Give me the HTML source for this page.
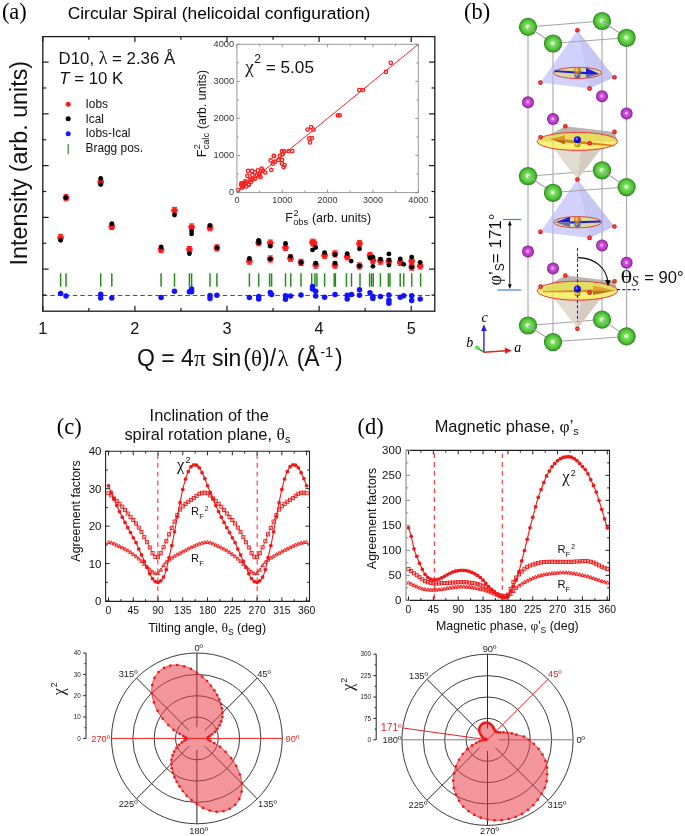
<!DOCTYPE html>
<html><head><meta charset="utf-8"><title>Figure</title>
<style>html,body{margin:0;padding:0;background:#fff;}svg{display:block;will-change:transform;}</style></head>
<body><svg width="685" height="836" viewBox="0 0 685 836">
<rect width="685" height="836" fill="#fff"/>
<text x="1.9" y="19" font-size="22.4" text-anchor="start" fill="#000" style="font-family:'Liberation Serif',serif;" >(a)</text>
<text x="67.7" y="18.5" font-size="17.4" text-anchor="start" fill="#000" style="font-family:'Liberation Sans',sans-serif;" >Circular Spiral (helicoidal configuration)</text>
<line x1="60.6" y1="273.3" x2="60.6" y2="286.7" stroke="#2a8a1e" stroke-width="1.5" />
<line x1="66" y1="273.3" x2="66" y2="286.7" stroke="#2a8a1e" stroke-width="1.5" />
<line x1="100.7" y1="273.3" x2="100.7" y2="286.7" stroke="#2a8a1e" stroke-width="1.5" />
<line x1="111.8" y1="273.3" x2="111.8" y2="286.7" stroke="#2a8a1e" stroke-width="1.5" />
<line x1="161.1" y1="273.3" x2="161.1" y2="286.7" stroke="#2a8a1e" stroke-width="1.5" />
<line x1="174.5" y1="273.3" x2="174.5" y2="286.7" stroke="#2a8a1e" stroke-width="1.5" />
<line x1="189.4" y1="273.3" x2="189.4" y2="286.7" stroke="#2a8a1e" stroke-width="1.5" />
<line x1="191.6" y1="273.3" x2="191.6" y2="286.7" stroke="#2a8a1e" stroke-width="1.5" />
<line x1="210" y1="273.3" x2="210" y2="286.7" stroke="#2a8a1e" stroke-width="1.5" />
<line x1="216.9" y1="273.3" x2="216.9" y2="286.7" stroke="#2a8a1e" stroke-width="1.5" />
<line x1="249.4" y1="273.3" x2="249.4" y2="286.7" stroke="#2a8a1e" stroke-width="1.5" />
<line x1="258.7" y1="273.3" x2="258.7" y2="286.7" stroke="#2a8a1e" stroke-width="1.5" />
<line x1="269.6" y1="273.3" x2="269.6" y2="286.7" stroke="#2a8a1e" stroke-width="1.5" />
<line x1="271.6" y1="273.3" x2="271.6" y2="286.7" stroke="#2a8a1e" stroke-width="1.5" />
<line x1="285.5" y1="273.3" x2="285.5" y2="286.7" stroke="#2a8a1e" stroke-width="1.5" />
<line x1="290.8" y1="273.3" x2="290.8" y2="286.7" stroke="#2a8a1e" stroke-width="1.5" />
<line x1="301" y1="273.3" x2="301" y2="286.7" stroke="#2a8a1e" stroke-width="1.5" />
<line x1="311.7" y1="273.3" x2="311.7" y2="286.7" stroke="#2a8a1e" stroke-width="1.5" />
<line x1="314.9" y1="273.3" x2="314.9" y2="286.7" stroke="#2a8a1e" stroke-width="1.5" />
<line x1="316.9" y1="273.3" x2="316.9" y2="286.7" stroke="#2a8a1e" stroke-width="1.5" />
<line x1="324.6" y1="273.3" x2="324.6" y2="286.7" stroke="#2a8a1e" stroke-width="1.5" />
<line x1="334.2" y1="273.3" x2="334.2" y2="286.7" stroke="#2a8a1e" stroke-width="1.5" />
<line x1="335.4" y1="273.3" x2="335.4" y2="286.7" stroke="#2a8a1e" stroke-width="1.5" />
<line x1="346.4" y1="273.3" x2="346.4" y2="286.7" stroke="#2a8a1e" stroke-width="1.5" />
<line x1="351.5" y1="273.3" x2="351.5" y2="286.7" stroke="#2a8a1e" stroke-width="1.5" />
<line x1="360" y1="273.3" x2="360" y2="286.7" stroke="#2a8a1e" stroke-width="1.5" />
<line x1="369.6" y1="273.3" x2="369.6" y2="286.7" stroke="#2a8a1e" stroke-width="1.5" />
<line x1="371.6" y1="273.3" x2="371.6" y2="286.7" stroke="#2a8a1e" stroke-width="1.5" />
<line x1="373.2" y1="273.3" x2="373.2" y2="286.7" stroke="#2a8a1e" stroke-width="1.5" />
<line x1="380.4" y1="273.3" x2="380.4" y2="286.7" stroke="#2a8a1e" stroke-width="1.5" />
<line x1="388.4" y1="273.3" x2="388.4" y2="286.7" stroke="#2a8a1e" stroke-width="1.5" />
<line x1="390" y1="273.3" x2="390" y2="286.7" stroke="#2a8a1e" stroke-width="1.5" />
<line x1="400.2" y1="273.3" x2="400.2" y2="286.7" stroke="#2a8a1e" stroke-width="1.5" />
<line x1="403.7" y1="273.3" x2="403.7" y2="286.7" stroke="#2a8a1e" stroke-width="1.5" />
<line x1="411.7" y1="273.3" x2="411.7" y2="286.7" stroke="#2a8a1e" stroke-width="1.5" />
<line x1="420.6" y1="273.3" x2="420.6" y2="286.7" stroke="#2a8a1e" stroke-width="1.5" />
<line x1="42.8" y1="295.5" x2="434.8" y2="295.5" stroke="#3b3bff" stroke-width="1" stroke-dasharray="4.5,3"/>
<circle cx="60.6" cy="293.4" r="2.75" fill="#1212ff"/>
<circle cx="66" cy="295.9" r="2.75" fill="#1212ff"/>
<circle cx="100.7" cy="294.2" r="2.75" fill="#1212ff"/>
<circle cx="100.7" cy="298" r="2.75" fill="#1212ff"/>
<circle cx="111.8" cy="298" r="2.75" fill="#1212ff"/>
<circle cx="161.1" cy="297.5" r="2.75" fill="#1212ff"/>
<circle cx="174.5" cy="291.2" r="2.75" fill="#1212ff"/>
<circle cx="189.4" cy="291.7" r="2.75" fill="#1212ff"/>
<circle cx="191.6" cy="289" r="2.75" fill="#1212ff"/>
<circle cx="191.6" cy="291.7" r="2.75" fill="#1212ff"/>
<circle cx="210" cy="295.6" r="2.75" fill="#1212ff"/>
<circle cx="210" cy="298.5" r="2.75" fill="#1212ff"/>
<circle cx="216.9" cy="295.2" r="2.75" fill="#1212ff"/>
<circle cx="249.4" cy="297.6" r="2.75" fill="#1212ff"/>
<circle cx="258.7" cy="296.5" r="2.75" fill="#1212ff"/>
<circle cx="258.7" cy="298.9" r="2.75" fill="#1212ff"/>
<circle cx="270.3" cy="292.4" r="2.75" fill="#1212ff"/>
<circle cx="271.6" cy="294.4" r="2.75" fill="#1212ff"/>
<circle cx="285.5" cy="295.7" r="2.75" fill="#1212ff"/>
<circle cx="285.5" cy="299.2" r="2.75" fill="#1212ff"/>
<circle cx="290.5" cy="296.1" r="2.75" fill="#1212ff"/>
<circle cx="301" cy="294.9" r="2.75" fill="#1212ff"/>
<circle cx="312.5" cy="286.5" r="2.75" fill="#1212ff"/>
<circle cx="312.5" cy="289" r="2.75" fill="#1212ff"/>
<circle cx="315.7" cy="291.2" r="2.75" fill="#1212ff"/>
<circle cx="315.7" cy="296" r="2.75" fill="#1212ff"/>
<circle cx="324.6" cy="297.3" r="2.75" fill="#1212ff"/>
<circle cx="335" cy="294.4" r="2.75" fill="#1212ff"/>
<circle cx="347.2" cy="295.3" r="2.75" fill="#1212ff"/>
<circle cx="347.2" cy="298.9" r="2.75" fill="#1212ff"/>
<circle cx="351.5" cy="294.4" r="2.75" fill="#1212ff"/>
<circle cx="359.5" cy="289.7" r="2.75" fill="#1212ff"/>
<circle cx="359.5" cy="295.3" r="2.75" fill="#1212ff"/>
<circle cx="370" cy="292.8" r="2.75" fill="#1212ff"/>
<circle cx="372.9" cy="296.5" r="2.75" fill="#1212ff"/>
<circle cx="372.9" cy="298.6" r="2.75" fill="#1212ff"/>
<circle cx="380.4" cy="296.5" r="2.75" fill="#1212ff"/>
<circle cx="388.9" cy="294.9" r="2.75" fill="#1212ff"/>
<circle cx="388.9" cy="300.2" r="2.75" fill="#1212ff"/>
<circle cx="388.9" cy="303.2" r="2.75" fill="#1212ff"/>
<circle cx="400.2" cy="297.3" r="2.75" fill="#1212ff"/>
<circle cx="403.7" cy="295.7" r="2.75" fill="#1212ff"/>
<circle cx="411.7" cy="295.7" r="2.75" fill="#1212ff"/>
<circle cx="411.7" cy="300.5" r="2.75" fill="#1212ff"/>
<circle cx="420.2" cy="298.9" r="2.75" fill="#1212ff"/>
<path d="M58.1 234.6h5M60.6 234.6v6.2M58.1 240.8h5" stroke="#ff1010" stroke-width="1" fill="none"/>
<ellipse cx="60.6" cy="237.7" rx="3.3" ry="2.8" fill="#ff1a1a"/>
<path d="M63.5 194.6h5M66 194.6v6.2M63.5 200.8h5" stroke="#ff1010" stroke-width="1" fill="none"/>
<ellipse cx="66" cy="197.7" rx="3.3" ry="2.8" fill="#ff1a1a"/>
<path d="M98.2 178.8h5M100.7 178.8v6.2M98.2 185h5" stroke="#ff1010" stroke-width="1" fill="none"/>
<ellipse cx="100.7" cy="181.9" rx="3.3" ry="2.8" fill="#ff1a1a"/>
<path d="M109.3 223.3h5M111.8 223.3v6.2M109.3 229.5h5" stroke="#ff1010" stroke-width="1" fill="none"/>
<ellipse cx="111.8" cy="226.4" rx="3.3" ry="2.8" fill="#ff1a1a"/>
<path d="M158.6 246.5h5M161.1 246.5v6.2M158.6 252.7h5" stroke="#ff1010" stroke-width="1" fill="none"/>
<ellipse cx="161.1" cy="249.6" rx="3.3" ry="2.8" fill="#ff1a1a"/>
<path d="M172 207.4h5M174.5 207.4v6.2M172 213.6h5" stroke="#ff1010" stroke-width="1" fill="none"/>
<ellipse cx="174.5" cy="210.5" rx="3.3" ry="2.8" fill="#ff1a1a"/>
<path d="M186.9 246.5h5M189.4 246.5v6.2M186.9 252.7h5" stroke="#ff1010" stroke-width="1" fill="none"/>
<ellipse cx="189.4" cy="249.6" rx="3.3" ry="2.8" fill="#ff1a1a"/>
<path d="M189.1 223.9h5M191.6 223.9v6.2M189.1 230.1h5" stroke="#ff1010" stroke-width="1" fill="none"/>
<ellipse cx="191.6" cy="227" rx="3.3" ry="2.8" fill="#ff1a1a"/>
<path d="M207.5 224.6h5M210 224.6v6.2M207.5 230.8h5" stroke="#ff1010" stroke-width="1" fill="none"/>
<ellipse cx="210" cy="227.7" rx="3.3" ry="2.8" fill="#ff1a1a"/>
<path d="M214.4 244.8h5M216.9 244.8v6.2M214.4 251h5" stroke="#ff1010" stroke-width="1" fill="none"/>
<ellipse cx="216.9" cy="247.9" rx="3.3" ry="2.8" fill="#ff1a1a"/>
<path d="M246.9 258h5M249.4 258v6.2M246.9 264.2h5" stroke="#ff1010" stroke-width="1" fill="none"/>
<ellipse cx="249.4" cy="261.1" rx="3.3" ry="2.8" fill="#ff1a1a"/>
<path d="M256.2 239.6h5M258.7 239.6v6.2M256.2 245.8h5" stroke="#ff1010" stroke-width="1" fill="none"/>
<ellipse cx="258.7" cy="242.7" rx="3.3" ry="2.8" fill="#ff1a1a"/>
<path d="M267.8 240h5M270.3 240v6.2M267.8 246.2h5" stroke="#ff1010" stroke-width="1" fill="none"/>
<ellipse cx="270.3" cy="243.1" rx="3.3" ry="2.8" fill="#ff1a1a"/>
<path d="M267.8 255.9h5M270.3 255.9v6.2M267.8 262.1h5" stroke="#ff1010" stroke-width="1" fill="none"/>
<ellipse cx="270.3" cy="259" rx="3.3" ry="2.8" fill="#ff1a1a"/>
<path d="M283 244.4h5M285.5 244.4v6.2M283 250.6h5" stroke="#ff1010" stroke-width="1" fill="none"/>
<ellipse cx="285.5" cy="247.5" rx="3.3" ry="2.8" fill="#ff1a1a"/>
<path d="M288 255.1h5M290.5 255.1v6.2M288 261.3h5" stroke="#ff1010" stroke-width="1" fill="none"/>
<ellipse cx="290.5" cy="258.2" rx="3.3" ry="2.8" fill="#ff1a1a"/>
<path d="M298.5 259.3h5M301 259.3v6.2M298.5 265.5h5" stroke="#ff1010" stroke-width="1" fill="none"/>
<ellipse cx="301" cy="262.4" rx="3.3" ry="2.8" fill="#ff1a1a"/>
<path d="M310 239.2h5M312.5 239.2v6.2M310 245.4h5" stroke="#ff1010" stroke-width="1" fill="none"/>
<ellipse cx="312.5" cy="242.3" rx="3.3" ry="2.8" fill="#ff1a1a"/>
<path d="M311.5 240h5M314 240v6.2M311.5 246.2h5" stroke="#ff1010" stroke-width="1" fill="none"/>
<ellipse cx="314" cy="243.1" rx="3.3" ry="2.8" fill="#ff1a1a"/>
<path d="M313.2 262h5M315.7 262v6.2M313.2 268.2h5" stroke="#ff1010" stroke-width="1" fill="none"/>
<ellipse cx="315.7" cy="265.1" rx="3.3" ry="2.8" fill="#ff1a1a"/>
<path d="M322.1 252.1h5M324.6 252.1v6.2M322.1 258.3h5" stroke="#ff1010" stroke-width="1" fill="none"/>
<ellipse cx="324.6" cy="255.2" rx="3.3" ry="2.8" fill="#ff1a1a"/>
<path d="M332.5 250.8h5M335 250.8v6.2M332.5 257h5" stroke="#ff1010" stroke-width="1" fill="none"/>
<ellipse cx="335" cy="253.9" rx="3.3" ry="2.8" fill="#ff1a1a"/>
<path d="M332.5 262h5M335 262v6.2M332.5 268.2h5" stroke="#ff1010" stroke-width="1" fill="none"/>
<ellipse cx="335" cy="265.1" rx="3.3" ry="2.8" fill="#ff1a1a"/>
<path d="M344.7 253.7h5M347.2 253.7v6.2M344.7 259.9h5" stroke="#ff1010" stroke-width="1" fill="none"/>
<ellipse cx="347.2" cy="256.8" rx="3.3" ry="2.8" fill="#ff1a1a"/>
<path d="M357 240.4h5M359.5 240.4v6.2M357 246.6h5" stroke="#ff1010" stroke-width="1" fill="none"/>
<ellipse cx="359.5" cy="243.5" rx="3.3" ry="2.8" fill="#ff1a1a"/>
<path d="M357 262.9h5M359.5 262.9v6.2M357 269.1h5" stroke="#ff1010" stroke-width="1" fill="none"/>
<ellipse cx="359.5" cy="266" rx="3.3" ry="2.8" fill="#ff1a1a"/>
<path d="M367.5 252.4h5M370 252.4v6.2M367.5 258.6h5" stroke="#ff1010" stroke-width="1" fill="none"/>
<ellipse cx="370" cy="255.5" rx="3.3" ry="2.8" fill="#ff1a1a"/>
<path d="M370.4 257.2h5M372.9 257.2v6.2M370.4 263.4h5" stroke="#ff1010" stroke-width="1" fill="none"/>
<ellipse cx="372.9" cy="260.3" rx="3.3" ry="2.8" fill="#ff1a1a"/>
<path d="M377.9 258h5M380.4 258v6.2M377.9 264.2h5" stroke="#ff1010" stroke-width="1" fill="none"/>
<ellipse cx="380.4" cy="261.1" rx="3.3" ry="2.8" fill="#ff1a1a"/>
<path d="M386.4 258.5h5M388.9 258.5v6.2M386.4 264.7h5" stroke="#ff1010" stroke-width="1" fill="none"/>
<ellipse cx="388.9" cy="261.6" rx="3.3" ry="2.8" fill="#ff1a1a"/>
<path d="M397.7 259.2h5M400.2 259.2v6.2M397.7 265.4h5" stroke="#ff1010" stroke-width="1" fill="none"/>
<ellipse cx="400.2" cy="262.3" rx="3.3" ry="2.8" fill="#ff1a1a"/>
<path d="M409.2 258h5M411.7 258v6.2M409.2 264.2h5" stroke="#ff1010" stroke-width="1" fill="none"/>
<ellipse cx="411.7" cy="261.1" rx="3.3" ry="2.8" fill="#ff1a1a"/>
<path d="M409.2 264h5M411.7 264v6.2M409.2 270.2h5" stroke="#ff1010" stroke-width="1" fill="none"/>
<ellipse cx="411.7" cy="267.1" rx="3.3" ry="2.8" fill="#ff1a1a"/>
<path d="M417.7 262.9h5M420.2 262.9v6.2M417.7 269.1h5" stroke="#ff1010" stroke-width="1" fill="none"/>
<ellipse cx="420.2" cy="266" rx="3.3" ry="2.8" fill="#ff1a1a"/>
<circle cx="60.6" cy="240.3" r="2.4" fill="#000"/>
<circle cx="66" cy="197.7" r="2.4" fill="#000"/>
<circle cx="100.7" cy="178.5" r="2.4" fill="#000"/>
<circle cx="100.7" cy="184.6" r="2.4" fill="#000"/>
<circle cx="111.8" cy="223.7" r="2.4" fill="#000"/>
<circle cx="161.1" cy="247" r="2.4" fill="#000"/>
<circle cx="174.5" cy="215" r="2.4" fill="#000"/>
<circle cx="189.4" cy="253.6" r="2.4" fill="#000"/>
<circle cx="191.6" cy="231.1" r="2.4" fill="#000"/>
<circle cx="191.6" cy="233.9" r="2.4" fill="#000"/>
<circle cx="210" cy="225.3" r="2.4" fill="#000"/>
<circle cx="216.9" cy="247.9" r="2.4" fill="#000"/>
<circle cx="249.4" cy="258.4" r="2.4" fill="#000"/>
<circle cx="258.7" cy="240.3" r="2.4" fill="#000"/>
<circle cx="258.7" cy="242.7" r="2.4" fill="#000"/>
<circle cx="270.3" cy="246.2" r="2.4" fill="#000"/>
<circle cx="270.3" cy="259" r="2.4" fill="#000"/>
<circle cx="285.5" cy="243.5" r="2.4" fill="#000"/>
<circle cx="290.5" cy="256.3" r="2.4" fill="#000"/>
<circle cx="301" cy="262.4" r="2.4" fill="#000"/>
<circle cx="312.5" cy="249.9" r="2.4" fill="#000"/>
<circle cx="315.7" cy="247.5" r="2.4" fill="#000"/>
<circle cx="315.7" cy="263.2" r="2.4" fill="#000"/>
<circle cx="324.6" cy="252.6" r="2.4" fill="#000"/>
<circle cx="335" cy="254.7" r="2.4" fill="#000"/>
<circle cx="335" cy="263.1" r="2.4" fill="#000"/>
<circle cx="347.2" cy="253.6" r="2.4" fill="#000"/>
<circle cx="351.2" cy="261.1" r="2.4" fill="#000"/>
<circle cx="359.5" cy="248.8" r="2.4" fill="#000"/>
<circle cx="359.5" cy="266" r="2.4" fill="#000"/>
<circle cx="370" cy="257.9" r="2.4" fill="#000"/>
<circle cx="372.9" cy="257.1" r="2.4" fill="#000"/>
<circle cx="372.9" cy="266.3" r="2.4" fill="#000"/>
<circle cx="380.4" cy="259.2" r="2.4" fill="#000"/>
<circle cx="388.9" cy="253.9" r="2.4" fill="#000"/>
<circle cx="388.9" cy="260" r="2.4" fill="#000"/>
<circle cx="388.9" cy="265.1" r="2.4" fill="#000"/>
<circle cx="400.2" cy="259" r="2.4" fill="#000"/>
<circle cx="403.7" cy="264.3" r="2.4" fill="#000"/>
<circle cx="411.7" cy="257.1" r="2.4" fill="#000"/>
<circle cx="411.7" cy="267.1" r="2.4" fill="#000"/>
<circle cx="420.2" cy="262.3" r="2.4" fill="#000"/>
<rect x="42.8" y="36.6" width="392" height="274.6" fill="none" stroke="#1a1a1a" stroke-width="1.3"/>
<line x1="42.8" y1="311.2" x2="42.8" y2="305.7" stroke="#1a1a1a" stroke-width="1.2" />
<line x1="42.8" y1="36.6" x2="42.8" y2="42.1" stroke="#1a1a1a" stroke-width="1.2" />
<line x1="88.85" y1="311.2" x2="88.85" y2="308" stroke="#1a1a1a" stroke-width="1.2" />
<line x1="88.85" y1="36.6" x2="88.85" y2="39.8" stroke="#1a1a1a" stroke-width="1.2" />
<line x1="134.9" y1="311.2" x2="134.9" y2="305.7" stroke="#1a1a1a" stroke-width="1.2" />
<line x1="134.9" y1="36.6" x2="134.9" y2="42.1" stroke="#1a1a1a" stroke-width="1.2" />
<line x1="180.95" y1="311.2" x2="180.95" y2="308" stroke="#1a1a1a" stroke-width="1.2" />
<line x1="180.95" y1="36.6" x2="180.95" y2="39.8" stroke="#1a1a1a" stroke-width="1.2" />
<line x1="227" y1="311.2" x2="227" y2="305.7" stroke="#1a1a1a" stroke-width="1.2" />
<line x1="227" y1="36.6" x2="227" y2="42.1" stroke="#1a1a1a" stroke-width="1.2" />
<line x1="273.05" y1="311.2" x2="273.05" y2="308" stroke="#1a1a1a" stroke-width="1.2" />
<line x1="273.05" y1="36.6" x2="273.05" y2="39.8" stroke="#1a1a1a" stroke-width="1.2" />
<line x1="319.1" y1="311.2" x2="319.1" y2="305.7" stroke="#1a1a1a" stroke-width="1.2" />
<line x1="319.1" y1="36.6" x2="319.1" y2="42.1" stroke="#1a1a1a" stroke-width="1.2" />
<line x1="365.15" y1="311.2" x2="365.15" y2="308" stroke="#1a1a1a" stroke-width="1.2" />
<line x1="365.15" y1="36.6" x2="365.15" y2="39.8" stroke="#1a1a1a" stroke-width="1.2" />
<line x1="411.2" y1="311.2" x2="411.2" y2="305.7" stroke="#1a1a1a" stroke-width="1.2" />
<line x1="411.2" y1="36.6" x2="411.2" y2="42.1" stroke="#1a1a1a" stroke-width="1.2" />
<text x="42.8" y="333.6" font-size="16.3" text-anchor="middle" fill="#111" style="font-family:'Liberation Sans',sans-serif;" >1</text>
<text x="134.9" y="333.6" font-size="16.3" text-anchor="middle" fill="#111" style="font-family:'Liberation Sans',sans-serif;" >2</text>
<text x="227" y="333.6" font-size="16.3" text-anchor="middle" fill="#111" style="font-family:'Liberation Sans',sans-serif;" >3</text>
<text x="319.1" y="333.6" font-size="16.3" text-anchor="middle" fill="#111" style="font-family:'Liberation Sans',sans-serif;" >4</text>
<text x="411.2" y="333.6" font-size="16.3" text-anchor="middle" fill="#111" style="font-family:'Liberation Sans',sans-serif;" >5</text>
<line x1="42.8" y1="62.1" x2="48.6" y2="62.1" stroke="#1a1a1a" stroke-width="1.2" />
<line x1="434.8" y1="62.1" x2="429" y2="62.1" stroke="#1a1a1a" stroke-width="1.2" />
<line x1="42.8" y1="87.98" x2="46.1" y2="87.98" stroke="#1a1a1a" stroke-width="1.2" />
<line x1="434.8" y1="87.98" x2="431.5" y2="87.98" stroke="#1a1a1a" stroke-width="1.2" />
<line x1="42.8" y1="113.86" x2="48.6" y2="113.86" stroke="#1a1a1a" stroke-width="1.2" />
<line x1="434.8" y1="113.86" x2="429" y2="113.86" stroke="#1a1a1a" stroke-width="1.2" />
<line x1="42.8" y1="139.74" x2="46.1" y2="139.74" stroke="#1a1a1a" stroke-width="1.2" />
<line x1="434.8" y1="139.74" x2="431.5" y2="139.74" stroke="#1a1a1a" stroke-width="1.2" />
<line x1="42.8" y1="165.62" x2="48.6" y2="165.62" stroke="#1a1a1a" stroke-width="1.2" />
<line x1="434.8" y1="165.62" x2="429" y2="165.62" stroke="#1a1a1a" stroke-width="1.2" />
<line x1="42.8" y1="191.5" x2="46.1" y2="191.5" stroke="#1a1a1a" stroke-width="1.2" />
<line x1="434.8" y1="191.5" x2="431.5" y2="191.5" stroke="#1a1a1a" stroke-width="1.2" />
<line x1="42.8" y1="217.38" x2="48.6" y2="217.38" stroke="#1a1a1a" stroke-width="1.2" />
<line x1="434.8" y1="217.38" x2="429" y2="217.38" stroke="#1a1a1a" stroke-width="1.2" />
<line x1="42.8" y1="243.26" x2="46.1" y2="243.26" stroke="#1a1a1a" stroke-width="1.2" />
<line x1="434.8" y1="243.26" x2="431.5" y2="243.26" stroke="#1a1a1a" stroke-width="1.2" />
<line x1="42.8" y1="269.14" x2="48.6" y2="269.14" stroke="#1a1a1a" stroke-width="1.2" />
<line x1="434.8" y1="269.14" x2="429" y2="269.14" stroke="#1a1a1a" stroke-width="1.2" />
<line x1="42.8" y1="295.02" x2="46.1" y2="295.02" stroke="#1a1a1a" stroke-width="1.2" />
<line x1="434.8" y1="295.02" x2="431.5" y2="295.02" stroke="#1a1a1a" stroke-width="1.2" />
<text x="137" y="365.6" font-size="23" text-anchor="start" fill="#111" style="font-family:'Liberation Sans',sans-serif;" >Q = 4<tspan font-family="Liberation Serif">π</tspan> sin<tspan dx="2">(</tspan><tspan font-family="Liberation Serif">θ</tspan>)/<tspan dx="1.5" font-family="Liberation Serif">λ</tspan><tspan dx="1.5"> (Å</tspan><tspan dx="0.5" dy="-8.5" font-size="14.5">-1</tspan><tspan dx="2" dy="8.5">)</tspan></text>
<text transform="translate(26.9,163.2) rotate(-90)" font-size="23.3" text-anchor="middle" fill="#111" style="font-family:'Liberation Sans',sans-serif">Intensity (arb. units)</text>
<text x="58.6" y="63.6" font-size="16.8" text-anchor="start" fill="#111" style="font-family:'Liberation Sans',sans-serif;" >D10, <tspan font-family="Liberation Serif" font-size="18">λ</tspan> = 2.36 Å</text>
<text x="59.3" y="84.1" font-size="16.8" text-anchor="start" fill="#111" style="font-family:'Liberation Sans',sans-serif;" ><tspan font-style="italic">T</tspan> = 10 K</text>
<circle cx="68.2" cy="104.2" r="2.5" fill="#ff1a1a"/>
<circle cx="68.2" cy="118.8" r="2.5" fill="#000"/>
<circle cx="68.2" cy="133.7" r="2.5" fill="#1a1aff"/>
<line x1="68.2" y1="144" x2="68.2" y2="154.3" stroke="#2f8f2a" stroke-width="1.2" />
<text x="85.5" y="107.9" font-size="11.9" text-anchor="start" fill="#111" style="font-family:'Liberation Sans',sans-serif;" >Iobs</text>
<text x="85.5" y="122.5" font-size="11.9" text-anchor="start" fill="#111" style="font-family:'Liberation Sans',sans-serif;" >Ical</text>
<text x="85.5" y="137.4" font-size="11.9" text-anchor="start" fill="#111" style="font-family:'Liberation Sans',sans-serif;" >Iobs-Ical</text>
<text x="85.5" y="152.1" font-size="11.9" text-anchor="start" fill="#111" style="font-family:'Liberation Sans',sans-serif;" >Bragg pos.</text>
<rect x="236.9" y="44.3" width="181.4" height="148.3" fill="#fff" stroke="none"/>
<line x1="236.9" y1="192.6" x2="418.3" y2="44.3" stroke="#ff2020" stroke-width="1" />
<circle cx="238.03" cy="190" r="1.7" fill="none" stroke="#ff2020" stroke-width="1.35"/>
<circle cx="241.48" cy="183.29" r="1.7" fill="none" stroke="#ff2020" stroke-width="1.35"/>
<circle cx="243.88" cy="183" r="1.7" fill="none" stroke="#ff2020" stroke-width="1.35"/>
<circle cx="242.98" cy="186.19" r="1.7" fill="none" stroke="#ff2020" stroke-width="1.35"/>
<circle cx="241.71" cy="183.41" r="1.7" fill="none" stroke="#ff2020" stroke-width="1.35"/>
<circle cx="243.2" cy="186.48" r="1.7" fill="none" stroke="#ff2020" stroke-width="1.35"/>
<circle cx="242.21" cy="187.48" r="1.7" fill="none" stroke="#ff2020" stroke-width="1.35"/>
<circle cx="241.21" cy="185" r="1.7" fill="none" stroke="#ff2020" stroke-width="1.35"/>
<circle cx="246.29" cy="186.48" r="1.7" fill="none" stroke="#ff2020" stroke-width="1.35"/>
<circle cx="247.42" cy="175.99" r="1.7" fill="none" stroke="#ff2020" stroke-width="1.35"/>
<circle cx="248.01" cy="170.99" r="1.7" fill="none" stroke="#ff2020" stroke-width="1.35"/>
<circle cx="252.09" cy="170.99" r="1.7" fill="none" stroke="#ff2020" stroke-width="1.35"/>
<circle cx="252.41" cy="175.1" r="1.7" fill="none" stroke="#ff2020" stroke-width="1.35"/>
<circle cx="248.6" cy="184.7" r="1.7" fill="none" stroke="#ff2020" stroke-width="1.35"/>
<circle cx="250.6" cy="179.18" r="1.7" fill="none" stroke="#ff2020" stroke-width="1.35"/>
<circle cx="250.91" cy="181.89" r="1.7" fill="none" stroke="#ff2020" stroke-width="1.35"/>
<circle cx="248.92" cy="184.52" r="1.7" fill="none" stroke="#ff2020" stroke-width="1.35"/>
<circle cx="252.91" cy="179.29" r="1.7" fill="none" stroke="#ff2020" stroke-width="1.35"/>
<circle cx="255.31" cy="178.59" r="1.7" fill="none" stroke="#ff2020" stroke-width="1.35"/>
<circle cx="257.9" cy="170.39" r="1.7" fill="none" stroke="#ff2020" stroke-width="1.35"/>
<circle cx="259.08" cy="175.69" r="1.7" fill="none" stroke="#ff2020" stroke-width="1.35"/>
<circle cx="260.53" cy="177.21" r="1.7" fill="none" stroke="#ff2020" stroke-width="1.35"/>
<circle cx="261.71" cy="168.69" r="1.7" fill="none" stroke="#ff2020" stroke-width="1.35"/>
<circle cx="262.89" cy="170.69" r="1.7" fill="none" stroke="#ff2020" stroke-width="1.35"/>
<circle cx="265.2" cy="172.51" r="1.7" fill="none" stroke="#ff2020" stroke-width="1.35"/>
<circle cx="259.62" cy="173.69" r="1.7" fill="none" stroke="#ff2020" stroke-width="1.35"/>
<circle cx="256.99" cy="175.29" r="1.7" fill="none" stroke="#ff2020" stroke-width="1.35"/>
<circle cx="254.99" cy="172.21" r="1.7" fill="none" stroke="#ff2020" stroke-width="1.35"/>
<circle cx="245.06" cy="181.48" r="1.7" fill="none" stroke="#ff2020" stroke-width="1.35"/>
<circle cx="245.97" cy="182.96" r="1.7" fill="none" stroke="#ff2020" stroke-width="1.35"/>
<circle cx="249.6" cy="180.37" r="1.7" fill="none" stroke="#ff2020" stroke-width="1.35"/>
<circle cx="271.37" cy="169.91" r="1.7" fill="none" stroke="#ff2020" stroke-width="1.35"/>
<circle cx="272.82" cy="163.72" r="1.7" fill="none" stroke="#ff2020" stroke-width="1.35"/>
<circle cx="270.69" cy="160.49" r="1.7" fill="none" stroke="#ff2020" stroke-width="1.35"/>
<circle cx="274" cy="156.12" r="1.7" fill="none" stroke="#ff2020" stroke-width="1.35"/>
<circle cx="275.08" cy="161.72" r="1.7" fill="none" stroke="#ff2020" stroke-width="1.35"/>
<circle cx="273.81" cy="155.82" r="1.7" fill="none" stroke="#ff2020" stroke-width="1.35"/>
<circle cx="279.89" cy="155.82" r="1.7" fill="none" stroke="#ff2020" stroke-width="1.35"/>
<circle cx="281.98" cy="151.19" r="1.7" fill="none" stroke="#ff2020" stroke-width="1.35"/>
<circle cx="284.06" cy="151.19" r="1.7" fill="none" stroke="#ff2020" stroke-width="1.35"/>
<circle cx="281.98" cy="159.9" r="1.7" fill="none" stroke="#ff2020" stroke-width="1.35"/>
<circle cx="281.98" cy="163.5" r="1.7" fill="none" stroke="#ff2020" stroke-width="1.35"/>
<circle cx="284.61" cy="165.02" r="1.7" fill="none" stroke="#ff2020" stroke-width="1.35"/>
<circle cx="283.61" cy="167.09" r="1.7" fill="none" stroke="#ff2020" stroke-width="1.35"/>
<circle cx="288.69" cy="151.19" r="1.7" fill="none" stroke="#ff2020" stroke-width="1.35"/>
<circle cx="292.27" cy="151.19" r="1.7" fill="none" stroke="#ff2020" stroke-width="1.35"/>
<circle cx="278.49" cy="159.9" r="1.7" fill="none" stroke="#ff2020" stroke-width="1.35"/>
<circle cx="282.61" cy="154.3" r="1.7" fill="none" stroke="#ff2020" stroke-width="1.35"/>
<circle cx="307.51" cy="129.61" r="1.7" fill="none" stroke="#ff2020" stroke-width="1.35"/>
<circle cx="311.18" cy="127.01" r="1.7" fill="none" stroke="#ff2020" stroke-width="1.35"/>
<circle cx="313.41" cy="129.61" r="1.7" fill="none" stroke="#ff2020" stroke-width="1.35"/>
<circle cx="309.28" cy="138.4" r="1.7" fill="none" stroke="#ff2020" stroke-width="1.35"/>
<circle cx="311.91" cy="138.21" r="1.7" fill="none" stroke="#ff2020" stroke-width="1.35"/>
<circle cx="310.09" cy="142.4" r="1.7" fill="none" stroke="#ff2020" stroke-width="1.35"/>
<circle cx="337.89" cy="115.3" r="1.7" fill="none" stroke="#ff2020" stroke-width="1.35"/>
<circle cx="339.71" cy="115.3" r="1.7" fill="none" stroke="#ff2020" stroke-width="1.35"/>
<circle cx="359.21" cy="90.12" r="1.7" fill="none" stroke="#ff2020" stroke-width="1.35"/>
<circle cx="362.88" cy="90.12" r="1.7" fill="none" stroke="#ff2020" stroke-width="1.35"/>
<circle cx="385.92" cy="71.92" r="1.7" fill="none" stroke="#ff2020" stroke-width="1.35"/>
<circle cx="390.77" cy="62.84" r="1.7" fill="none" stroke="#ff2020" stroke-width="1.35"/>
<rect x="236.9" y="44.3" width="181.4" height="148.3" fill="none" stroke="#9a9a9a" stroke-width="1"/>
<line x1="236.9" y1="192.6" x2="236.9" y2="189.6" stroke="#888" stroke-width="0.9" />
<line x1="236.9" y1="44.3" x2="236.9" y2="47.3" stroke="#888" stroke-width="0.9" />
<line x1="236.9" y1="192.6" x2="239.9" y2="192.6" stroke="#888" stroke-width="0.9" />
<line x1="418.3" y1="192.6" x2="415.3" y2="192.6" stroke="#888" stroke-width="0.9" />
<line x1="259.57" y1="192.6" x2="259.57" y2="190.6" stroke="#888" stroke-width="0.9" />
<line x1="259.57" y1="44.3" x2="259.57" y2="46.3" stroke="#888" stroke-width="0.9" />
<line x1="236.9" y1="174.06" x2="238.9" y2="174.06" stroke="#888" stroke-width="0.9" />
<line x1="418.3" y1="174.06" x2="416.3" y2="174.06" stroke="#888" stroke-width="0.9" />
<line x1="282.25" y1="192.6" x2="282.25" y2="189.6" stroke="#888" stroke-width="0.9" />
<line x1="282.25" y1="44.3" x2="282.25" y2="47.3" stroke="#888" stroke-width="0.9" />
<line x1="236.9" y1="155.52" x2="239.9" y2="155.52" stroke="#888" stroke-width="0.9" />
<line x1="418.3" y1="155.52" x2="415.3" y2="155.52" stroke="#888" stroke-width="0.9" />
<line x1="304.93" y1="192.6" x2="304.93" y2="190.6" stroke="#888" stroke-width="0.9" />
<line x1="304.93" y1="44.3" x2="304.93" y2="46.3" stroke="#888" stroke-width="0.9" />
<line x1="236.9" y1="136.99" x2="238.9" y2="136.99" stroke="#888" stroke-width="0.9" />
<line x1="418.3" y1="136.99" x2="416.3" y2="136.99" stroke="#888" stroke-width="0.9" />
<line x1="327.6" y1="192.6" x2="327.6" y2="189.6" stroke="#888" stroke-width="0.9" />
<line x1="327.6" y1="44.3" x2="327.6" y2="47.3" stroke="#888" stroke-width="0.9" />
<line x1="236.9" y1="118.45" x2="239.9" y2="118.45" stroke="#888" stroke-width="0.9" />
<line x1="418.3" y1="118.45" x2="415.3" y2="118.45" stroke="#888" stroke-width="0.9" />
<line x1="350.27" y1="192.6" x2="350.27" y2="190.6" stroke="#888" stroke-width="0.9" />
<line x1="350.27" y1="44.3" x2="350.27" y2="46.3" stroke="#888" stroke-width="0.9" />
<line x1="236.9" y1="99.91" x2="238.9" y2="99.91" stroke="#888" stroke-width="0.9" />
<line x1="418.3" y1="99.91" x2="416.3" y2="99.91" stroke="#888" stroke-width="0.9" />
<line x1="372.95" y1="192.6" x2="372.95" y2="189.6" stroke="#888" stroke-width="0.9" />
<line x1="372.95" y1="44.3" x2="372.95" y2="47.3" stroke="#888" stroke-width="0.9" />
<line x1="236.9" y1="81.37" x2="239.9" y2="81.37" stroke="#888" stroke-width="0.9" />
<line x1="418.3" y1="81.37" x2="415.3" y2="81.37" stroke="#888" stroke-width="0.9" />
<line x1="395.62" y1="192.6" x2="395.62" y2="190.6" stroke="#888" stroke-width="0.9" />
<line x1="395.62" y1="44.3" x2="395.62" y2="46.3" stroke="#888" stroke-width="0.9" />
<line x1="236.9" y1="62.84" x2="238.9" y2="62.84" stroke="#888" stroke-width="0.9" />
<line x1="418.3" y1="62.84" x2="416.3" y2="62.84" stroke="#888" stroke-width="0.9" />
<line x1="418.3" y1="192.6" x2="418.3" y2="189.6" stroke="#888" stroke-width="0.9" />
<line x1="418.3" y1="44.3" x2="418.3" y2="47.3" stroke="#888" stroke-width="0.9" />
<line x1="236.9" y1="44.3" x2="239.9" y2="44.3" stroke="#888" stroke-width="0.9" />
<line x1="418.3" y1="44.3" x2="415.3" y2="44.3" stroke="#888" stroke-width="0.9" />
<text x="236.9" y="202.6" font-size="9.0" text-anchor="middle" fill="#333" style="font-family:'Liberation Sans',sans-serif;" >0</text>
<text x="234" y="195.1" font-size="9.2" text-anchor="end" fill="#333" style="font-family:'Liberation Sans',sans-serif;" >0</text>
<text x="282.25" y="202.6" font-size="9.0" text-anchor="middle" fill="#333" style="font-family:'Liberation Sans',sans-serif;" >1000</text>
<text x="234" y="158.02" font-size="9.2" text-anchor="end" fill="#333" style="font-family:'Liberation Sans',sans-serif;" >1000</text>
<text x="327.6" y="202.6" font-size="9.0" text-anchor="middle" fill="#333" style="font-family:'Liberation Sans',sans-serif;" >2000</text>
<text x="234" y="120.95" font-size="9.2" text-anchor="end" fill="#333" style="font-family:'Liberation Sans',sans-serif;" >2000</text>
<text x="372.95" y="202.6" font-size="9.0" text-anchor="middle" fill="#333" style="font-family:'Liberation Sans',sans-serif;" >3000</text>
<text x="234" y="83.87" font-size="9.2" text-anchor="end" fill="#333" style="font-family:'Liberation Sans',sans-serif;" >3000</text>
<text x="418.3" y="202.6" font-size="9.0" text-anchor="middle" fill="#333" style="font-family:'Liberation Sans',sans-serif;" >4000</text>
<text x="234" y="46.8" font-size="9.2" text-anchor="end" fill="#333" style="font-family:'Liberation Sans',sans-serif;" >4000</text>
<text x="245.2" y="72.6" font-size="17.2" text-anchor="start" fill="#111" style="font-family:'Liberation Sans',sans-serif;" ><tspan font-family="Liberation Serif" font-size="19">χ</tspan><tspan dx="0.6" dy="-9.2" font-size="12">2</tspan><tspan dy="9.2"> = 5.05</tspan></text>
<text x="285.2" y="221.9" font-size="12.4" text-anchor="start" fill="#111" style="font-family:'Liberation Sans',sans-serif;" >F<tspan dx="0.6" dy="-5.6" font-size="9.2">2</tspan><tspan dx="-5.3" dy="8.6" font-size="9.2">obs</tspan><tspan dx="0.5" dy="-3"> (arb. units)</tspan></text>
<text transform="translate(205.6,113.6) rotate(-90)" font-size="12.4" text-anchor="middle" fill="#111" style="font-family:'Liberation Sans',sans-serif">F<tspan dx="0.6" dy="-5.6" font-size="9.2">2</tspan><tspan dx="-5.3" dy="8.6" font-size="9.2">calc</tspan><tspan dx="0.5" dy="-3"> (arb. units)</tspan></text>
<defs>
<radialGradient id="gG" cx="0.5" cy="0.5" r="0.5" fx="0.48" fy="0.48"><stop offset="0" stop-color="#ffffff"/><stop offset="0.12" stop-color="#e0ffd4"/><stop offset="0.3" stop-color="#7ade5e"/><stop offset="0.72" stop-color="#4fc236"/><stop offset="0.9" stop-color="#389a28"/><stop offset="1" stop-color="#2a6e20"/></radialGradient>
<radialGradient id="gP" cx="0.5" cy="0.5" r="0.5" fx="0.47" fy="0.47"><stop offset="0" stop-color="#ffffff"/><stop offset="0.12" stop-color="#f2b0f6"/><stop offset="0.32" stop-color="#d056dc"/><stop offset="0.8" stop-color="#b030c0"/><stop offset="0.93" stop-color="#8a1e98"/><stop offset="1" stop-color="#6a1478"/></radialGradient>
<radialGradient id="gR" cx="0.5" cy="0.5" r="0.5" fx="0.45" fy="0.45"><stop offset="0" stop-color="#ffd0d0"/><stop offset="0.3" stop-color="#ff3030"/><stop offset="0.85" stop-color="#e01818"/><stop offset="1" stop-color="#a01010"/></radialGradient>
<radialGradient id="gB" cx="0.4" cy="0.36" r="0.68"><stop offset="0" stop-color="#a0a0ff"/><stop offset="0.35" stop-color="#1818f0"/><stop offset="1" stop-color="#000090"/></radialGradient>
<radialGradient id="gO" cx="0.4" cy="0.36" r="0.68"><stop offset="0" stop-color="#ffe8b0"/><stop offset="0.35" stop-color="#e0962c"/><stop offset="1" stop-color="#905a10"/></radialGradient>
<radialGradient id="gYs" cx="0.4" cy="0.36" r="0.68"><stop offset="0" stop-color="#fff8b0"/><stop offset="0.4" stop-color="#e8c020"/><stop offset="1" stop-color="#a08010"/></radialGradient>
<radialGradient id="gGr" cx="0.4" cy="0.36" r="0.68"><stop offset="0" stop-color="#c0c0d8"/><stop offset="0.5" stop-color="#7070a0"/><stop offset="1" stop-color="#505078"/></radialGradient>
</defs>
<text x="464.1" y="19" font-size="22.4" text-anchor="start" fill="#000" style="font-family:'Liberation Serif',serif;" >(b)</text>
<line x1="528" y1="26.9" x2="528" y2="325.5" stroke="#a4a4a4" stroke-width="1.05" />
<line x1="602" y1="21" x2="602" y2="319.6" stroke="#a4a4a4" stroke-width="1.05" />
<line x1="528" y1="26.9" x2="602" y2="21" stroke="#a4a4a4" stroke-width="1.05" />
<line x1="528" y1="176.2" x2="602" y2="170.3" stroke="#a4a4a4" stroke-width="1.05" />
<line x1="528" y1="325.5" x2="602" y2="319.6" stroke="#a4a4a4" stroke-width="1.05" />
<circle cx="528" cy="26.9" r="9.1" fill="url(#gG)"/>
<circle cx="602" cy="21" r="9.1" fill="url(#gG)"/>
<circle cx="528" cy="176.2" r="9.1" fill="url(#gG)"/>
<circle cx="602" cy="170.3" r="9.1" fill="url(#gG)"/>
<circle cx="528" cy="325.5" r="9.1" fill="url(#gG)"/>
<circle cx="602" cy="319.6" r="9.1" fill="url(#gG)"/>
<line x1="528" y1="26.9" x2="553" y2="43.2" stroke="#a4a4a4" stroke-width="1.05" />
<line x1="602" y1="21" x2="626.6" y2="37.8" stroke="#a4a4a4" stroke-width="1.05" />
<line x1="528" y1="176.2" x2="553" y2="192.5" stroke="#a4a4a4" stroke-width="1.05" />
<line x1="602" y1="170.3" x2="626.6" y2="187.1" stroke="#a4a4a4" stroke-width="1.05" />
<line x1="528" y1="325.5" x2="553" y2="341.8" stroke="#a4a4a4" stroke-width="1.05" />
<line x1="602" y1="319.6" x2="626.6" y2="336.4" stroke="#a4a4a4" stroke-width="1.05" />
<circle cx="528" cy="102.2" r="6" fill="url(#gP)"/>
<circle cx="602" cy="96.2" r="6" fill="url(#gP)"/>
<circle cx="528" cy="251.5" r="6" fill="url(#gP)"/>
<circle cx="602" cy="245.5" r="6" fill="url(#gP)"/>
<line x1="553" y1="43.2" x2="553" y2="341.8" stroke="#a4a4a4" stroke-width="1.05" />
<line x1="626.6" y1="37.8" x2="626.6" y2="336.4" stroke="#a4a4a4" stroke-width="1.05" />
<polygon points="577.4,30.2 540.4,82.6 589.6,88.6" fill="#b4b4fa" fill-opacity="0.62"/>
<polygon points="577.4,30.2 589.6,88.6 614.4,77.2" fill="#a4a4ee" fill-opacity="0.62"/>
<ellipse cx="577.7" cy="72.9" rx="23.8" ry="5.6" fill="#d9d79a" stroke="#e03040" stroke-width="0.9"/>
<polygon points="554.5,70.3 586,72.1 586,74.3 554.5,72.1" fill="#1c1ce0"/>
<polygon points="599.4,73.9 586,67.7 586,73.9" fill="#1c1ce0"/>
<polygon points="599.4,73.9 586,73.9 586,77.9" fill="#6868a8"/>
<circle cx="577.4" cy="75.2" r="3.0" fill="url(#gGr)"/>
<circle cx="577.4" cy="70.7" r="3.4" fill="url(#gO)"/>
<polygon points="577.4,179.5 540.4,231.9 589.6,237.9" fill="#b4b4fa" fill-opacity="0.62"/>
<polygon points="577.4,179.5 589.6,237.9 614.4,226.5" fill="#a4a4ee" fill-opacity="0.62"/>
<ellipse cx="577.7" cy="222.2" rx="23.8" ry="5.6" fill="#d9d79a" stroke="#e03040" stroke-width="0.9"/>
<polygon points="600.5,220.4 570,221.4 570,223.6 600.5,222.6" fill="#1c1ce0"/>
<polygon points="555.5,222.2 570,216.7 570,222.2" fill="#1c1ce0"/>
<polygon points="555.5,222.2 570,222.2 570,227.2" fill="#6868a8"/>
<circle cx="577.4" cy="224.5" r="3.0" fill="url(#gGr)"/>
<circle cx="577.4" cy="220" r="3.4" fill="url(#gO)"/>
<polygon points="537.5,141.4 565.3,126.2 614.5,131.9 617.6,141.4" fill="#a09a90" fill-opacity="0.72"/>
<polygon points="553.5,148.4 601.3,148.4 577.4,179.5" fill="#ddd5ca" fill-opacity="0.85"/>
<polygon points="581,149.9 601.3,148.4 577.4,179.5" fill="#cdc2b3" fill-opacity="0.6"/>
<ellipse cx="577.4" cy="141.4" rx="40.2" ry="9.0" fill="#f4ea48" fill-opacity="0.72" stroke="#f03838" stroke-width="1"/>
<polygon points="614.6,145 564.5,139.2 564.5,142.4 614.6,146.4" fill="#d08a1c"/>
<polygon points="550.8,138.9 565,135.2 565,140.2" fill="#e09828"/>
<polygon points="550.8,138.9 565,140.2 565,144.6" fill="#b07010"/>
<circle cx="577.4" cy="144" r="3.2" fill="url(#gYs)"/>
<circle cx="577.4" cy="139.7" r="3.5" fill="url(#gB)"/>
<polygon points="537.5,290.7 565.3,275.5 614.5,281.2 617.6,290.7" fill="#a09a90" fill-opacity="0.72"/>
<polygon points="553.5,297.7 601.3,297.7 577.4,328.8" fill="#ddd5ca" fill-opacity="0.85"/>
<polygon points="581,299.2 601.3,297.7 577.4,328.8" fill="#cdc2b3" fill-opacity="0.6"/>
<ellipse cx="577.4" cy="290.7" rx="40.2" ry="9.5" fill="#f4ea48" fill-opacity="0.72" stroke="#f03838" stroke-width="1"/>
<polygon points="543,290.9 593,289.5 593,292.3 543,292.3" fill="#d89022"/>
<polygon points="615.6,290.5 593,285.4 593,290.5" fill="#e8a030"/>
<polygon points="615.6,290.5 593,290.5 593,294.9" fill="#b87818"/>
<circle cx="577.4" cy="293.3" r="3.2" fill="url(#gYs)"/>
<circle cx="577.4" cy="289" r="3.5" fill="url(#gB)"/>
<line x1="553" y1="43.2" x2="626.6" y2="37.8" stroke="#a4a4a4" stroke-width="1.05" />
<line x1="553" y1="192.5" x2="626.6" y2="187.1" stroke="#a4a4a4" stroke-width="1.05" />
<line x1="553" y1="341.8" x2="626.6" y2="336.4" stroke="#a4a4a4" stroke-width="1.05" />
<circle cx="577.4" cy="30.2" r="2.3" fill="url(#gR)"/>
<circle cx="540.4" cy="82.6" r="2.3" fill="url(#gR)"/>
<circle cx="589.6" cy="88.6" r="2.3" fill="url(#gR)"/>
<circle cx="614.4" cy="77.2" r="2.3" fill="url(#gR)"/>
<circle cx="565.3" cy="126.2" r="2.3" fill="url(#gR)"/>
<circle cx="614.5" cy="131.9" r="2.3" fill="url(#gR)"/>
<circle cx="540.6" cy="137.3" r="2.3" fill="url(#gR)"/>
<circle cx="589.6" cy="143.3" r="2.3" fill="url(#gR)"/>
<circle cx="577.4" cy="179.5" r="2.3" fill="url(#gR)"/>
<circle cx="540.4" cy="231.9" r="2.3" fill="url(#gR)"/>
<circle cx="589.6" cy="237.9" r="2.3" fill="url(#gR)"/>
<circle cx="614.4" cy="226.5" r="2.3" fill="url(#gR)"/>
<circle cx="565.3" cy="275.5" r="2.3" fill="url(#gR)"/>
<circle cx="614.5" cy="281.2" r="2.3" fill="url(#gR)"/>
<circle cx="540.6" cy="286.6" r="2.3" fill="url(#gR)"/>
<circle cx="589.6" cy="292.6" r="2.3" fill="url(#gR)"/>
<circle cx="577.4" cy="328.8" r="2.3" fill="url(#gR)"/>
<circle cx="553" cy="119.1" r="6" fill="url(#gP)"/>
<circle cx="626.6" cy="113.5" r="6" fill="url(#gP)"/>
<circle cx="553" cy="268.4" r="6" fill="url(#gP)"/>
<circle cx="626.6" cy="262.8" r="6" fill="url(#gP)"/>
<circle cx="553" cy="43.5" r="9.1" fill="url(#gG)"/>
<circle cx="626.6" cy="37.8" r="9.1" fill="url(#gG)"/>
<circle cx="553" cy="192.8" r="9.1" fill="url(#gG)"/>
<circle cx="626.6" cy="187.1" r="9.1" fill="url(#gG)"/>
<circle cx="553" cy="342.1" r="9.1" fill="url(#gG)"/>
<circle cx="626.6" cy="336.4" r="9.1" fill="url(#gG)"/>
<line x1="577.5" y1="248.1" x2="577.5" y2="322" stroke="#1f1fe8" stroke-width="1.1" stroke-dasharray="3.2,2"/>
<line x1="617" y1="289.6" x2="639" y2="289.6" stroke="#1f1fe8" stroke-width="1.1" stroke-dasharray="3.2,2"/>
<path d="M577.5 257.6 C595 257.6 606.5 268 607.8 282" stroke="#000" stroke-width="1.1" fill="none"/>
<polygon points="608,286.2 605.2,280 610.8,280.2" fill="#000"/>
<text transform="translate(620.4,282.8) scale(1.3,1)" font-size="19" fill="#111" style="font-family:'Liberation Serif',serif">θ</text>
<text x="631.4" y="282.6" font-size="16.6" text-anchor="start" fill="#111" style="font-family:'Liberation Sans',sans-serif;" ><tspan font-family="Liberation Serif" font-style="italic" font-size="14" dy="3.4">S</tspan><tspan dx="1.2" dy="-3.4"> = 90°</tspan></text>
<line x1="503" y1="219.5" x2="521.2" y2="219.5" stroke="#4a7fd0" stroke-width="1.2" />
<line x1="497.3" y1="290" x2="521.2" y2="290" stroke="#4a7fd0" stroke-width="1.2" />
<line x1="509.8" y1="223" x2="509.8" y2="287" stroke="#000" stroke-width="0.9" />
<polygon points="509.8,220.6 507.9,225.4 511.7,225.4" fill="#000"/><polygon points="509.8,289 507.9,284.2 511.7,284.2" fill="#000"/>
<text transform="translate(500.8,249.4) rotate(-90)" font-size="17" text-anchor="middle" fill="#111" style="font-family:'Liberation Sans',sans-serif"><tspan font-family="Liberation Serif" font-size="18">φ</tspan>’<tspan font-size="12" dy="2.8">S</tspan><tspan dy="-2.8">= 171°</tspan></text>
<line x1="483.9" y1="352.2" x2="483.9" y2="329" stroke="#2020e8" stroke-width="1.4" />
<polygon points="483.9,324.2 481.1,331 486.7,331" fill="#2020e8"/>
<line x1="483.9" y1="352.2" x2="506" y2="350.8" stroke="#e02020" stroke-width="1.4" />
<polygon points="511.9,350.6 504.8,347.6 505.2,353.8" fill="#e02020"/>
<line x1="483.9" y1="352.2" x2="478" y2="348.4" stroke="#20a020" stroke-width="1.4" />
<circle cx="477" cy="347.6" r="2" fill="#50e040"/>
<text x="481.6" y="321.6" font-size="14" text-anchor="start" fill="#000" style="font-family:'Liberation Serif',serif;font-style:italic" >c</text>
<text x="514.3" y="352.3" font-size="14" text-anchor="start" fill="#000" style="font-family:'Liberation Serif',serif;font-style:italic" >a</text>
<text x="466.2" y="347" font-size="14" text-anchor="start" fill="#000" style="font-family:'Liberation Serif',serif;font-style:italic" >b</text>
<text x="56.8" y="434.2" font-size="22.4" text-anchor="start" fill="#000" style="font-family:'Liberation Serif',serif;" >(c)</text>
<text x="149.6" y="420.8" font-size="16.4" text-anchor="start" fill="#111" style="font-family:'Liberation Sans',sans-serif;" >Inclination of the</text>
<text x="124.4" y="440" font-size="16.4" text-anchor="start" fill="#111" style="font-family:'Liberation Sans',sans-serif;" >spiral rotation plane, <tspan font-family="Liberation Serif" font-size="17.5">θ</tspan><tspan font-size="11" dy="3">s</tspan></text>
<line x1="157.8" y1="454.2" x2="157.8" y2="601.4" stroke="#ff4040" stroke-width="1.2" stroke-dasharray="4.8,4"/>
<line x1="257.2" y1="454.2" x2="257.2" y2="601.4" stroke="#ff4040" stroke-width="1.2" stroke-dasharray="4.8,4"/>
<polyline points="108.5,493.22 109.05,493.54 109.6,493.93 110.15,494.39 110.7,494.91 111.25,495.46 111.8,496.05 112.35,496.65 112.9,497.26 113.45,497.87 114,498.46 114.55,499.02 115.1,499.56 115.65,500.09 116.2,500.6 116.75,501.11 117.3,501.61 117.86,502.11 118.41,502.62 118.96,503.14 119.51,503.68 120.06,504.24 120.61,504.82 121.16,505.42 121.71,506.04 122.26,506.68 122.81,507.33 123.36,508 123.91,508.68 124.46,509.36 125.01,510.06 125.56,510.75 126.11,511.45 126.66,512.16 127.21,512.86 127.76,513.55 128.31,514.24 128.86,514.93 129.41,515.6 129.96,516.26 130.51,516.91 131.06,517.55 131.61,518.17 132.16,518.79 132.71,519.4 133.26,520.03 133.81,520.67 134.36,521.32 134.91,522 135.46,522.71 136.01,523.45 136.57,524.22 137.12,525.02 137.67,525.86 138.22,526.71 138.77,527.58 139.32,528.46 139.87,529.35 140.42,530.26 140.97,531.18 141.52,532.13 142.07,533.1 142.62,534.1 143.17,535.12 143.72,536.14 144.27,537.17 144.82,538.2 145.37,539.21 145.92,540.22 146.47,541.23 147.02,542.24 147.57,543.25 148.12,544.27 148.67,545.31 149.22,546.38 149.77,547.48 150.32,548.62 150.87,549.78 151.42,550.93 151.97,552.05 152.52,553.1 153.07,554.06 153.62,554.92 154.17,555.67 154.73,556.31 155.28,556.84 155.83,557.24 156.38,557.49 156.93,557.58 157.48,557.5 158.03,557.21 158.58,556.72 159.13,556.05 159.68,555.22 160.23,554.26 160.78,553.2 161.33,552.06 161.88,550.88 162.43,549.67 162.98,548.46 163.53,547.26 164.08,546.09 164.63,544.92 165.18,543.73 165.73,542.51 166.28,541.21 166.83,539.86 167.38,538.48 167.93,537.07 168.48,535.68 169.03,534.32 169.58,532.99 170.13,531.7 170.68,530.42 171.23,529.15 171.78,527.89 172.33,526.63 172.89,525.36 173.44,524.09 173.99,522.82 174.54,521.54 175.09,520.26 175.64,518.98 176.19,517.7 176.74,516.43 177.29,515.17 177.84,513.93 178.39,512.73 178.94,511.59 179.49,510.53 180.04,509.57 180.59,508.73 181.14,508.01 181.69,507.37 182.24,506.8 182.79,506.29 183.34,505.79 183.89,505.31 184.44,504.84 184.99,504.38 185.54,503.93 186.09,503.48 186.64,503.03 187.19,502.59 187.74,502.16 188.29,501.73 188.84,501.32 189.39,500.92 189.94,500.54 190.49,500.19 191.05,499.85 191.6,499.52 192.15,499.19 192.7,498.86 193.25,498.5 193.8,498.12 194.35,497.7 194.9,497.25 195.45,496.79 196,496.31 196.55,495.83 197.1,495.36 197.65,494.91 198.2,494.49 198.75,494.11 199.3,493.76 199.85,493.46 200.4,493.22 200.95,493.03 201.5,492.89 202.05,492.79 202.6,492.73 203.15,492.69 203.7,492.66 204.25,492.65 204.8,492.64 205.35,492.66 205.9,492.71 206.45,492.82 207,492.98 207.55,493.22 208.1,493.54 208.65,493.93 209.2,494.39 209.76,494.91 210.31,495.46 210.86,496.05 211.41,496.65 211.96,497.26 212.51,497.87 213.06,498.46 213.61,499.02 214.16,499.56 214.71,500.09 215.26,500.6 215.81,501.11 216.36,501.61 216.91,502.11 217.46,502.62 218.01,503.14 218.56,503.68 219.11,504.24 219.66,504.82 220.21,505.42 220.76,506.04 221.31,506.68 221.86,507.33 222.41,508 222.96,508.68 223.51,509.36 224.06,510.06 224.61,510.75 225.16,511.45 225.71,512.16 226.26,512.86 226.81,513.55 227.36,514.24 227.92,514.93 228.47,515.6 229.02,516.26 229.57,516.91 230.12,517.55 230.67,518.17 231.22,518.79 231.77,519.4 232.32,520.03 232.87,520.67 233.42,521.32 233.97,522 234.52,522.71 235.07,523.45 235.62,524.22 236.17,525.02 236.72,525.86 237.27,526.71 237.82,527.58 238.37,528.46 238.92,529.35 239.47,530.26 240.02,531.18 240.57,532.13 241.12,533.1 241.67,534.1 242.22,535.12 242.77,536.14 243.32,537.17 243.87,538.2 244.42,539.21 244.97,540.22 245.52,541.23 246.07,542.24 246.63,543.25 247.18,544.27 247.73,545.31 248.28,546.38 248.83,547.48 249.38,548.62 249.93,549.78 250.48,550.93 251.03,552.05 251.58,553.1 252.13,554.06 252.68,554.92 253.23,555.67 253.78,556.31 254.33,556.84 254.88,557.24 255.43,557.49 255.98,557.58 256.53,557.5 257.08,557.21 257.63,556.72 258.18,556.05 258.73,555.22 259.28,554.26 259.83,553.2 260.38,552.06 260.93,550.88 261.48,549.67 262.03,548.46 262.58,547.26 263.13,546.09 263.68,544.92 264.23,543.73 264.79,542.51 265.34,541.21 265.89,539.86 266.44,538.48 266.99,537.07 267.54,535.68 268.09,534.32 268.64,532.99 269.19,531.7 269.74,530.42 270.29,529.15 270.84,527.89 271.39,526.63 271.94,525.36 272.49,524.09 273.04,522.82 273.59,521.54 274.14,520.26 274.69,518.98 275.24,517.7 275.79,516.43 276.34,515.17 276.89,513.93 277.44,512.73 277.99,511.59 278.54,510.53 279.09,509.57 279.64,508.73 280.19,508.01 280.74,507.37 281.29,506.8 281.84,506.29 282.39,505.79 282.95,505.31 283.5,504.84 284.05,504.38 284.6,503.93 285.15,503.48 285.7,503.03 286.25,502.59 286.8,502.16 287.35,501.73 287.9,501.32 288.45,500.92 289,500.54 289.55,500.19 290.1,499.85 290.65,499.52 291.2,499.19 291.75,498.86 292.3,498.5 292.85,498.12 293.4,497.7 293.95,497.25 294.5,496.79 295.05,496.31 295.6,495.83 296.15,495.36 296.7,494.91 297.25,494.49 297.8,494.11 298.35,493.76 298.9,493.46 299.45,493.22 300,493.03 300.55,492.89 301.11,492.79 301.66,492.73 302.21,492.69 302.76,492.66 303.31,492.65 303.86,492.64 304.41,492.66 304.96,492.71 305.51,492.82 306.06,492.98 306.61,493.22" fill="none" stroke="#f01818" stroke-width="0.8"/>
<rect x="106.95" y="491.67" width="3.1" height="3.1" fill="#fff" fill-opacity="0.0" stroke="#f01818" stroke-width="0.9"/>
<rect x="109.7" y="493.91" width="3.1" height="3.1" fill="#fff" fill-opacity="0.0" stroke="#f01818" stroke-width="0.9"/>
<rect x="112.45" y="496.91" width="3.1" height="3.1" fill="#fff" fill-opacity="0.0" stroke="#f01818" stroke-width="0.9"/>
<rect x="115.2" y="499.56" width="3.1" height="3.1" fill="#fff" fill-opacity="0.0" stroke="#f01818" stroke-width="0.9"/>
<rect x="117.96" y="502.13" width="3.1" height="3.1" fill="#fff" fill-opacity="0.0" stroke="#f01818" stroke-width="0.9"/>
<rect x="120.71" y="505.13" width="3.1" height="3.1" fill="#fff" fill-opacity="0.0" stroke="#f01818" stroke-width="0.9"/>
<rect x="123.46" y="508.51" width="3.1" height="3.1" fill="#fff" fill-opacity="0.0" stroke="#f01818" stroke-width="0.9"/>
<rect x="126.21" y="512" width="3.1" height="3.1" fill="#fff" fill-opacity="0.0" stroke="#f01818" stroke-width="0.9"/>
<rect x="128.96" y="515.36" width="3.1" height="3.1" fill="#fff" fill-opacity="0.0" stroke="#f01818" stroke-width="0.9"/>
<rect x="131.71" y="518.48" width="3.1" height="3.1" fill="#fff" fill-opacity="0.0" stroke="#f01818" stroke-width="0.9"/>
<rect x="134.46" y="521.9" width="3.1" height="3.1" fill="#fff" fill-opacity="0.0" stroke="#f01818" stroke-width="0.9"/>
<rect x="137.22" y="526.03" width="3.1" height="3.1" fill="#fff" fill-opacity="0.0" stroke="#f01818" stroke-width="0.9"/>
<rect x="139.97" y="530.58" width="3.1" height="3.1" fill="#fff" fill-opacity="0.0" stroke="#f01818" stroke-width="0.9"/>
<rect x="142.72" y="535.62" width="3.1" height="3.1" fill="#fff" fill-opacity="0.0" stroke="#f01818" stroke-width="0.9"/>
<rect x="145.47" y="540.69" width="3.1" height="3.1" fill="#fff" fill-opacity="0.0" stroke="#f01818" stroke-width="0.9"/>
<rect x="148.22" y="545.93" width="3.1" height="3.1" fill="#fff" fill-opacity="0.0" stroke="#f01818" stroke-width="0.9"/>
<rect x="150.97" y="551.55" width="3.1" height="3.1" fill="#fff" fill-opacity="0.0" stroke="#f01818" stroke-width="0.9"/>
<rect x="153.73" y="555.29" width="3.1" height="3.1" fill="#fff" fill-opacity="0.0" stroke="#f01818" stroke-width="0.9"/>
<rect x="156.48" y="555.66" width="3.1" height="3.1" fill="#fff" fill-opacity="0.0" stroke="#f01818" stroke-width="0.9"/>
<rect x="159.23" y="551.65" width="3.1" height="3.1" fill="#fff" fill-opacity="0.0" stroke="#f01818" stroke-width="0.9"/>
<rect x="161.98" y="545.71" width="3.1" height="3.1" fill="#fff" fill-opacity="0.0" stroke="#f01818" stroke-width="0.9"/>
<rect x="164.73" y="539.66" width="3.1" height="3.1" fill="#fff" fill-opacity="0.0" stroke="#f01818" stroke-width="0.9"/>
<rect x="167.48" y="532.77" width="3.1" height="3.1" fill="#fff" fill-opacity="0.0" stroke="#f01818" stroke-width="0.9"/>
<rect x="170.23" y="526.34" width="3.1" height="3.1" fill="#fff" fill-opacity="0.0" stroke="#f01818" stroke-width="0.9"/>
<rect x="172.99" y="519.99" width="3.1" height="3.1" fill="#fff" fill-opacity="0.0" stroke="#f01818" stroke-width="0.9"/>
<rect x="175.74" y="513.62" width="3.1" height="3.1" fill="#fff" fill-opacity="0.0" stroke="#f01818" stroke-width="0.9"/>
<rect x="178.49" y="508.02" width="3.1" height="3.1" fill="#fff" fill-opacity="0.0" stroke="#f01818" stroke-width="0.9"/>
<rect x="181.24" y="504.74" width="3.1" height="3.1" fill="#fff" fill-opacity="0.0" stroke="#f01818" stroke-width="0.9"/>
<rect x="183.99" y="502.38" width="3.1" height="3.1" fill="#fff" fill-opacity="0.0" stroke="#f01818" stroke-width="0.9"/>
<rect x="186.74" y="500.18" width="3.1" height="3.1" fill="#fff" fill-opacity="0.0" stroke="#f01818" stroke-width="0.9"/>
<rect x="189.5" y="498.3" width="3.1" height="3.1" fill="#fff" fill-opacity="0.0" stroke="#f01818" stroke-width="0.9"/>
<rect x="192.25" y="496.57" width="3.1" height="3.1" fill="#fff" fill-opacity="0.0" stroke="#f01818" stroke-width="0.9"/>
<rect x="195" y="494.28" width="3.1" height="3.1" fill="#fff" fill-opacity="0.0" stroke="#f01818" stroke-width="0.9"/>
<rect x="197.75" y="492.21" width="3.1" height="3.1" fill="#fff" fill-opacity="0.0" stroke="#f01818" stroke-width="0.9"/>
<rect x="200.5" y="491.24" width="3.1" height="3.1" fill="#fff" fill-opacity="0.0" stroke="#f01818" stroke-width="0.9"/>
<rect x="203.25" y="491.09" width="3.1" height="3.1" fill="#fff" fill-opacity="0.0" stroke="#f01818" stroke-width="0.9"/>
<rect x="206" y="491.67" width="3.1" height="3.1" fill="#fff" fill-opacity="0.0" stroke="#f01818" stroke-width="0.9"/>
<rect x="208.76" y="493.91" width="3.1" height="3.1" fill="#fff" fill-opacity="0.0" stroke="#f01818" stroke-width="0.9"/>
<rect x="211.51" y="496.91" width="3.1" height="3.1" fill="#fff" fill-opacity="0.0" stroke="#f01818" stroke-width="0.9"/>
<rect x="214.26" y="499.56" width="3.1" height="3.1" fill="#fff" fill-opacity="0.0" stroke="#f01818" stroke-width="0.9"/>
<rect x="217.01" y="502.13" width="3.1" height="3.1" fill="#fff" fill-opacity="0.0" stroke="#f01818" stroke-width="0.9"/>
<rect x="219.76" y="505.13" width="3.1" height="3.1" fill="#fff" fill-opacity="0.0" stroke="#f01818" stroke-width="0.9"/>
<rect x="222.51" y="508.51" width="3.1" height="3.1" fill="#fff" fill-opacity="0.0" stroke="#f01818" stroke-width="0.9"/>
<rect x="225.26" y="512" width="3.1" height="3.1" fill="#fff" fill-opacity="0.0" stroke="#f01818" stroke-width="0.9"/>
<rect x="228.02" y="515.36" width="3.1" height="3.1" fill="#fff" fill-opacity="0.0" stroke="#f01818" stroke-width="0.9"/>
<rect x="230.77" y="518.48" width="3.1" height="3.1" fill="#fff" fill-opacity="0.0" stroke="#f01818" stroke-width="0.9"/>
<rect x="233.52" y="521.9" width="3.1" height="3.1" fill="#fff" fill-opacity="0.0" stroke="#f01818" stroke-width="0.9"/>
<rect x="236.27" y="526.03" width="3.1" height="3.1" fill="#fff" fill-opacity="0.0" stroke="#f01818" stroke-width="0.9"/>
<rect x="239.02" y="530.58" width="3.1" height="3.1" fill="#fff" fill-opacity="0.0" stroke="#f01818" stroke-width="0.9"/>
<rect x="241.77" y="535.62" width="3.1" height="3.1" fill="#fff" fill-opacity="0.0" stroke="#f01818" stroke-width="0.9"/>
<rect x="244.52" y="540.69" width="3.1" height="3.1" fill="#fff" fill-opacity="0.0" stroke="#f01818" stroke-width="0.9"/>
<rect x="247.28" y="545.93" width="3.1" height="3.1" fill="#fff" fill-opacity="0.0" stroke="#f01818" stroke-width="0.9"/>
<rect x="250.03" y="551.55" width="3.1" height="3.1" fill="#fff" fill-opacity="0.0" stroke="#f01818" stroke-width="0.9"/>
<rect x="252.78" y="555.29" width="3.1" height="3.1" fill="#fff" fill-opacity="0.0" stroke="#f01818" stroke-width="0.9"/>
<rect x="255.53" y="555.66" width="3.1" height="3.1" fill="#fff" fill-opacity="0.0" stroke="#f01818" stroke-width="0.9"/>
<rect x="258.28" y="551.65" width="3.1" height="3.1" fill="#fff" fill-opacity="0.0" stroke="#f01818" stroke-width="0.9"/>
<rect x="261.03" y="545.71" width="3.1" height="3.1" fill="#fff" fill-opacity="0.0" stroke="#f01818" stroke-width="0.9"/>
<rect x="263.79" y="539.66" width="3.1" height="3.1" fill="#fff" fill-opacity="0.0" stroke="#f01818" stroke-width="0.9"/>
<rect x="266.54" y="532.77" width="3.1" height="3.1" fill="#fff" fill-opacity="0.0" stroke="#f01818" stroke-width="0.9"/>
<rect x="269.29" y="526.34" width="3.1" height="3.1" fill="#fff" fill-opacity="0.0" stroke="#f01818" stroke-width="0.9"/>
<rect x="272.04" y="519.99" width="3.1" height="3.1" fill="#fff" fill-opacity="0.0" stroke="#f01818" stroke-width="0.9"/>
<rect x="274.79" y="513.62" width="3.1" height="3.1" fill="#fff" fill-opacity="0.0" stroke="#f01818" stroke-width="0.9"/>
<rect x="277.54" y="508.02" width="3.1" height="3.1" fill="#fff" fill-opacity="0.0" stroke="#f01818" stroke-width="0.9"/>
<rect x="280.29" y="504.74" width="3.1" height="3.1" fill="#fff" fill-opacity="0.0" stroke="#f01818" stroke-width="0.9"/>
<rect x="283.05" y="502.38" width="3.1" height="3.1" fill="#fff" fill-opacity="0.0" stroke="#f01818" stroke-width="0.9"/>
<rect x="285.8" y="500.18" width="3.1" height="3.1" fill="#fff" fill-opacity="0.0" stroke="#f01818" stroke-width="0.9"/>
<rect x="288.55" y="498.3" width="3.1" height="3.1" fill="#fff" fill-opacity="0.0" stroke="#f01818" stroke-width="0.9"/>
<rect x="291.3" y="496.57" width="3.1" height="3.1" fill="#fff" fill-opacity="0.0" stroke="#f01818" stroke-width="0.9"/>
<rect x="294.05" y="494.28" width="3.1" height="3.1" fill="#fff" fill-opacity="0.0" stroke="#f01818" stroke-width="0.9"/>
<rect x="296.8" y="492.21" width="3.1" height="3.1" fill="#fff" fill-opacity="0.0" stroke="#f01818" stroke-width="0.9"/>
<rect x="299.56" y="491.24" width="3.1" height="3.1" fill="#fff" fill-opacity="0.0" stroke="#f01818" stroke-width="0.9"/>
<rect x="302.31" y="491.09" width="3.1" height="3.1" fill="#fff" fill-opacity="0.0" stroke="#f01818" stroke-width="0.9"/>
<rect x="305.06" y="491.67" width="3.1" height="3.1" fill="#fff" fill-opacity="0.0" stroke="#f01818" stroke-width="0.9"/>
<polyline points="108.5,542.24 109.05,542.3 109.6,542.38 110.15,542.48 110.7,542.6 111.25,542.75 111.8,542.92 112.35,543.1 112.9,543.3 113.45,543.51 114,543.74 114.55,543.98 115.1,544.23 115.65,544.48 116.2,544.75 116.75,545.01 117.3,545.28 117.86,545.55 118.41,545.83 118.96,546.09 119.51,546.36 120.06,546.62 120.61,546.88 121.16,547.13 121.71,547.38 122.26,547.64 122.81,547.89 123.36,548.15 123.91,548.42 124.46,548.7 125.01,548.98 125.56,549.27 126.11,549.58 126.66,549.89 127.21,550.22 127.76,550.55 128.31,550.9 128.86,551.25 129.41,551.61 129.96,551.97 130.51,552.35 131.06,552.73 131.61,553.12 132.16,553.51 132.71,553.91 133.26,554.32 133.81,554.74 134.36,555.16 134.91,555.59 135.46,556.02 136.01,556.46 136.57,556.91 137.12,557.37 137.67,557.83 138.22,558.3 138.77,558.78 139.32,559.27 139.87,559.77 140.42,560.28 140.97,560.8 141.52,561.33 142.07,561.87 142.62,562.43 143.17,562.99 143.72,563.56 144.27,564.13 144.82,564.7 145.37,565.27 145.92,565.83 146.47,566.39 147.02,566.94 147.57,567.48 148.12,568.01 148.67,568.53 149.22,569.03 149.77,569.53 150.32,570.01 150.87,570.48 151.42,570.93 151.97,571.38 152.52,571.81 153.07,572.22 153.62,572.61 154.17,572.97 154.73,573.27 155.28,573.51 155.83,573.68 156.38,573.76 156.93,573.74 157.48,573.59 158.03,573.31 158.58,572.86 159.13,572.28 159.68,571.58 160.23,570.79 160.78,569.94 161.33,569.04 161.88,568.12 162.43,567.2 162.98,566.3 163.53,565.45 164.08,564.65 164.63,563.93 165.18,563.26 165.73,562.64 166.28,562.08 166.83,561.56 167.38,561.09 167.93,560.64 168.48,560.23 169.03,559.83 169.58,559.45 170.13,559.07 170.68,558.7 171.23,558.33 171.78,557.96 172.33,557.58 172.89,557.2 173.44,556.82 173.99,556.45 174.54,556.09 175.09,555.75 175.64,555.42 176.19,555.11 176.74,554.81 177.29,554.52 177.84,554.23 178.39,553.95 178.94,553.67 179.49,553.38 180.04,553.1 180.59,552.8 181.14,552.5 181.69,552.2 182.24,551.89 182.79,551.59 183.34,551.28 183.89,550.98 184.44,550.68 184.99,550.39 185.54,550.1 186.09,549.82 186.64,549.55 187.19,549.29 187.74,549.03 188.29,548.77 188.84,548.51 189.39,548.26 189.94,548 190.49,547.74 191.05,547.48 191.6,547.22 192.15,546.95 192.7,546.68 193.25,546.4 193.8,546.13 194.35,545.87 194.9,545.6 195.45,545.35 196,545.1 196.55,544.86 197.1,544.63 197.65,544.42 198.2,544.21 198.75,544.01 199.3,543.82 199.85,543.64 200.4,543.47 200.95,543.3 201.5,543.14 202.05,542.99 202.6,542.84 203.15,542.71 203.7,542.58 204.25,542.47 204.8,542.37 205.35,542.29 205.9,542.24 206.45,542.22 207,542.22 207.55,542.24 208.1,542.3 208.65,542.38 209.2,542.48 209.76,542.6 210.31,542.75 210.86,542.92 211.41,543.1 211.96,543.3 212.51,543.51 213.06,543.74 213.61,543.98 214.16,544.23 214.71,544.48 215.26,544.75 215.81,545.01 216.36,545.28 216.91,545.55 217.46,545.83 218.01,546.09 218.56,546.36 219.11,546.62 219.66,546.88 220.21,547.13 220.76,547.38 221.31,547.64 221.86,547.89 222.41,548.15 222.96,548.42 223.51,548.7 224.06,548.98 224.61,549.27 225.16,549.58 225.71,549.89 226.26,550.22 226.81,550.55 227.36,550.9 227.92,551.25 228.47,551.61 229.02,551.97 229.57,552.35 230.12,552.73 230.67,553.12 231.22,553.51 231.77,553.91 232.32,554.32 232.87,554.74 233.42,555.16 233.97,555.59 234.52,556.02 235.07,556.46 235.62,556.91 236.17,557.37 236.72,557.83 237.27,558.3 237.82,558.78 238.37,559.27 238.92,559.77 239.47,560.28 240.02,560.8 240.57,561.33 241.12,561.87 241.67,562.43 242.22,562.99 242.77,563.56 243.32,564.13 243.87,564.7 244.42,565.27 244.97,565.83 245.52,566.39 246.07,566.94 246.63,567.48 247.18,568.01 247.73,568.53 248.28,569.03 248.83,569.53 249.38,570.01 249.93,570.48 250.48,570.93 251.03,571.38 251.58,571.81 252.13,572.22 252.68,572.61 253.23,572.97 253.78,573.27 254.33,573.51 254.88,573.68 255.43,573.76 255.98,573.74 256.53,573.59 257.08,573.31 257.63,572.86 258.18,572.28 258.73,571.58 259.28,570.79 259.83,569.94 260.38,569.04 260.93,568.12 261.48,567.2 262.03,566.3 262.58,565.45 263.13,564.65 263.68,563.93 264.23,563.26 264.79,562.64 265.34,562.08 265.89,561.56 266.44,561.09 266.99,560.64 267.54,560.23 268.09,559.83 268.64,559.45 269.19,559.07 269.74,558.7 270.29,558.33 270.84,557.96 271.39,557.58 271.94,557.2 272.49,556.82 273.04,556.45 273.59,556.09 274.14,555.75 274.69,555.42 275.24,555.11 275.79,554.81 276.34,554.52 276.89,554.23 277.44,553.95 277.99,553.67 278.54,553.38 279.09,553.1 279.64,552.8 280.19,552.5 280.74,552.2 281.29,551.89 281.84,551.59 282.39,551.28 282.95,550.98 283.5,550.68 284.05,550.39 284.6,550.1 285.15,549.82 285.7,549.55 286.25,549.29 286.8,549.03 287.35,548.77 287.9,548.51 288.45,548.26 289,548 289.55,547.74 290.1,547.48 290.65,547.22 291.2,546.95 291.75,546.68 292.3,546.4 292.85,546.13 293.4,545.87 293.95,545.6 294.5,545.35 295.05,545.1 295.6,544.86 296.15,544.63 296.7,544.42 297.25,544.21 297.8,544.01 298.35,543.82 298.9,543.64 299.45,543.47 300,543.3 300.55,543.14 301.11,542.99 301.66,542.84 302.21,542.71 302.76,542.58 303.31,542.47 303.86,542.37 304.41,542.29 304.96,542.24 305.51,542.22 306.06,542.22 306.61,542.24" fill="none" stroke="#f01818" stroke-width="0.8"/>
<polygon points="108.5,540.36 106.7,543.5 110.3,543.5" fill="none" stroke="#f01818" stroke-width="0.9"/>
<polygon points="111.25,540.87 109.45,544 113.05,544" fill="none" stroke="#f01818" stroke-width="0.9"/>
<polygon points="114,541.86 112.2,544.99 115.8,544.99" fill="none" stroke="#f01818" stroke-width="0.9"/>
<polygon points="116.75,543.13 114.95,546.27 118.55,546.27" fill="none" stroke="#f01818" stroke-width="0.9"/>
<polygon points="119.51,544.48 117.71,547.61 121.31,547.61" fill="none" stroke="#f01818" stroke-width="0.9"/>
<polygon points="122.26,545.76 120.46,548.89 124.06,548.89" fill="none" stroke="#f01818" stroke-width="0.9"/>
<polygon points="125.01,547.1 123.21,550.23 126.81,550.23" fill="none" stroke="#f01818" stroke-width="0.9"/>
<polygon points="127.76,548.67 125.96,551.8 129.56,551.8" fill="none" stroke="#f01818" stroke-width="0.9"/>
<polygon points="130.51,550.47 128.71,553.6 132.31,553.6" fill="none" stroke="#f01818" stroke-width="0.9"/>
<polygon points="133.26,552.44 131.46,555.58 135.06,555.58" fill="none" stroke="#f01818" stroke-width="0.9"/>
<polygon points="136.01,554.59 134.21,557.72 137.81,557.72" fill="none" stroke="#f01818" stroke-width="0.9"/>
<polygon points="138.77,556.9 136.97,560.03 140.57,560.03" fill="none" stroke="#f01818" stroke-width="0.9"/>
<polygon points="141.52,559.45 139.72,562.58 143.32,562.58" fill="none" stroke="#f01818" stroke-width="0.9"/>
<polygon points="144.27,562.25 142.47,565.38 146.07,565.38" fill="none" stroke="#f01818" stroke-width="0.9"/>
<polygon points="147.02,565.06 145.22,568.2 148.82,568.2" fill="none" stroke="#f01818" stroke-width="0.9"/>
<polygon points="149.77,567.65 147.97,570.78 151.57,570.78" fill="none" stroke="#f01818" stroke-width="0.9"/>
<polygon points="152.52,569.93 150.72,573.06 154.32,573.06" fill="none" stroke="#f01818" stroke-width="0.9"/>
<polygon points="155.28,571.63 153.48,574.76 157.08,574.76" fill="none" stroke="#f01818" stroke-width="0.9"/>
<polygon points="158.03,571.43 156.23,574.56 159.83,574.56" fill="none" stroke="#f01818" stroke-width="0.9"/>
<polygon points="160.78,568.06 158.98,571.19 162.58,571.19" fill="none" stroke="#f01818" stroke-width="0.9"/>
<polygon points="163.53,563.57 161.73,566.7 165.33,566.7" fill="none" stroke="#f01818" stroke-width="0.9"/>
<polygon points="166.28,560.2 164.48,563.33 168.08,563.33" fill="none" stroke="#f01818" stroke-width="0.9"/>
<polygon points="169.03,557.95 167.23,561.09 170.83,561.09" fill="none" stroke="#f01818" stroke-width="0.9"/>
<polygon points="171.78,556.08 169.98,559.21 173.58,559.21" fill="none" stroke="#f01818" stroke-width="0.9"/>
<polygon points="174.54,554.21 172.74,557.34 176.34,557.34" fill="none" stroke="#f01818" stroke-width="0.9"/>
<polygon points="177.29,552.64 175.49,555.77 179.09,555.77" fill="none" stroke="#f01818" stroke-width="0.9"/>
<polygon points="180.04,551.22 178.24,554.35 181.84,554.35" fill="none" stroke="#f01818" stroke-width="0.9"/>
<polygon points="182.79,549.71 180.99,552.84 184.59,552.84" fill="none" stroke="#f01818" stroke-width="0.9"/>
<polygon points="185.54,548.22 183.74,551.35 187.34,551.35" fill="none" stroke="#f01818" stroke-width="0.9"/>
<polygon points="188.29,546.89 186.49,550.02 190.09,550.02" fill="none" stroke="#f01818" stroke-width="0.9"/>
<polygon points="191.05,545.6 189.25,548.74 192.85,548.74" fill="none" stroke="#f01818" stroke-width="0.9"/>
<polygon points="193.8,544.25 192,547.39 195.6,547.39" fill="none" stroke="#f01818" stroke-width="0.9"/>
<polygon points="196.55,542.98 194.75,546.12 198.35,546.12" fill="none" stroke="#f01818" stroke-width="0.9"/>
<polygon points="199.3,541.94 197.5,545.08 201.1,545.08" fill="none" stroke="#f01818" stroke-width="0.9"/>
<polygon points="202.05,541.11 200.25,544.24 203.85,544.24" fill="none" stroke="#f01818" stroke-width="0.9"/>
<polygon points="204.8,540.49 203,543.62 206.6,543.62" fill="none" stroke="#f01818" stroke-width="0.9"/>
<polygon points="207.55,540.36 205.75,543.5 209.35,543.5" fill="none" stroke="#f01818" stroke-width="0.9"/>
<polygon points="210.31,540.87 208.51,544 212.11,544" fill="none" stroke="#f01818" stroke-width="0.9"/>
<polygon points="213.06,541.86 211.26,544.99 214.86,544.99" fill="none" stroke="#f01818" stroke-width="0.9"/>
<polygon points="215.81,543.13 214.01,546.27 217.61,546.27" fill="none" stroke="#f01818" stroke-width="0.9"/>
<polygon points="218.56,544.48 216.76,547.61 220.36,547.61" fill="none" stroke="#f01818" stroke-width="0.9"/>
<polygon points="221.31,545.76 219.51,548.89 223.11,548.89" fill="none" stroke="#f01818" stroke-width="0.9"/>
<polygon points="224.06,547.1 222.26,550.23 225.86,550.23" fill="none" stroke="#f01818" stroke-width="0.9"/>
<polygon points="226.81,548.67 225.01,551.8 228.61,551.8" fill="none" stroke="#f01818" stroke-width="0.9"/>
<polygon points="229.57,550.47 227.77,553.6 231.37,553.6" fill="none" stroke="#f01818" stroke-width="0.9"/>
<polygon points="232.32,552.44 230.52,555.58 234.12,555.58" fill="none" stroke="#f01818" stroke-width="0.9"/>
<polygon points="235.07,554.59 233.27,557.72 236.87,557.72" fill="none" stroke="#f01818" stroke-width="0.9"/>
<polygon points="237.82,556.9 236.02,560.03 239.62,560.03" fill="none" stroke="#f01818" stroke-width="0.9"/>
<polygon points="240.57,559.45 238.77,562.58 242.37,562.58" fill="none" stroke="#f01818" stroke-width="0.9"/>
<polygon points="243.32,562.25 241.52,565.38 245.12,565.38" fill="none" stroke="#f01818" stroke-width="0.9"/>
<polygon points="246.07,565.06 244.27,568.2 247.88,568.2" fill="none" stroke="#f01818" stroke-width="0.9"/>
<polygon points="248.83,567.65 247.03,570.78 250.63,570.78" fill="none" stroke="#f01818" stroke-width="0.9"/>
<polygon points="251.58,569.93 249.78,573.06 253.38,573.06" fill="none" stroke="#f01818" stroke-width="0.9"/>
<polygon points="254.33,571.63 252.53,574.76 256.13,574.76" fill="none" stroke="#f01818" stroke-width="0.9"/>
<polygon points="257.08,571.43 255.28,574.56 258.88,574.56" fill="none" stroke="#f01818" stroke-width="0.9"/>
<polygon points="259.83,568.06 258.03,571.19 261.63,571.19" fill="none" stroke="#f01818" stroke-width="0.9"/>
<polygon points="262.58,563.57 260.78,566.7 264.38,566.7" fill="none" stroke="#f01818" stroke-width="0.9"/>
<polygon points="265.34,560.2 263.54,563.33 267.14,563.33" fill="none" stroke="#f01818" stroke-width="0.9"/>
<polygon points="268.09,557.95 266.29,561.09 269.89,561.09" fill="none" stroke="#f01818" stroke-width="0.9"/>
<polygon points="270.84,556.08 269.04,559.21 272.64,559.21" fill="none" stroke="#f01818" stroke-width="0.9"/>
<polygon points="273.59,554.21 271.79,557.34 275.39,557.34" fill="none" stroke="#f01818" stroke-width="0.9"/>
<polygon points="276.34,552.64 274.54,555.77 278.14,555.77" fill="none" stroke="#f01818" stroke-width="0.9"/>
<polygon points="279.09,551.22 277.29,554.35 280.89,554.35" fill="none" stroke="#f01818" stroke-width="0.9"/>
<polygon points="281.84,549.71 280.04,552.84 283.64,552.84" fill="none" stroke="#f01818" stroke-width="0.9"/>
<polygon points="284.6,548.22 282.8,551.35 286.4,551.35" fill="none" stroke="#f01818" stroke-width="0.9"/>
<polygon points="287.35,546.89 285.55,550.02 289.15,550.02" fill="none" stroke="#f01818" stroke-width="0.9"/>
<polygon points="290.1,545.6 288.3,548.74 291.9,548.74" fill="none" stroke="#f01818" stroke-width="0.9"/>
<polygon points="292.85,544.25 291.05,547.39 294.65,547.39" fill="none" stroke="#f01818" stroke-width="0.9"/>
<polygon points="295.6,542.98 293.8,546.12 297.4,546.12" fill="none" stroke="#f01818" stroke-width="0.9"/>
<polygon points="298.35,541.94 296.55,545.08 300.15,545.08" fill="none" stroke="#f01818" stroke-width="0.9"/>
<polygon points="301.11,541.11 299.31,544.24 302.91,544.24" fill="none" stroke="#f01818" stroke-width="0.9"/>
<polygon points="303.86,540.49 302.06,543.62 305.66,543.62" fill="none" stroke="#f01818" stroke-width="0.9"/>
<polygon points="306.61,540.36 304.81,543.5 308.41,543.5" fill="none" stroke="#f01818" stroke-width="0.9"/>
<polyline points="108.5,485.73 109.05,487.14 109.6,488.51 110.15,489.86 110.7,491.18 111.25,492.47 111.8,493.74 112.35,494.99 112.9,496.25 113.45,497.53 114,498.83 114.55,500.17 115.1,501.53 115.65,502.9 116.2,504.25 116.75,505.57 117.3,506.83 117.86,508.05 118.41,509.24 118.96,510.4 119.51,511.55 120.06,512.7 120.61,513.84 121.16,514.97 121.71,516.08 122.26,517.17 122.81,518.23 123.36,519.28 123.91,520.32 124.46,521.36 125.01,522.41 125.56,523.47 126.11,524.53 126.66,525.59 127.21,526.63 127.76,527.65 128.31,528.63 128.86,529.59 129.41,530.54 129.96,531.51 130.51,532.51 131.06,533.55 131.61,534.62 132.16,535.69 132.71,536.74 133.26,537.75 133.81,538.7 134.36,539.63 134.91,540.57 135.46,541.55 136.01,542.62 136.57,543.8 137.12,545.06 137.67,546.37 138.22,547.69 138.77,548.98 139.32,550.21 139.87,551.41 140.42,552.58 140.97,553.76 141.52,554.97 142.07,556.22 142.62,557.5 143.17,558.79 143.72,560.08 144.27,561.33 144.82,562.54 145.37,563.72 145.92,564.9 146.47,566.09 147.02,567.32 147.57,568.59 148.12,569.89 148.67,571.19 149.22,572.47 149.77,573.68 150.32,574.81 150.87,575.86 151.42,576.83 151.97,577.73 152.52,578.54 153.07,579.29 153.62,579.96 154.17,580.56 154.73,581.09 155.28,581.54 155.83,581.91 156.38,582.21 156.93,582.4 157.48,582.5 158.03,582.47 158.58,582.33 159.13,582.08 159.68,581.73 160.23,581.29 160.78,580.79 161.33,580.23 161.88,579.59 162.43,578.86 162.98,578.02 163.53,577.05 164.08,575.93 164.63,574.65 165.18,573.17 165.73,571.49 166.28,569.56 166.83,567.4 167.38,565.05 167.93,562.58 168.48,560.07 169.03,557.59 169.58,555.18 170.13,552.82 170.68,550.47 171.23,548.08 171.78,545.61 172.33,543.03 172.89,540.34 173.44,537.55 173.99,534.69 174.54,531.76 175.09,528.79 175.64,525.78 176.19,522.77 176.74,519.77 177.29,516.79 177.84,513.87 178.39,510.99 178.94,508.15 179.49,505.35 180.04,502.57 180.59,499.83 181.14,497.13 181.69,494.49 182.24,491.93 182.79,489.47 183.34,487.13 183.89,484.91 184.44,482.82 184.99,480.84 185.54,478.99 186.09,477.27 186.64,475.67 187.19,474.18 187.74,472.8 188.29,471.51 188.84,470.32 189.39,469.23 189.94,468.24 190.49,467.38 191.05,466.64 191.6,466.04 192.15,465.57 192.7,465.2 193.25,464.94 193.8,464.77 194.35,464.68 194.9,464.67 195.45,464.75 196,464.9 196.55,465.15 197.1,465.48 197.65,465.9 198.2,466.42 198.75,467.04 199.3,467.77 199.85,468.59 200.4,469.51 200.95,470.5 201.5,471.55 202.05,472.63 202.6,473.75 203.15,474.89 203.7,476.08 204.25,477.32 204.8,478.62 205.35,479.99 205.9,481.4 206.45,482.84 207,484.29 207.55,485.73 208.1,487.14 208.65,488.51 209.2,489.86 209.76,491.18 210.31,492.47 210.86,493.74 211.41,494.99 211.96,496.25 212.51,497.53 213.06,498.83 213.61,500.17 214.16,501.53 214.71,502.9 215.26,504.25 215.81,505.57 216.36,506.83 216.91,508.05 217.46,509.24 218.01,510.4 218.56,511.55 219.11,512.7 219.66,513.84 220.21,514.97 220.76,516.08 221.31,517.17 221.86,518.23 222.41,519.28 222.96,520.32 223.51,521.36 224.06,522.41 224.61,523.47 225.16,524.53 225.71,525.59 226.26,526.63 226.81,527.65 227.36,528.63 227.92,529.59 228.47,530.54 229.02,531.51 229.57,532.51 230.12,533.55 230.67,534.62 231.22,535.69 231.77,536.74 232.32,537.75 232.87,538.7 233.42,539.63 233.97,540.57 234.52,541.55 235.07,542.62 235.62,543.8 236.17,545.06 236.72,546.37 237.27,547.69 237.82,548.98 238.37,550.21 238.92,551.41 239.47,552.58 240.02,553.76 240.57,554.97 241.12,556.22 241.67,557.5 242.22,558.79 242.77,560.08 243.32,561.33 243.87,562.54 244.42,563.72 244.97,564.9 245.52,566.09 246.07,567.32 246.63,568.59 247.18,569.89 247.73,571.19 248.28,572.47 248.83,573.68 249.38,574.81 249.93,575.86 250.48,576.83 251.03,577.73 251.58,578.54 252.13,579.29 252.68,579.96 253.23,580.56 253.78,581.09 254.33,581.54 254.88,581.91 255.43,582.21 255.98,582.4 256.53,582.5 257.08,582.47 257.63,582.33 258.18,582.08 258.73,581.73 259.28,581.29 259.83,580.79 260.38,580.23 260.93,579.59 261.48,578.86 262.03,578.02 262.58,577.05 263.13,575.93 263.68,574.65 264.23,573.17 264.79,571.49 265.34,569.56 265.89,567.4 266.44,565.05 266.99,562.58 267.54,560.07 268.09,557.59 268.64,555.18 269.19,552.82 269.74,550.47 270.29,548.08 270.84,545.61 271.39,543.03 271.94,540.34 272.49,537.55 273.04,534.69 273.59,531.76 274.14,528.79 274.69,525.78 275.24,522.77 275.79,519.77 276.34,516.79 276.89,513.87 277.44,510.99 277.99,508.15 278.54,505.35 279.09,502.57 279.64,499.83 280.19,497.13 280.74,494.49 281.29,491.93 281.84,489.47 282.39,487.13 282.95,484.91 283.5,482.82 284.05,480.84 284.6,478.99 285.15,477.27 285.7,475.67 286.25,474.18 286.8,472.8 287.35,471.51 287.9,470.32 288.45,469.23 289,468.24 289.55,467.38 290.1,466.64 290.65,466.04 291.2,465.57 291.75,465.2 292.3,464.94 292.85,464.77 293.4,464.68 293.95,464.67 294.5,464.75 295.05,464.9 295.6,465.15 296.15,465.48 296.7,465.9 297.25,466.42 297.8,467.04 298.35,467.77 298.9,468.59 299.45,469.51 300,470.5 300.55,471.55 301.11,472.63 301.66,473.75 302.21,474.89 302.76,476.08 303.31,477.32 303.86,478.62 304.41,479.99 304.96,481.4 305.51,482.84 306.06,484.29 306.61,485.73" fill="none" stroke="#f01818" stroke-width="1.1"/>
<circle cx="108.5" cy="485.73" r="1.85" fill="#f01818"/>
<circle cx="111.25" cy="492.47" r="1.85" fill="#f01818"/>
<circle cx="114" cy="498.83" r="1.85" fill="#f01818"/>
<circle cx="116.75" cy="505.57" r="1.85" fill="#f01818"/>
<circle cx="119.51" cy="511.55" r="1.85" fill="#f01818"/>
<circle cx="122.26" cy="517.17" r="1.85" fill="#f01818"/>
<circle cx="125.01" cy="522.41" r="1.85" fill="#f01818"/>
<circle cx="127.76" cy="527.65" r="1.85" fill="#f01818"/>
<circle cx="130.51" cy="532.51" r="1.85" fill="#f01818"/>
<circle cx="133.26" cy="537.75" r="1.85" fill="#f01818"/>
<circle cx="136.01" cy="542.62" r="1.85" fill="#f01818"/>
<circle cx="138.77" cy="548.98" r="1.85" fill="#f01818"/>
<circle cx="141.52" cy="554.97" r="1.85" fill="#f01818"/>
<circle cx="144.27" cy="561.33" r="1.85" fill="#f01818"/>
<circle cx="147.02" cy="567.32" r="1.85" fill="#f01818"/>
<circle cx="149.77" cy="573.68" r="1.85" fill="#f01818"/>
<circle cx="152.52" cy="578.54" r="1.85" fill="#f01818"/>
<circle cx="155.28" cy="581.54" r="1.85" fill="#f01818"/>
<circle cx="158.03" cy="582.47" r="1.85" fill="#f01818"/>
<circle cx="160.78" cy="580.79" r="1.85" fill="#f01818"/>
<circle cx="163.53" cy="577.05" r="1.85" fill="#f01818"/>
<circle cx="166.28" cy="569.56" r="1.85" fill="#f01818"/>
<circle cx="169.03" cy="557.59" r="1.85" fill="#f01818"/>
<circle cx="171.78" cy="545.61" r="1.85" fill="#f01818"/>
<circle cx="174.54" cy="531.76" r="1.85" fill="#f01818"/>
<circle cx="177.29" cy="516.79" r="1.85" fill="#f01818"/>
<circle cx="180.04" cy="502.57" r="1.85" fill="#f01818"/>
<circle cx="182.79" cy="489.47" r="1.85" fill="#f01818"/>
<circle cx="185.54" cy="478.99" r="1.85" fill="#f01818"/>
<circle cx="188.29" cy="471.51" r="1.85" fill="#f01818"/>
<circle cx="191.05" cy="466.64" r="1.85" fill="#f01818"/>
<circle cx="193.8" cy="464.77" r="1.85" fill="#f01818"/>
<circle cx="196.55" cy="465.15" r="1.85" fill="#f01818"/>
<circle cx="199.3" cy="467.77" r="1.85" fill="#f01818"/>
<circle cx="202.05" cy="472.63" r="1.85" fill="#f01818"/>
<circle cx="204.8" cy="478.62" r="1.85" fill="#f01818"/>
<circle cx="207.55" cy="485.73" r="1.85" fill="#f01818"/>
<circle cx="210.31" cy="492.47" r="1.85" fill="#f01818"/>
<circle cx="213.06" cy="498.83" r="1.85" fill="#f01818"/>
<circle cx="215.81" cy="505.57" r="1.85" fill="#f01818"/>
<circle cx="218.56" cy="511.55" r="1.85" fill="#f01818"/>
<circle cx="221.31" cy="517.17" r="1.85" fill="#f01818"/>
<circle cx="224.06" cy="522.41" r="1.85" fill="#f01818"/>
<circle cx="226.81" cy="527.65" r="1.85" fill="#f01818"/>
<circle cx="229.57" cy="532.51" r="1.85" fill="#f01818"/>
<circle cx="232.32" cy="537.75" r="1.85" fill="#f01818"/>
<circle cx="235.07" cy="542.62" r="1.85" fill="#f01818"/>
<circle cx="237.82" cy="548.98" r="1.85" fill="#f01818"/>
<circle cx="240.57" cy="554.97" r="1.85" fill="#f01818"/>
<circle cx="243.32" cy="561.33" r="1.85" fill="#f01818"/>
<circle cx="246.07" cy="567.32" r="1.85" fill="#f01818"/>
<circle cx="248.83" cy="573.68" r="1.85" fill="#f01818"/>
<circle cx="251.58" cy="578.54" r="1.85" fill="#f01818"/>
<circle cx="254.33" cy="581.54" r="1.85" fill="#f01818"/>
<circle cx="257.08" cy="582.47" r="1.85" fill="#f01818"/>
<circle cx="259.83" cy="580.79" r="1.85" fill="#f01818"/>
<circle cx="262.58" cy="577.05" r="1.85" fill="#f01818"/>
<circle cx="265.34" cy="569.56" r="1.85" fill="#f01818"/>
<circle cx="268.09" cy="557.59" r="1.85" fill="#f01818"/>
<circle cx="270.84" cy="545.61" r="1.85" fill="#f01818"/>
<circle cx="273.59" cy="531.76" r="1.85" fill="#f01818"/>
<circle cx="276.34" cy="516.79" r="1.85" fill="#f01818"/>
<circle cx="279.09" cy="502.57" r="1.85" fill="#f01818"/>
<circle cx="281.84" cy="489.47" r="1.85" fill="#f01818"/>
<circle cx="284.6" cy="478.99" r="1.85" fill="#f01818"/>
<circle cx="287.35" cy="471.51" r="1.85" fill="#f01818"/>
<circle cx="290.1" cy="466.64" r="1.85" fill="#f01818"/>
<circle cx="292.85" cy="464.77" r="1.85" fill="#f01818"/>
<circle cx="295.6" cy="465.15" r="1.85" fill="#f01818"/>
<circle cx="298.35" cy="467.77" r="1.85" fill="#f01818"/>
<circle cx="301.11" cy="472.63" r="1.85" fill="#f01818"/>
<circle cx="303.86" cy="478.62" r="1.85" fill="#f01818"/>
<circle cx="306.61" cy="485.73" r="1.85" fill="#f01818"/>
<path d="M105.6 451.3H309.5V601.4H105.6" fill="none" stroke="#222" stroke-width="1.1"/>
<line x1="105.6" y1="450.75" x2="105.6" y2="601.95" stroke="#222" stroke-width="1.1" />
<line x1="108.5" y1="601.4" x2="108.5" y2="597.4" stroke="#222" stroke-width="1" />
<line x1="108.5" y1="451.3" x2="108.5" y2="455.3" stroke="#222" stroke-width="1" />
<line x1="120.88" y1="601.4" x2="120.88" y2="599.1" stroke="#222" stroke-width="1" />
<line x1="120.88" y1="451.3" x2="120.88" y2="453.6" stroke="#222" stroke-width="1" />
<line x1="133.26" y1="601.4" x2="133.26" y2="597.4" stroke="#222" stroke-width="1" />
<line x1="133.26" y1="451.3" x2="133.26" y2="455.3" stroke="#222" stroke-width="1" />
<line x1="145.65" y1="601.4" x2="145.65" y2="599.1" stroke="#222" stroke-width="1" />
<line x1="145.65" y1="451.3" x2="145.65" y2="453.6" stroke="#222" stroke-width="1" />
<line x1="158.03" y1="601.4" x2="158.03" y2="597.4" stroke="#222" stroke-width="1" />
<line x1="158.03" y1="451.3" x2="158.03" y2="455.3" stroke="#222" stroke-width="1" />
<line x1="170.41" y1="601.4" x2="170.41" y2="599.1" stroke="#222" stroke-width="1" />
<line x1="170.41" y1="451.3" x2="170.41" y2="453.6" stroke="#222" stroke-width="1" />
<line x1="182.79" y1="601.4" x2="182.79" y2="597.4" stroke="#222" stroke-width="1" />
<line x1="182.79" y1="451.3" x2="182.79" y2="455.3" stroke="#222" stroke-width="1" />
<line x1="195.17" y1="601.4" x2="195.17" y2="599.1" stroke="#222" stroke-width="1" />
<line x1="195.17" y1="451.3" x2="195.17" y2="453.6" stroke="#222" stroke-width="1" />
<line x1="207.55" y1="601.4" x2="207.55" y2="597.4" stroke="#222" stroke-width="1" />
<line x1="207.55" y1="451.3" x2="207.55" y2="455.3" stroke="#222" stroke-width="1" />
<line x1="219.94" y1="601.4" x2="219.94" y2="599.1" stroke="#222" stroke-width="1" />
<line x1="219.94" y1="451.3" x2="219.94" y2="453.6" stroke="#222" stroke-width="1" />
<line x1="232.32" y1="601.4" x2="232.32" y2="597.4" stroke="#222" stroke-width="1" />
<line x1="232.32" y1="451.3" x2="232.32" y2="455.3" stroke="#222" stroke-width="1" />
<line x1="244.7" y1="601.4" x2="244.7" y2="599.1" stroke="#222" stroke-width="1" />
<line x1="244.7" y1="451.3" x2="244.7" y2="453.6" stroke="#222" stroke-width="1" />
<line x1="257.08" y1="601.4" x2="257.08" y2="597.4" stroke="#222" stroke-width="1" />
<line x1="257.08" y1="451.3" x2="257.08" y2="455.3" stroke="#222" stroke-width="1" />
<line x1="269.46" y1="601.4" x2="269.46" y2="599.1" stroke="#222" stroke-width="1" />
<line x1="269.46" y1="451.3" x2="269.46" y2="453.6" stroke="#222" stroke-width="1" />
<line x1="281.84" y1="601.4" x2="281.84" y2="597.4" stroke="#222" stroke-width="1" />
<line x1="281.84" y1="451.3" x2="281.84" y2="455.3" stroke="#222" stroke-width="1" />
<line x1="294.23" y1="601.4" x2="294.23" y2="599.1" stroke="#222" stroke-width="1" />
<line x1="294.23" y1="451.3" x2="294.23" y2="453.6" stroke="#222" stroke-width="1" />
<line x1="306.61" y1="601.4" x2="306.61" y2="597.4" stroke="#222" stroke-width="1" />
<line x1="306.61" y1="451.3" x2="306.61" y2="455.3" stroke="#222" stroke-width="1" />
<text x="108.5" y="613.7" font-size="10.4" text-anchor="middle" fill="#111" style="font-family:'Liberation Sans',sans-serif;" >0</text>
<text x="133.26" y="613.7" font-size="10.4" text-anchor="middle" fill="#111" style="font-family:'Liberation Sans',sans-serif;" >45</text>
<text x="158.03" y="613.7" font-size="10.4" text-anchor="middle" fill="#111" style="font-family:'Liberation Sans',sans-serif;" >90</text>
<text x="182.79" y="613.7" font-size="10.4" text-anchor="middle" fill="#111" style="font-family:'Liberation Sans',sans-serif;" >135</text>
<text x="207.55" y="613.7" font-size="10.4" text-anchor="middle" fill="#111" style="font-family:'Liberation Sans',sans-serif;" >180</text>
<text x="232.32" y="613.7" font-size="10.4" text-anchor="middle" fill="#111" style="font-family:'Liberation Sans',sans-serif;" >225</text>
<text x="257.08" y="613.7" font-size="10.4" text-anchor="middle" fill="#111" style="font-family:'Liberation Sans',sans-serif;" >270</text>
<text x="281.84" y="613.7" font-size="10.4" text-anchor="middle" fill="#111" style="font-family:'Liberation Sans',sans-serif;" >315</text>
<text x="306.61" y="613.7" font-size="10.4" text-anchor="middle" fill="#111" style="font-family:'Liberation Sans',sans-serif;" >360</text>
<line x1="105.6" y1="601" x2="109.6" y2="601" stroke="#222" stroke-width="1" />
<line x1="309.5" y1="601" x2="305.5" y2="601" stroke="#222" stroke-width="1" />
<text x="101.5" y="605" font-size="11.5" text-anchor="end" fill="#111" style="font-family:'Liberation Sans',sans-serif;" >0</text>
<line x1="105.6" y1="582.29" x2="107.9" y2="582.29" stroke="#222" stroke-width="1" />
<line x1="309.5" y1="582.29" x2="307.2" y2="582.29" stroke="#222" stroke-width="1" />
<line x1="105.6" y1="563.58" x2="109.6" y2="563.58" stroke="#222" stroke-width="1" />
<line x1="309.5" y1="563.58" x2="305.5" y2="563.58" stroke="#222" stroke-width="1" />
<text x="101.5" y="567.58" font-size="11.5" text-anchor="end" fill="#111" style="font-family:'Liberation Sans',sans-serif;" >10</text>
<line x1="105.6" y1="544.86" x2="107.9" y2="544.86" stroke="#222" stroke-width="1" />
<line x1="309.5" y1="544.86" x2="307.2" y2="544.86" stroke="#222" stroke-width="1" />
<line x1="105.6" y1="526.15" x2="109.6" y2="526.15" stroke="#222" stroke-width="1" />
<line x1="309.5" y1="526.15" x2="305.5" y2="526.15" stroke="#222" stroke-width="1" />
<text x="101.5" y="530.15" font-size="11.5" text-anchor="end" fill="#111" style="font-family:'Liberation Sans',sans-serif;" >20</text>
<line x1="105.6" y1="507.44" x2="107.9" y2="507.44" stroke="#222" stroke-width="1" />
<line x1="309.5" y1="507.44" x2="307.2" y2="507.44" stroke="#222" stroke-width="1" />
<line x1="105.6" y1="488.73" x2="109.6" y2="488.73" stroke="#222" stroke-width="1" />
<line x1="309.5" y1="488.73" x2="305.5" y2="488.73" stroke="#222" stroke-width="1" />
<text x="101.5" y="492.73" font-size="11.5" text-anchor="end" fill="#111" style="font-family:'Liberation Sans',sans-serif;" >30</text>
<line x1="105.6" y1="470.01" x2="107.9" y2="470.01" stroke="#222" stroke-width="1" />
<line x1="309.5" y1="470.01" x2="307.2" y2="470.01" stroke="#222" stroke-width="1" />
<line x1="105.6" y1="451.3" x2="109.6" y2="451.3" stroke="#222" stroke-width="1" />
<line x1="309.5" y1="451.3" x2="305.5" y2="451.3" stroke="#222" stroke-width="1" />
<text x="101.5" y="455.3" font-size="11.5" text-anchor="end" fill="#111" style="font-family:'Liberation Sans',sans-serif;" >40</text>
<text transform="translate(79.6,511) rotate(-90)" font-size="12.4" text-anchor="middle" fill="#111" style="font-family:'Liberation Sans',sans-serif">Agreement factors</text>
<text x="148.2" y="631.8" font-size="12.4" text-anchor="start" fill="#111" style="font-family:'Liberation Sans',sans-serif;" >Tilting angle, <tspan font-family="Liberation Serif" font-size="13.5">θ</tspan><tspan font-size="8.6" dy="2.8">S</tspan><tspan dy="-2.8"> (deg)</tspan></text>
<text x="177" y="469.9" font-size="14" text-anchor="start" fill="#111" style="font-family:'Liberation Sans',sans-serif;" ><tspan font-family="Liberation Serif" font-size="16.5">χ</tspan><tspan font-size="9" dx="1.2" dy="-6.5">2</tspan></text>
<text x="191.1" y="515.3" font-size="11.2" text-anchor="start" fill="#111" style="font-family:'Liberation Sans',sans-serif;" >R<tspan font-size="7.6" dy="4">F</tspan><tspan font-size="6.8" dx="1" dy="-8.5">2</tspan></text>
<text x="191.1" y="561.6" font-size="11.2" text-anchor="start" fill="#111" style="font-family:'Liberation Sans',sans-serif;" >R<tspan font-size="7.6" dy="4">F</tspan></text>
<text x="357.5" y="433.9" font-size="22.4" text-anchor="start" fill="#000" style="font-family:'Liberation Serif',serif;" >(d)</text>
<text x="434.7" y="432.1" font-size="16.4" text-anchor="start" fill="#111" style="font-family:'Liberation Sans',sans-serif;" >Magnetic phase, <tspan font-family="Liberation Serif" font-size="17.5">φ</tspan>’<tspan font-size="11" dy="3">s</tspan></text>
<line x1="434.4" y1="453.3" x2="434.4" y2="600.4" stroke="#ff4040" stroke-width="1.2" stroke-dasharray="4.8,4"/>
<line x1="502.3" y1="453.3" x2="502.3" y2="600.4" stroke="#ff4040" stroke-width="1.2" stroke-dasharray="4.8,4"/>
<polyline points="408.5,569.02 409.05,569.37 409.6,569.76 410.16,570.17 410.71,570.61 411.26,571.06 411.81,571.52 412.37,571.99 412.92,572.44 413.47,572.89 414.02,573.31 414.57,573.72 415.13,574.12 415.68,574.5 416.23,574.88 416.78,575.25 417.34,575.62 417.89,575.99 418.44,576.38 418.99,576.77 419.54,577.18 420.1,577.6 420.65,578.04 421.2,578.47 421.75,578.91 422.31,579.33 422.86,579.75 423.41,580.15 423.96,580.52 424.51,580.86 425.07,581.17 425.62,581.44 426.17,581.68 426.72,581.89 427.27,582.07 427.83,582.23 428.38,582.37 428.93,582.49 429.48,582.6 430.04,582.71 430.59,582.81 431.14,582.91 431.69,583.01 432.24,583.11 432.8,583.2 433.35,583.28 433.9,583.35 434.45,583.41 435.01,583.45 435.56,583.48 436.11,583.49 436.66,583.5 437.21,583.49 437.77,583.47 438.32,583.45 438.87,583.41 439.42,583.38 439.98,583.33 440.53,583.29 441.08,583.24 441.63,583.2 442.18,583.15 442.74,583.11 443.29,583.07 443.84,583.04 444.39,583 444.95,582.97 445.5,582.95 446.05,582.92 446.6,582.89 447.15,582.87 447.71,582.84 448.26,582.82 448.81,582.79 449.36,582.77 449.92,582.74 450.47,582.71 451.02,582.68 451.57,582.65 452.12,582.61 452.68,582.58 453.23,582.54 453.78,582.5 454.33,582.47 454.88,582.43 455.44,582.39 455.99,582.36 456.54,582.32 457.09,582.29 457.65,582.26 458.2,582.24 458.75,582.21 459.3,582.19 459.85,582.17 460.41,582.16 460.96,582.15 461.51,582.15 462.06,582.15 462.62,582.15 463.17,582.16 463.72,582.17 464.27,582.19 464.82,582.21 465.38,582.24 465.93,582.28 466.48,582.32 467.03,582.36 467.59,582.41 468.14,582.46 468.69,582.52 469.24,582.58 469.79,582.65 470.35,582.72 470.9,582.79 471.45,582.87 472,582.95 472.56,583.03 473.11,583.11 473.66,583.2 474.21,583.29 474.76,583.38 475.32,583.48 475.87,583.59 476.42,583.7 476.97,583.81 477.52,583.94 478.08,584.07 478.63,584.22 479.18,584.37 479.73,584.54 480.29,584.72 480.84,584.91 481.39,585.11 481.94,585.33 482.49,585.56 483.05,585.8 483.6,586.06 484.15,586.33 484.7,586.61 485.26,586.9 485.81,587.2 486.36,587.5 486.91,587.82 487.46,588.14 488.02,588.47 488.57,588.81 489.12,589.15 489.67,589.5 490.23,589.84 490.78,590.19 491.33,590.55 491.88,590.9 492.43,591.25 492.99,591.61 493.54,591.96 494.09,592.31 494.64,592.65 495.2,592.99 495.75,593.32 496.3,593.64 496.85,593.94 497.4,594.23 497.96,594.51 498.51,594.76 499.06,594.99 499.61,595.19 500.17,595.36 500.72,595.5 501.27,595.61 501.82,595.7 502.37,595.76 502.93,595.81 503.48,595.86 504.03,595.9 504.58,595.95 505.13,595.97 505.69,595.94 506.24,595.82 506.79,595.59 507.34,595.21 507.9,594.66 508.45,593.9 509,592.92 509.55,591.75 510.1,590.44 510.66,589.03 511.21,587.56 511.76,586.09 512.31,584.66 512.87,583.31 513.42,582.08 513.97,580.98 514.52,579.97 515.07,579.07 515.63,578.25 516.18,577.49 516.73,576.8 517.28,576.16 517.84,575.55 518.39,574.96 518.94,574.39 519.49,573.82 520.04,573.24 520.6,572.65 521.15,572.06 521.7,571.47 522.25,570.9 522.81,570.33 523.36,569.79 523.91,569.27 524.46,568.78 525.01,568.32 525.57,567.9 526.12,567.52 526.67,567.17 527.22,566.85 527.78,566.56 528.33,566.29 528.88,566.04 529.43,565.81 529.98,565.6 530.54,565.39 531.09,565.2 531.64,565.01 532.19,564.82 532.75,564.64 533.3,564.45 533.85,564.27 534.4,564.08 534.95,563.9 535.51,563.73 536.06,563.56 536.61,563.4 537.16,563.24 537.71,563.09 538.27,562.95 538.82,562.82 539.37,562.71 539.92,562.6 540.48,562.5 541.03,562.42 541.58,562.34 542.13,562.27 542.68,562.2 543.24,562.15 543.79,562.1 544.34,562.05 544.89,562.02 545.45,561.98 546,561.95 546.55,561.93 547.1,561.9 547.65,561.88 548.21,561.86 548.76,561.85 549.31,561.84 549.86,561.83 550.42,561.82 550.97,561.81 551.52,561.8 552.07,561.8 552.62,561.8 553.18,561.8 553.73,561.8 554.28,561.8 554.83,561.8 555.39,561.81 555.94,561.81 556.49,561.82 557.04,561.82 557.59,561.83 558.15,561.83 558.7,561.84 559.25,561.84 559.8,561.85 560.36,561.85 560.91,561.86 561.46,561.86 562.01,561.86 562.56,561.87 563.12,561.87 563.67,561.87 564.22,561.87 564.77,561.87 565.32,561.87 565.88,561.87 566.43,561.87 566.98,561.86 567.53,561.86 568.09,561.85 568.64,561.85 569.19,561.84 569.74,561.83 570.29,561.81 570.85,561.8 571.4,561.79 571.95,561.77 572.5,561.75 573.06,561.73 573.61,561.71 574.16,561.68 574.71,561.66 575.26,561.63 575.82,561.6 576.37,561.56 576.92,561.53 577.47,561.49 578.03,561.45 578.58,561.41 579.13,561.36 579.68,561.32 580.23,561.28 580.79,561.25 581.34,561.21 581.89,561.18 582.44,561.15 583,561.13 583.55,561.11 584.1,561.1 584.65,561.1 585.2,561.11 585.76,561.12 586.31,561.14 586.86,561.18 587.41,561.22 587.97,561.28 588.52,561.35 589.07,561.43 589.62,561.53 590.17,561.64 590.73,561.76 591.28,561.9 591.83,562.06 592.38,562.23 592.93,562.41 593.49,562.61 594.04,562.82 594.59,563.05 595.14,563.29 595.7,563.55 596.25,563.82 596.8,564.11 597.35,564.41 597.9,564.71 598.46,565.02 599.01,565.33 599.56,565.63 600.11,565.92 600.67,566.21 601.22,566.47 601.77,566.72 602.32,566.95 602.87,567.16 603.43,567.36 603.98,567.55 604.53,567.75 605.08,567.96 605.64,568.19 606.19,568.43 606.74,568.71 607.29,569.02" fill="none" stroke="#f01818" stroke-width="0.8"/>
<rect x="406.95" y="567.47" width="3.1" height="3.1" fill="#fff" fill-opacity="0.0" stroke="#f01818" stroke-width="0.9"/>
<rect x="409.71" y="569.51" width="3.1" height="3.1" fill="#fff" fill-opacity="0.0" stroke="#f01818" stroke-width="0.9"/>
<rect x="412.47" y="571.76" width="3.1" height="3.1" fill="#fff" fill-opacity="0.0" stroke="#f01818" stroke-width="0.9"/>
<rect x="415.23" y="573.7" width="3.1" height="3.1" fill="#fff" fill-opacity="0.0" stroke="#f01818" stroke-width="0.9"/>
<rect x="417.99" y="575.63" width="3.1" height="3.1" fill="#fff" fill-opacity="0.0" stroke="#f01818" stroke-width="0.9"/>
<rect x="420.75" y="577.78" width="3.1" height="3.1" fill="#fff" fill-opacity="0.0" stroke="#f01818" stroke-width="0.9"/>
<rect x="423.52" y="579.62" width="3.1" height="3.1" fill="#fff" fill-opacity="0.0" stroke="#f01818" stroke-width="0.9"/>
<rect x="426.28" y="580.68" width="3.1" height="3.1" fill="#fff" fill-opacity="0.0" stroke="#f01818" stroke-width="0.9"/>
<rect x="429.04" y="581.26" width="3.1" height="3.1" fill="#fff" fill-opacity="0.0" stroke="#f01818" stroke-width="0.9"/>
<rect x="431.8" y="581.73" width="3.1" height="3.1" fill="#fff" fill-opacity="0.0" stroke="#f01818" stroke-width="0.9"/>
<rect x="434.56" y="581.94" width="3.1" height="3.1" fill="#fff" fill-opacity="0.0" stroke="#f01818" stroke-width="0.9"/>
<rect x="437.32" y="581.86" width="3.1" height="3.1" fill="#fff" fill-opacity="0.0" stroke="#f01818" stroke-width="0.9"/>
<rect x="440.08" y="581.65" width="3.1" height="3.1" fill="#fff" fill-opacity="0.0" stroke="#f01818" stroke-width="0.9"/>
<rect x="442.84" y="581.45" width="3.1" height="3.1" fill="#fff" fill-opacity="0.0" stroke="#f01818" stroke-width="0.9"/>
<rect x="445.6" y="581.32" width="3.1" height="3.1" fill="#fff" fill-opacity="0.0" stroke="#f01818" stroke-width="0.9"/>
<rect x="448.37" y="581.19" width="3.1" height="3.1" fill="#fff" fill-opacity="0.0" stroke="#f01818" stroke-width="0.9"/>
<rect x="451.13" y="581.03" width="3.1" height="3.1" fill="#fff" fill-opacity="0.0" stroke="#f01818" stroke-width="0.9"/>
<rect x="453.89" y="580.84" width="3.1" height="3.1" fill="#fff" fill-opacity="0.0" stroke="#f01818" stroke-width="0.9"/>
<rect x="456.65" y="580.69" width="3.1" height="3.1" fill="#fff" fill-opacity="0.0" stroke="#f01818" stroke-width="0.9"/>
<rect x="459.41" y="580.6" width="3.1" height="3.1" fill="#fff" fill-opacity="0.0" stroke="#f01818" stroke-width="0.9"/>
<rect x="462.17" y="580.62" width="3.1" height="3.1" fill="#fff" fill-opacity="0.0" stroke="#f01818" stroke-width="0.9"/>
<rect x="464.93" y="580.77" width="3.1" height="3.1" fill="#fff" fill-opacity="0.0" stroke="#f01818" stroke-width="0.9"/>
<rect x="467.69" y="581.03" width="3.1" height="3.1" fill="#fff" fill-opacity="0.0" stroke="#f01818" stroke-width="0.9"/>
<rect x="470.45" y="581.4" width="3.1" height="3.1" fill="#fff" fill-opacity="0.0" stroke="#f01818" stroke-width="0.9"/>
<rect x="473.21" y="581.83" width="3.1" height="3.1" fill="#fff" fill-opacity="0.0" stroke="#f01818" stroke-width="0.9"/>
<rect x="475.97" y="582.39" width="3.1" height="3.1" fill="#fff" fill-opacity="0.0" stroke="#f01818" stroke-width="0.9"/>
<rect x="478.74" y="583.17" width="3.1" height="3.1" fill="#fff" fill-opacity="0.0" stroke="#f01818" stroke-width="0.9"/>
<rect x="481.5" y="584.25" width="3.1" height="3.1" fill="#fff" fill-opacity="0.0" stroke="#f01818" stroke-width="0.9"/>
<rect x="484.26" y="585.65" width="3.1" height="3.1" fill="#fff" fill-opacity="0.0" stroke="#f01818" stroke-width="0.9"/>
<rect x="487.02" y="587.26" width="3.1" height="3.1" fill="#fff" fill-opacity="0.0" stroke="#f01818" stroke-width="0.9"/>
<rect x="489.78" y="589" width="3.1" height="3.1" fill="#fff" fill-opacity="0.0" stroke="#f01818" stroke-width="0.9"/>
<rect x="492.54" y="590.76" width="3.1" height="3.1" fill="#fff" fill-opacity="0.0" stroke="#f01818" stroke-width="0.9"/>
<rect x="495.3" y="592.39" width="3.1" height="3.1" fill="#fff" fill-opacity="0.0" stroke="#f01818" stroke-width="0.9"/>
<rect x="498.06" y="593.64" width="3.1" height="3.1" fill="#fff" fill-opacity="0.0" stroke="#f01818" stroke-width="0.9"/>
<rect x="500.82" y="594.21" width="3.1" height="3.1" fill="#fff" fill-opacity="0.0" stroke="#f01818" stroke-width="0.9"/>
<rect x="503.58" y="594.42" width="3.1" height="3.1" fill="#fff" fill-opacity="0.0" stroke="#f01818" stroke-width="0.9"/>
<rect x="506.35" y="593.11" width="3.1" height="3.1" fill="#fff" fill-opacity="0.0" stroke="#f01818" stroke-width="0.9"/>
<rect x="509.11" y="587.48" width="3.1" height="3.1" fill="#fff" fill-opacity="0.0" stroke="#f01818" stroke-width="0.9"/>
<rect x="511.87" y="580.53" width="3.1" height="3.1" fill="#fff" fill-opacity="0.0" stroke="#f01818" stroke-width="0.9"/>
<rect x="514.63" y="575.94" width="3.1" height="3.1" fill="#fff" fill-opacity="0.0" stroke="#f01818" stroke-width="0.9"/>
<rect x="517.39" y="572.84" width="3.1" height="3.1" fill="#fff" fill-opacity="0.0" stroke="#f01818" stroke-width="0.9"/>
<rect x="520.15" y="569.92" width="3.1" height="3.1" fill="#fff" fill-opacity="0.0" stroke="#f01818" stroke-width="0.9"/>
<rect x="522.91" y="567.23" width="3.1" height="3.1" fill="#fff" fill-opacity="0.0" stroke="#f01818" stroke-width="0.9"/>
<rect x="525.67" y="565.3" width="3.1" height="3.1" fill="#fff" fill-opacity="0.0" stroke="#f01818" stroke-width="0.9"/>
<rect x="528.43" y="564.05" width="3.1" height="3.1" fill="#fff" fill-opacity="0.0" stroke="#f01818" stroke-width="0.9"/>
<rect x="531.2" y="563.09" width="3.1" height="3.1" fill="#fff" fill-opacity="0.0" stroke="#f01818" stroke-width="0.9"/>
<rect x="533.96" y="562.18" width="3.1" height="3.1" fill="#fff" fill-opacity="0.0" stroke="#f01818" stroke-width="0.9"/>
<rect x="536.72" y="561.4" width="3.1" height="3.1" fill="#fff" fill-opacity="0.0" stroke="#f01818" stroke-width="0.9"/>
<rect x="539.48" y="560.87" width="3.1" height="3.1" fill="#fff" fill-opacity="0.0" stroke="#f01818" stroke-width="0.9"/>
<rect x="542.24" y="560.55" width="3.1" height="3.1" fill="#fff" fill-opacity="0.0" stroke="#f01818" stroke-width="0.9"/>
<rect x="545" y="560.38" width="3.1" height="3.1" fill="#fff" fill-opacity="0.0" stroke="#f01818" stroke-width="0.9"/>
<rect x="547.76" y="560.29" width="3.1" height="3.1" fill="#fff" fill-opacity="0.0" stroke="#f01818" stroke-width="0.9"/>
<rect x="550.52" y="560.25" width="3.1" height="3.1" fill="#fff" fill-opacity="0.0" stroke="#f01818" stroke-width="0.9"/>
<rect x="553.28" y="560.25" width="3.1" height="3.1" fill="#fff" fill-opacity="0.0" stroke="#f01818" stroke-width="0.9"/>
<rect x="556.04" y="560.28" width="3.1" height="3.1" fill="#fff" fill-opacity="0.0" stroke="#f01818" stroke-width="0.9"/>
<rect x="558.81" y="560.3" width="3.1" height="3.1" fill="#fff" fill-opacity="0.0" stroke="#f01818" stroke-width="0.9"/>
<rect x="561.57" y="560.32" width="3.1" height="3.1" fill="#fff" fill-opacity="0.0" stroke="#f01818" stroke-width="0.9"/>
<rect x="564.33" y="560.32" width="3.1" height="3.1" fill="#fff" fill-opacity="0.0" stroke="#f01818" stroke-width="0.9"/>
<rect x="567.09" y="560.3" width="3.1" height="3.1" fill="#fff" fill-opacity="0.0" stroke="#f01818" stroke-width="0.9"/>
<rect x="569.85" y="560.24" width="3.1" height="3.1" fill="#fff" fill-opacity="0.0" stroke="#f01818" stroke-width="0.9"/>
<rect x="572.61" y="560.13" width="3.1" height="3.1" fill="#fff" fill-opacity="0.0" stroke="#f01818" stroke-width="0.9"/>
<rect x="575.37" y="559.98" width="3.1" height="3.1" fill="#fff" fill-opacity="0.0" stroke="#f01818" stroke-width="0.9"/>
<rect x="578.13" y="559.77" width="3.1" height="3.1" fill="#fff" fill-opacity="0.0" stroke="#f01818" stroke-width="0.9"/>
<rect x="580.89" y="559.6" width="3.1" height="3.1" fill="#fff" fill-opacity="0.0" stroke="#f01818" stroke-width="0.9"/>
<rect x="583.65" y="559.56" width="3.1" height="3.1" fill="#fff" fill-opacity="0.0" stroke="#f01818" stroke-width="0.9"/>
<rect x="586.42" y="559.73" width="3.1" height="3.1" fill="#fff" fill-opacity="0.0" stroke="#f01818" stroke-width="0.9"/>
<rect x="589.18" y="560.21" width="3.1" height="3.1" fill="#fff" fill-opacity="0.0" stroke="#f01818" stroke-width="0.9"/>
<rect x="591.94" y="561.06" width="3.1" height="3.1" fill="#fff" fill-opacity="0.0" stroke="#f01818" stroke-width="0.9"/>
<rect x="594.7" y="562.27" width="3.1" height="3.1" fill="#fff" fill-opacity="0.0" stroke="#f01818" stroke-width="0.9"/>
<rect x="597.46" y="563.78" width="3.1" height="3.1" fill="#fff" fill-opacity="0.0" stroke="#f01818" stroke-width="0.9"/>
<rect x="600.22" y="565.17" width="3.1" height="3.1" fill="#fff" fill-opacity="0.0" stroke="#f01818" stroke-width="0.9"/>
<rect x="602.98" y="566.2" width="3.1" height="3.1" fill="#fff" fill-opacity="0.0" stroke="#f01818" stroke-width="0.9"/>
<rect x="605.74" y="567.47" width="3.1" height="3.1" fill="#fff" fill-opacity="0.0" stroke="#f01818" stroke-width="0.9"/>
<polyline points="408.5,582.71 409.05,582.93 409.6,583.16 410.16,583.4 410.71,583.66 411.26,583.92 411.81,584.19 412.37,584.47 412.92,584.75 413.47,585.03 414.02,585.3 414.57,585.58 415.13,585.85 415.68,586.12 416.23,586.38 416.78,586.64 417.34,586.89 417.89,587.13 418.44,587.37 418.99,587.59 419.54,587.8 420.1,588.01 420.65,588.2 421.2,588.38 421.75,588.55 422.31,588.71 422.86,588.86 423.41,588.99 423.96,589.12 424.51,589.24 425.07,589.34 425.62,589.44 426.17,589.53 426.72,589.61 427.27,589.68 427.83,589.74 428.38,589.79 428.93,589.83 429.48,589.87 430.04,589.9 430.59,589.92 431.14,589.94 431.69,589.95 432.24,589.95 432.8,589.95 433.35,589.94 433.9,589.93 434.45,589.91 435.01,589.88 435.56,589.86 436.11,589.82 436.66,589.79 437.21,589.75 437.77,589.7 438.32,589.65 438.87,589.6 439.42,589.54 439.98,589.48 440.53,589.41 441.08,589.34 441.63,589.27 442.18,589.19 442.74,589.11 443.29,589.02 443.84,588.93 444.39,588.84 444.95,588.75 445.5,588.65 446.05,588.55 446.6,588.46 447.15,588.36 447.71,588.26 448.26,588.16 448.81,588.06 449.36,587.96 449.92,587.87 450.47,587.77 451.02,587.68 451.57,587.59 452.12,587.51 452.68,587.43 453.23,587.35 453.78,587.28 454.33,587.21 454.88,587.14 455.44,587.08 455.99,587.03 456.54,586.97 457.09,586.93 457.65,586.88 458.2,586.84 458.75,586.81 459.3,586.78 459.85,586.76 460.41,586.74 460.96,586.72 461.51,586.71 462.06,586.71 462.62,586.71 463.17,586.72 463.72,586.73 464.27,586.74 464.82,586.76 465.38,586.79 465.93,586.82 466.48,586.86 467.03,586.91 467.59,586.95 468.14,587.01 468.69,587.07 469.24,587.13 469.79,587.2 470.35,587.28 470.9,587.36 471.45,587.44 472,587.53 472.56,587.62 473.11,587.71 473.66,587.81 474.21,587.9 474.76,588 475.32,588.1 475.87,588.21 476.42,588.31 476.97,588.41 477.52,588.52 478.08,588.62 478.63,588.73 479.18,588.84 479.73,588.96 480.29,589.07 480.84,589.2 481.39,589.32 481.94,589.45 482.49,589.59 483.05,589.73 483.6,589.88 484.15,590.04 484.7,590.21 485.26,590.38 485.81,590.56 486.36,590.75 486.91,590.94 487.46,591.14 488.02,591.35 488.57,591.56 489.12,591.77 489.67,591.99 490.23,592.21 490.78,592.43 491.33,592.65 491.88,592.88 492.43,593.1 492.99,593.33 493.54,593.55 494.09,593.78 494.64,594 495.2,594.22 495.75,594.44 496.3,594.66 496.85,594.87 497.4,595.09 497.96,595.3 498.51,595.51 499.06,595.71 499.61,595.91 500.17,596.11 500.72,596.3 501.27,596.49 501.82,596.67 502.37,596.83 502.93,596.97 503.48,597.08 504.03,597.16 504.58,597.21 505.13,597.2 505.69,597.15 506.24,597.04 506.79,596.89 507.34,596.68 507.9,596.42 508.45,596.1 509,595.73 509.55,595.3 510.1,594.82 510.66,594.29 511.21,593.73 511.76,593.12 512.31,592.5 512.87,591.86 513.42,591.21 513.97,590.57 514.52,589.93 515.07,589.31 515.63,588.71 516.18,588.14 516.73,587.61 517.28,587.1 517.84,586.62 518.39,586.17 518.94,585.74 519.49,585.33 520.04,584.94 520.6,584.57 521.15,584.21 521.7,583.87 522.25,583.54 522.81,583.22 523.36,582.91 523.91,582.61 524.46,582.31 525.01,582.01 525.57,581.72 526.12,581.42 526.67,581.13 527.22,580.84 527.78,580.55 528.33,580.27 528.88,579.99 529.43,579.71 529.98,579.44 530.54,579.17 531.09,578.9 531.64,578.64 532.19,578.39 532.75,578.14 533.3,577.9 533.85,577.66 534.4,577.44 534.95,577.22 535.51,577 536.06,576.8 536.61,576.6 537.16,576.41 537.71,576.22 538.27,576.05 538.82,575.88 539.37,575.71 539.92,575.56 540.48,575.4 541.03,575.26 541.58,575.12 542.13,574.99 542.68,574.86 543.24,574.74 543.79,574.63 544.34,574.52 544.89,574.41 545.45,574.31 546,574.22 546.55,574.13 547.1,574.04 547.65,573.96 548.21,573.88 548.76,573.8 549.31,573.73 549.86,573.66 550.42,573.59 550.97,573.52 551.52,573.46 552.07,573.4 552.62,573.34 553.18,573.28 553.73,573.22 554.28,573.16 554.83,573.1 555.39,573.05 555.94,572.99 556.49,572.94 557.04,572.89 557.59,572.84 558.15,572.79 558.7,572.74 559.25,572.7 559.8,572.66 560.36,572.63 560.91,572.6 561.46,572.57 562.01,572.55 562.56,572.53 563.12,572.52 563.67,572.51 564.22,572.51 564.77,572.51 565.32,572.52 565.88,572.53 566.43,572.56 566.98,572.58 567.53,572.62 568.09,572.66 568.64,572.71 569.19,572.77 569.74,572.83 570.29,572.89 570.85,572.97 571.4,573.05 571.95,573.13 572.5,573.22 573.06,573.31 573.61,573.4 574.16,573.5 574.71,573.6 575.26,573.7 575.82,573.8 576.37,573.91 576.92,574.02 577.47,574.13 578.03,574.23 578.58,574.35 579.13,574.46 579.68,574.57 580.23,574.68 580.79,574.8 581.34,574.92 581.89,575.04 582.44,575.16 583,575.28 583.55,575.41 584.1,575.54 584.65,575.67 585.2,575.8 585.76,575.94 586.31,576.07 586.86,576.22 587.41,576.36 587.97,576.51 588.52,576.66 589.07,576.81 589.62,576.97 590.17,577.13 590.73,577.29 591.28,577.46 591.83,577.63 592.38,577.8 592.93,577.98 593.49,578.16 594.04,578.35 594.59,578.53 595.14,578.72 595.7,578.92 596.25,579.11 596.8,579.31 597.35,579.52 597.9,579.72 598.46,579.93 599.01,580.13 599.56,580.33 600.11,580.52 600.67,580.71 601.22,580.89 601.77,581.06 602.32,581.23 602.87,581.38 603.43,581.54 603.98,581.69 604.53,581.84 605.08,581.99 605.64,582.16 606.19,582.33 606.74,582.51 607.29,582.71" fill="none" stroke="#f01818" stroke-width="0.8"/>
<polygon points="408.5,580.83 406.7,583.96 410.3,583.96" fill="none" stroke="#f01818" stroke-width="0.9"/>
<polygon points="411.26,582.04 409.46,585.17 413.06,585.17" fill="none" stroke="#f01818" stroke-width="0.9"/>
<polygon points="414.02,583.43 412.22,586.56 415.82,586.56" fill="none" stroke="#f01818" stroke-width="0.9"/>
<polygon points="416.78,584.76 414.98,587.89 418.58,587.89" fill="none" stroke="#f01818" stroke-width="0.9"/>
<polygon points="419.54,585.93 417.74,589.06 421.34,589.06" fill="none" stroke="#f01818" stroke-width="0.9"/>
<polygon points="422.31,586.83 420.5,589.96 424.11,589.96" fill="none" stroke="#f01818" stroke-width="0.9"/>
<polygon points="425.07,587.46 423.27,590.6 426.87,590.6" fill="none" stroke="#f01818" stroke-width="0.9"/>
<polygon points="427.83,587.86 426.03,590.99 429.63,590.99" fill="none" stroke="#f01818" stroke-width="0.9"/>
<polygon points="430.59,588.04 428.79,591.18 432.39,591.18" fill="none" stroke="#f01818" stroke-width="0.9"/>
<polygon points="433.35,588.06 431.55,591.19 435.15,591.19" fill="none" stroke="#f01818" stroke-width="0.9"/>
<polygon points="436.11,587.94 434.31,591.08 437.91,591.08" fill="none" stroke="#f01818" stroke-width="0.9"/>
<polygon points="438.87,587.72 437.07,590.85 440.67,590.85" fill="none" stroke="#f01818" stroke-width="0.9"/>
<polygon points="441.63,587.39 439.83,590.52 443.43,590.52" fill="none" stroke="#f01818" stroke-width="0.9"/>
<polygon points="444.39,586.96 442.59,590.09 446.19,590.09" fill="none" stroke="#f01818" stroke-width="0.9"/>
<polygon points="447.15,586.48 445.35,589.61 448.95,589.61" fill="none" stroke="#f01818" stroke-width="0.9"/>
<polygon points="449.92,585.99 448.12,589.12 451.72,589.12" fill="none" stroke="#f01818" stroke-width="0.9"/>
<polygon points="452.68,585.55 450.88,588.68 454.48,588.68" fill="none" stroke="#f01818" stroke-width="0.9"/>
<polygon points="455.44,585.2 453.64,588.34 457.24,588.34" fill="none" stroke="#f01818" stroke-width="0.9"/>
<polygon points="458.2,584.97 456.4,588.1 460,588.1" fill="none" stroke="#f01818" stroke-width="0.9"/>
<polygon points="460.96,584.84 459.16,587.98 462.76,587.98" fill="none" stroke="#f01818" stroke-width="0.9"/>
<polygon points="463.72,584.85 461.92,587.98 465.52,587.98" fill="none" stroke="#f01818" stroke-width="0.9"/>
<polygon points="466.48,584.98 464.68,588.11 468.28,588.11" fill="none" stroke="#f01818" stroke-width="0.9"/>
<polygon points="469.24,585.25 467.44,588.39 471.04,588.39" fill="none" stroke="#f01818" stroke-width="0.9"/>
<polygon points="472,585.65 470.2,588.78 473.8,588.78" fill="none" stroke="#f01818" stroke-width="0.9"/>
<polygon points="474.76,586.12 472.96,589.25 476.56,589.25" fill="none" stroke="#f01818" stroke-width="0.9"/>
<polygon points="477.52,586.64 475.72,589.77 479.32,589.77" fill="none" stroke="#f01818" stroke-width="0.9"/>
<polygon points="480.29,587.19 478.49,590.33 482.09,590.33" fill="none" stroke="#f01818" stroke-width="0.9"/>
<polygon points="483.05,587.85 481.25,590.99 484.85,590.99" fill="none" stroke="#f01818" stroke-width="0.9"/>
<polygon points="485.81,588.68 484.01,591.81 487.61,591.81" fill="none" stroke="#f01818" stroke-width="0.9"/>
<polygon points="488.57,589.68 486.77,592.81 490.37,592.81" fill="none" stroke="#f01818" stroke-width="0.9"/>
<polygon points="491.33,590.78 489.53,593.91 493.13,593.91" fill="none" stroke="#f01818" stroke-width="0.9"/>
<polygon points="494.09,591.9 492.29,595.03 495.89,595.03" fill="none" stroke="#f01818" stroke-width="0.9"/>
<polygon points="496.85,593 495.05,596.13 498.65,596.13" fill="none" stroke="#f01818" stroke-width="0.9"/>
<polygon points="499.61,594.03 497.81,597.16 501.41,597.16" fill="none" stroke="#f01818" stroke-width="0.9"/>
<polygon points="502.37,594.95 500.57,598.08 504.17,598.08" fill="none" stroke="#f01818" stroke-width="0.9"/>
<polygon points="505.13,595.32 503.33,598.45 506.94,598.45" fill="none" stroke="#f01818" stroke-width="0.9"/>
<polygon points="507.9,594.54 506.1,597.67 509.7,597.67" fill="none" stroke="#f01818" stroke-width="0.9"/>
<polygon points="510.66,592.41 508.86,595.55 512.46,595.55" fill="none" stroke="#f01818" stroke-width="0.9"/>
<polygon points="513.42,589.33 511.62,592.47 515.22,592.47" fill="none" stroke="#f01818" stroke-width="0.9"/>
<polygon points="516.18,586.26 514.38,589.39 517.98,589.39" fill="none" stroke="#f01818" stroke-width="0.9"/>
<polygon points="518.94,583.86 517.14,586.99 520.74,586.99" fill="none" stroke="#f01818" stroke-width="0.9"/>
<polygon points="521.7,581.99 519.9,585.12 523.5,585.12" fill="none" stroke="#f01818" stroke-width="0.9"/>
<polygon points="524.46,580.43 522.66,583.56 526.26,583.56" fill="none" stroke="#f01818" stroke-width="0.9"/>
<polygon points="527.22,578.96 525.42,582.09 529.02,582.09" fill="none" stroke="#f01818" stroke-width="0.9"/>
<polygon points="529.98,577.56 528.18,580.69 531.78,580.69" fill="none" stroke="#f01818" stroke-width="0.9"/>
<polygon points="532.75,576.26 530.95,579.39 534.54,579.39" fill="none" stroke="#f01818" stroke-width="0.9"/>
<polygon points="535.51,575.12 533.71,578.25 537.31,578.25" fill="none" stroke="#f01818" stroke-width="0.9"/>
<polygon points="538.27,574.17 536.47,577.3 540.07,577.3" fill="none" stroke="#f01818" stroke-width="0.9"/>
<polygon points="541.03,573.38 539.23,576.51 542.83,576.51" fill="none" stroke="#f01818" stroke-width="0.9"/>
<polygon points="543.79,572.75 541.99,575.88 545.59,575.88" fill="none" stroke="#f01818" stroke-width="0.9"/>
<polygon points="546.55,572.25 544.75,575.38 548.35,575.38" fill="none" stroke="#f01818" stroke-width="0.9"/>
<polygon points="549.31,571.85 547.51,574.98 551.11,574.98" fill="none" stroke="#f01818" stroke-width="0.9"/>
<polygon points="552.07,571.52 550.27,574.65 553.87,574.65" fill="none" stroke="#f01818" stroke-width="0.9"/>
<polygon points="554.83,571.22 553.03,574.35 556.63,574.35" fill="none" stroke="#f01818" stroke-width="0.9"/>
<polygon points="557.59,570.96 555.79,574.09 559.39,574.09" fill="none" stroke="#f01818" stroke-width="0.9"/>
<polygon points="560.36,570.75 558.56,573.88 562.15,573.88" fill="none" stroke="#f01818" stroke-width="0.9"/>
<polygon points="563.12,570.64 561.32,573.77 564.92,573.77" fill="none" stroke="#f01818" stroke-width="0.9"/>
<polygon points="565.88,570.65 564.08,573.79 567.68,573.79" fill="none" stroke="#f01818" stroke-width="0.9"/>
<polygon points="568.64,570.83 566.84,573.96 570.44,573.96" fill="none" stroke="#f01818" stroke-width="0.9"/>
<polygon points="571.4,571.17 569.6,574.3 573.2,574.3" fill="none" stroke="#f01818" stroke-width="0.9"/>
<polygon points="574.16,571.62 572.36,574.75 575.96,574.75" fill="none" stroke="#f01818" stroke-width="0.9"/>
<polygon points="576.92,572.14 575.12,575.27 578.72,575.27" fill="none" stroke="#f01818" stroke-width="0.9"/>
<polygon points="579.68,572.69 577.88,575.82 581.48,575.82" fill="none" stroke="#f01818" stroke-width="0.9"/>
<polygon points="582.44,573.28 580.64,576.41 584.24,576.41" fill="none" stroke="#f01818" stroke-width="0.9"/>
<polygon points="585.2,573.92 583.4,577.05 587,577.05" fill="none" stroke="#f01818" stroke-width="0.9"/>
<polygon points="587.97,574.63 586.17,577.76 589.76,577.76" fill="none" stroke="#f01818" stroke-width="0.9"/>
<polygon points="590.73,575.41 588.93,578.55 592.53,578.55" fill="none" stroke="#f01818" stroke-width="0.9"/>
<polygon points="593.49,576.28 591.69,579.41 595.29,579.41" fill="none" stroke="#f01818" stroke-width="0.9"/>
<polygon points="596.25,577.23 594.45,580.37 598.05,580.37" fill="none" stroke="#f01818" stroke-width="0.9"/>
<polygon points="599.01,578.25 597.21,581.38 600.81,581.38" fill="none" stroke="#f01818" stroke-width="0.9"/>
<polygon points="601.77,579.18 599.97,582.32 603.57,582.32" fill="none" stroke="#f01818" stroke-width="0.9"/>
<polygon points="604.53,579.96 602.73,583.09 606.33,583.09" fill="none" stroke="#f01818" stroke-width="0.9"/>
<polygon points="607.29,580.83 605.49,583.96 609.09,583.96" fill="none" stroke="#f01818" stroke-width="0.9"/>
<polyline points="408.5,527.85 409.05,529.38 409.6,530.89 410.16,532.48 410.71,534.26 411.26,536.34 411.81,538.78 412.37,541.43 412.92,544.11 413.47,546.64 414.02,548.83 414.57,550.68 415.13,552.28 415.68,553.69 416.23,555.01 416.78,556.33 417.34,557.7 417.89,559.11 418.44,560.54 418.99,561.96 419.54,563.32 420.1,564.62 420.65,565.86 421.2,567.05 421.75,568.2 422.31,569.32 422.86,570.43 423.41,571.5 423.96,572.52 424.51,573.47 425.07,574.32 425.62,575.06 426.17,575.71 426.72,576.28 427.27,576.79 427.83,577.25 428.38,577.69 428.93,578.11 429.48,578.5 430.04,578.85 430.59,579.16 431.14,579.41 431.69,579.61 432.24,579.75 432.8,579.85 433.35,579.9 433.9,579.92 434.45,579.91 435.01,579.89 435.56,579.84 436.11,579.77 436.66,579.68 437.21,579.56 437.77,579.41 438.32,579.24 438.87,579.05 439.42,578.83 439.98,578.6 440.53,578.35 441.08,578.09 441.63,577.81 442.18,577.54 442.74,577.25 443.29,576.96 443.84,576.66 444.39,576.36 444.95,576.05 445.5,575.74 446.05,575.43 446.6,575.12 447.15,574.8 447.71,574.49 448.26,574.17 448.81,573.86 449.36,573.56 449.92,573.27 450.47,572.99 451.02,572.71 451.57,572.46 452.12,572.22 452.68,572 453.23,571.79 453.78,571.61 454.33,571.44 454.88,571.28 455.44,571.14 455.99,571.01 456.54,570.9 457.09,570.79 457.65,570.7 458.2,570.62 458.75,570.55 459.3,570.49 459.85,570.43 460.41,570.39 460.96,570.35 461.51,570.33 462.06,570.31 462.62,570.31 463.17,570.31 463.72,570.32 464.27,570.34 464.82,570.37 465.38,570.42 465.93,570.48 466.48,570.56 467.03,570.66 467.59,570.78 468.14,570.92 468.69,571.09 469.24,571.28 469.79,571.49 470.35,571.71 470.9,571.96 471.45,572.21 472,572.47 472.56,572.74 473.11,573.02 473.66,573.29 474.21,573.57 474.76,573.86 475.32,574.15 475.87,574.46 476.42,574.77 476.97,575.1 477.52,575.45 478.08,575.82 478.63,576.2 479.18,576.61 479.73,577.04 480.29,577.5 480.84,577.98 481.39,578.48 481.94,579.01 482.49,579.57 483.05,580.16 483.6,580.76 484.15,581.39 484.7,582.04 485.26,582.71 485.81,583.4 486.36,584.09 486.91,584.77 487.46,585.45 488.02,586.1 488.57,586.71 489.12,587.28 489.67,587.81 490.23,588.32 490.78,588.8 491.33,589.27 491.88,589.74 492.43,590.21 492.99,590.69 493.54,591.17 494.09,591.67 494.64,592.17 495.2,592.67 495.75,593.17 496.3,593.66 496.85,594.15 497.4,594.62 497.96,595.09 498.51,595.54 499.06,595.97 499.61,596.37 500.17,596.75 500.72,597.1 501.27,597.42 501.82,597.69 502.37,597.9 502.93,598.04 503.48,598.1 504.03,598.05 504.58,597.9 505.13,597.64 505.69,597.28 506.24,596.83 506.79,596.3 507.34,595.69 507.9,595.01 508.45,594.28 509,593.5 509.55,592.68 510.1,591.84 510.66,590.99 511.21,590.13 511.76,589.26 512.31,588.36 512.87,587.42 513.42,586.41 513.97,585.32 514.52,584.15 515.07,582.89 515.63,581.55 516.18,580.11 516.73,578.59 517.28,576.97 517.84,575.26 518.39,573.44 518.94,571.52 519.49,569.49 520.04,567.39 520.6,565.24 521.15,563.07 521.7,560.93 522.25,558.82 522.81,556.74 523.36,554.67 523.91,552.59 524.46,550.48 525.01,548.33 525.57,546.14 526.12,543.91 526.67,541.64 527.22,539.34 527.78,537.02 528.33,534.68 528.88,532.37 529.43,530.08 529.98,527.85 530.54,525.68 531.09,523.57 531.64,521.5 532.19,519.43 532.75,517.36 533.3,515.26 533.85,513.14 534.4,511.03 534.95,508.93 535.51,506.86 536.06,504.84 536.61,502.87 537.16,500.96 537.71,499.12 538.27,497.37 538.82,495.7 539.37,494.1 539.92,492.57 540.48,491.08 541.03,489.62 541.58,488.19 542.13,486.77 542.68,485.35 543.24,483.94 543.79,482.53 544.34,481.11 544.89,479.72 545.45,478.36 546,477.08 546.55,475.88 547.1,474.8 547.65,473.81 548.21,472.88 548.76,471.98 549.31,471.09 549.86,470.18 550.42,469.26 550.97,468.37 551.52,467.5 552.07,466.69 552.62,465.94 553.18,465.26 553.73,464.61 554.28,463.99 554.83,463.39 555.39,462.79 555.94,462.2 556.49,461.63 557.04,461.09 557.59,460.59 558.15,460.14 558.7,459.73 559.25,459.36 559.8,459.02 560.36,458.69 560.91,458.39 561.46,458.1 562.01,457.83 562.56,457.59 563.12,457.38 563.67,457.2 564.22,457.05 564.77,456.93 565.32,456.85 565.88,456.78 566.43,456.74 566.98,456.71 567.53,456.7 568.09,456.69 568.64,456.7 569.19,456.73 569.74,456.79 570.29,456.88 570.85,457.01 571.4,457.2 571.95,457.43 572.5,457.71 573.06,458.02 573.61,458.35 574.16,458.69 574.71,459.04 575.26,459.39 575.82,459.76 576.37,460.16 576.92,460.59 577.47,461.08 578.03,461.61 578.58,462.17 579.13,462.77 579.68,463.39 580.23,464.03 580.79,464.68 581.34,465.33 581.89,465.97 582.44,466.59 583,467.19 583.55,467.75 584.1,468.31 584.65,468.88 585.2,469.5 585.76,470.19 586.31,470.97 586.86,471.85 587.41,472.81 587.97,473.84 588.52,474.94 589.07,476.09 589.62,477.27 590.17,478.45 590.73,479.63 591.28,480.78 591.83,481.92 592.38,483.05 592.93,484.2 593.49,485.38 594.04,486.59 594.59,487.87 595.14,489.2 595.7,490.62 596.25,492.12 596.8,493.72 597.35,495.39 597.9,497.12 598.46,498.87 599.01,500.62 599.56,502.35 600.11,504.08 600.67,505.81 601.22,507.57 601.77,509.36 602.32,511.2 602.87,513.09 603.43,515 603.98,516.93 604.53,518.85 605.08,520.77 605.64,522.65 606.19,524.47 606.74,526.21 607.29,527.85" fill="none" stroke="#f01818" stroke-width="1.1"/>
<circle cx="408.5" cy="527.85" r="1.85" fill="#f01818"/>
<circle cx="411.26" cy="536.34" r="1.85" fill="#f01818"/>
<circle cx="414.02" cy="548.83" r="1.85" fill="#f01818"/>
<circle cx="416.78" cy="556.33" r="1.85" fill="#f01818"/>
<circle cx="419.54" cy="563.32" r="1.85" fill="#f01818"/>
<circle cx="422.31" cy="569.32" r="1.85" fill="#f01818"/>
<circle cx="425.07" cy="574.32" r="1.85" fill="#f01818"/>
<circle cx="427.83" cy="577.25" r="1.85" fill="#f01818"/>
<circle cx="430.59" cy="579.16" r="1.85" fill="#f01818"/>
<circle cx="433.35" cy="579.9" r="1.85" fill="#f01818"/>
<circle cx="436.11" cy="579.77" r="1.85" fill="#f01818"/>
<circle cx="438.87" cy="579.05" r="1.85" fill="#f01818"/>
<circle cx="441.63" cy="577.81" r="1.85" fill="#f01818"/>
<circle cx="444.39" cy="576.36" r="1.85" fill="#f01818"/>
<circle cx="447.15" cy="574.8" r="1.85" fill="#f01818"/>
<circle cx="449.92" cy="573.27" r="1.85" fill="#f01818"/>
<circle cx="452.68" cy="572" r="1.85" fill="#f01818"/>
<circle cx="455.44" cy="571.14" r="1.85" fill="#f01818"/>
<circle cx="458.2" cy="570.62" r="1.85" fill="#f01818"/>
<circle cx="460.96" cy="570.35" r="1.85" fill="#f01818"/>
<circle cx="463.72" cy="570.32" r="1.85" fill="#f01818"/>
<circle cx="466.48" cy="570.56" r="1.85" fill="#f01818"/>
<circle cx="469.24" cy="571.28" r="1.85" fill="#f01818"/>
<circle cx="472" cy="572.47" r="1.85" fill="#f01818"/>
<circle cx="474.76" cy="573.86" r="1.85" fill="#f01818"/>
<circle cx="477.52" cy="575.45" r="1.85" fill="#f01818"/>
<circle cx="480.29" cy="577.5" r="1.85" fill="#f01818"/>
<circle cx="483.05" cy="580.16" r="1.85" fill="#f01818"/>
<circle cx="485.81" cy="583.4" r="1.85" fill="#f01818"/>
<circle cx="488.57" cy="586.71" r="1.85" fill="#f01818"/>
<circle cx="491.33" cy="589.27" r="1.85" fill="#f01818"/>
<circle cx="494.09" cy="591.67" r="1.85" fill="#f01818"/>
<circle cx="496.85" cy="594.15" r="1.85" fill="#f01818"/>
<circle cx="499.61" cy="596.37" r="1.85" fill="#f01818"/>
<circle cx="502.37" cy="597.9" r="1.85" fill="#f01818"/>
<circle cx="505.13" cy="597.64" r="1.85" fill="#f01818"/>
<circle cx="507.9" cy="595.01" r="1.85" fill="#f01818"/>
<circle cx="510.66" cy="590.99" r="1.85" fill="#f01818"/>
<circle cx="513.42" cy="586.41" r="1.85" fill="#f01818"/>
<circle cx="516.18" cy="580.11" r="1.85" fill="#f01818"/>
<circle cx="518.94" cy="571.52" r="1.85" fill="#f01818"/>
<circle cx="521.7" cy="560.93" r="1.85" fill="#f01818"/>
<circle cx="524.46" cy="550.48" r="1.85" fill="#f01818"/>
<circle cx="527.22" cy="539.34" r="1.85" fill="#f01818"/>
<circle cx="529.98" cy="527.85" r="1.85" fill="#f01818"/>
<circle cx="532.75" cy="517.36" r="1.85" fill="#f01818"/>
<circle cx="535.51" cy="506.86" r="1.85" fill="#f01818"/>
<circle cx="538.27" cy="497.37" r="1.85" fill="#f01818"/>
<circle cx="541.03" cy="489.62" r="1.85" fill="#f01818"/>
<circle cx="543.79" cy="482.53" r="1.85" fill="#f01818"/>
<circle cx="546.55" cy="475.88" r="1.85" fill="#f01818"/>
<circle cx="549.31" cy="471.09" r="1.85" fill="#f01818"/>
<circle cx="552.07" cy="466.69" r="1.85" fill="#f01818"/>
<circle cx="554.83" cy="463.39" r="1.85" fill="#f01818"/>
<circle cx="557.59" cy="460.59" r="1.85" fill="#f01818"/>
<circle cx="560.36" cy="458.69" r="1.85" fill="#f01818"/>
<circle cx="563.12" cy="457.38" r="1.85" fill="#f01818"/>
<circle cx="565.88" cy="456.78" r="1.85" fill="#f01818"/>
<circle cx="568.64" cy="456.7" r="1.85" fill="#f01818"/>
<circle cx="571.4" cy="457.2" r="1.85" fill="#f01818"/>
<circle cx="574.16" cy="458.69" r="1.85" fill="#f01818"/>
<circle cx="576.92" cy="460.59" r="1.85" fill="#f01818"/>
<circle cx="579.68" cy="463.39" r="1.85" fill="#f01818"/>
<circle cx="582.44" cy="466.59" r="1.85" fill="#f01818"/>
<circle cx="585.2" cy="469.5" r="1.85" fill="#f01818"/>
<circle cx="587.97" cy="473.84" r="1.85" fill="#f01818"/>
<circle cx="590.73" cy="479.63" r="1.85" fill="#f01818"/>
<circle cx="593.49" cy="485.38" r="1.85" fill="#f01818"/>
<circle cx="596.25" cy="492.12" r="1.85" fill="#f01818"/>
<circle cx="599.01" cy="500.62" r="1.85" fill="#f01818"/>
<circle cx="601.77" cy="509.36" r="1.85" fill="#f01818"/>
<circle cx="604.53" cy="518.85" r="1.85" fill="#f01818"/>
<circle cx="607.29" cy="527.85" r="1.85" fill="#f01818"/>
<path d="M406 450.4H609.5V600.4H406" fill="none" stroke="#222" stroke-width="1.1"/>
<line x1="406" y1="449.85" x2="406" y2="600.95" stroke="#8a8a8a" stroke-width="1.1" />
<line x1="408.5" y1="600.4" x2="408.5" y2="596.4" stroke="#222" stroke-width="1" />
<line x1="408.5" y1="450.4" x2="408.5" y2="454.4" stroke="#222" stroke-width="1" />
<line x1="420.92" y1="600.4" x2="420.92" y2="598.1" stroke="#222" stroke-width="1" />
<line x1="420.92" y1="450.4" x2="420.92" y2="452.7" stroke="#222" stroke-width="1" />
<line x1="433.35" y1="600.4" x2="433.35" y2="596.4" stroke="#222" stroke-width="1" />
<line x1="433.35" y1="450.4" x2="433.35" y2="454.4" stroke="#222" stroke-width="1" />
<line x1="445.77" y1="600.4" x2="445.77" y2="598.1" stroke="#222" stroke-width="1" />
<line x1="445.77" y1="450.4" x2="445.77" y2="452.7" stroke="#222" stroke-width="1" />
<line x1="458.2" y1="600.4" x2="458.2" y2="596.4" stroke="#222" stroke-width="1" />
<line x1="458.2" y1="450.4" x2="458.2" y2="454.4" stroke="#222" stroke-width="1" />
<line x1="470.62" y1="600.4" x2="470.62" y2="598.1" stroke="#222" stroke-width="1" />
<line x1="470.62" y1="450.4" x2="470.62" y2="452.7" stroke="#222" stroke-width="1" />
<line x1="483.05" y1="600.4" x2="483.05" y2="596.4" stroke="#222" stroke-width="1" />
<line x1="483.05" y1="450.4" x2="483.05" y2="454.4" stroke="#222" stroke-width="1" />
<line x1="495.47" y1="600.4" x2="495.47" y2="598.1" stroke="#222" stroke-width="1" />
<line x1="495.47" y1="450.4" x2="495.47" y2="452.7" stroke="#222" stroke-width="1" />
<line x1="507.9" y1="600.4" x2="507.9" y2="596.4" stroke="#222" stroke-width="1" />
<line x1="507.9" y1="450.4" x2="507.9" y2="454.4" stroke="#222" stroke-width="1" />
<line x1="520.32" y1="600.4" x2="520.32" y2="598.1" stroke="#222" stroke-width="1" />
<line x1="520.32" y1="450.4" x2="520.32" y2="452.7" stroke="#222" stroke-width="1" />
<line x1="532.75" y1="600.4" x2="532.75" y2="596.4" stroke="#222" stroke-width="1" />
<line x1="532.75" y1="450.4" x2="532.75" y2="454.4" stroke="#222" stroke-width="1" />
<line x1="545.17" y1="600.4" x2="545.17" y2="598.1" stroke="#222" stroke-width="1" />
<line x1="545.17" y1="450.4" x2="545.17" y2="452.7" stroke="#222" stroke-width="1" />
<line x1="557.59" y1="600.4" x2="557.59" y2="596.4" stroke="#222" stroke-width="1" />
<line x1="557.59" y1="450.4" x2="557.59" y2="454.4" stroke="#222" stroke-width="1" />
<line x1="570.02" y1="600.4" x2="570.02" y2="598.1" stroke="#222" stroke-width="1" />
<line x1="570.02" y1="450.4" x2="570.02" y2="452.7" stroke="#222" stroke-width="1" />
<line x1="582.44" y1="600.4" x2="582.44" y2="596.4" stroke="#222" stroke-width="1" />
<line x1="582.44" y1="450.4" x2="582.44" y2="454.4" stroke="#222" stroke-width="1" />
<line x1="594.87" y1="600.4" x2="594.87" y2="598.1" stroke="#222" stroke-width="1" />
<line x1="594.87" y1="450.4" x2="594.87" y2="452.7" stroke="#222" stroke-width="1" />
<line x1="607.29" y1="600.4" x2="607.29" y2="596.4" stroke="#222" stroke-width="1" />
<line x1="607.29" y1="450.4" x2="607.29" y2="454.4" stroke="#222" stroke-width="1" />
<text x="408.5" y="612.7" font-size="10.4" text-anchor="middle" fill="#111" style="font-family:'Liberation Sans',sans-serif;" >0</text>
<text x="433.35" y="612.7" font-size="10.4" text-anchor="middle" fill="#111" style="font-family:'Liberation Sans',sans-serif;" >45</text>
<text x="458.2" y="612.7" font-size="10.4" text-anchor="middle" fill="#111" style="font-family:'Liberation Sans',sans-serif;" >90</text>
<text x="483.05" y="612.7" font-size="10.4" text-anchor="middle" fill="#111" style="font-family:'Liberation Sans',sans-serif;" >135</text>
<text x="507.9" y="612.7" font-size="10.4" text-anchor="middle" fill="#111" style="font-family:'Liberation Sans',sans-serif;" >180</text>
<text x="532.75" y="612.7" font-size="10.4" text-anchor="middle" fill="#111" style="font-family:'Liberation Sans',sans-serif;" >225</text>
<text x="557.59" y="612.7" font-size="10.4" text-anchor="middle" fill="#111" style="font-family:'Liberation Sans',sans-serif;" >270</text>
<text x="582.44" y="612.7" font-size="10.4" text-anchor="middle" fill="#111" style="font-family:'Liberation Sans',sans-serif;" >315</text>
<text x="607.29" y="612.7" font-size="10.4" text-anchor="middle" fill="#111" style="font-family:'Liberation Sans',sans-serif;" >360</text>
<line x1="406" y1="600.3" x2="410" y2="600.3" stroke="#8a8a8a" stroke-width="1" />
<line x1="609.5" y1="600.3" x2="605.5" y2="600.3" stroke="#222" stroke-width="1" />
<text x="401.3" y="604.3" font-size="11.5" text-anchor="end" fill="#111" style="font-family:'Liberation Sans',sans-serif;" >0</text>
<line x1="406" y1="587.81" x2="408.3" y2="587.81" stroke="#8a8a8a" stroke-width="1" />
<line x1="609.5" y1="587.81" x2="607.2" y2="587.81" stroke="#222" stroke-width="1" />
<line x1="406" y1="575.32" x2="410" y2="575.32" stroke="#8a8a8a" stroke-width="1" />
<line x1="609.5" y1="575.32" x2="605.5" y2="575.32" stroke="#222" stroke-width="1" />
<text x="401.3" y="579.32" font-size="11.5" text-anchor="end" fill="#111" style="font-family:'Liberation Sans',sans-serif;" >50</text>
<line x1="406" y1="562.82" x2="408.3" y2="562.82" stroke="#8a8a8a" stroke-width="1" />
<line x1="609.5" y1="562.82" x2="607.2" y2="562.82" stroke="#222" stroke-width="1" />
<line x1="406" y1="550.33" x2="410" y2="550.33" stroke="#8a8a8a" stroke-width="1" />
<line x1="609.5" y1="550.33" x2="605.5" y2="550.33" stroke="#222" stroke-width="1" />
<text x="401.3" y="554.33" font-size="11.5" text-anchor="end" fill="#111" style="font-family:'Liberation Sans',sans-serif;" >100</text>
<line x1="406" y1="537.84" x2="408.3" y2="537.84" stroke="#8a8a8a" stroke-width="1" />
<line x1="609.5" y1="537.84" x2="607.2" y2="537.84" stroke="#222" stroke-width="1" />
<line x1="406" y1="525.35" x2="410" y2="525.35" stroke="#8a8a8a" stroke-width="1" />
<line x1="609.5" y1="525.35" x2="605.5" y2="525.35" stroke="#222" stroke-width="1" />
<text x="401.3" y="529.35" font-size="11.5" text-anchor="end" fill="#111" style="font-family:'Liberation Sans',sans-serif;" >150</text>
<line x1="406" y1="512.86" x2="408.3" y2="512.86" stroke="#8a8a8a" stroke-width="1" />
<line x1="609.5" y1="512.86" x2="607.2" y2="512.86" stroke="#222" stroke-width="1" />
<line x1="406" y1="500.37" x2="410" y2="500.37" stroke="#8a8a8a" stroke-width="1" />
<line x1="609.5" y1="500.37" x2="605.5" y2="500.37" stroke="#222" stroke-width="1" />
<text x="401.3" y="504.37" font-size="11.5" text-anchor="end" fill="#111" style="font-family:'Liberation Sans',sans-serif;" >200</text>
<line x1="406" y1="487.88" x2="408.3" y2="487.88" stroke="#8a8a8a" stroke-width="1" />
<line x1="609.5" y1="487.88" x2="607.2" y2="487.88" stroke="#222" stroke-width="1" />
<line x1="406" y1="475.38" x2="410" y2="475.38" stroke="#8a8a8a" stroke-width="1" />
<line x1="609.5" y1="475.38" x2="605.5" y2="475.38" stroke="#222" stroke-width="1" />
<text x="401.3" y="479.38" font-size="11.5" text-anchor="end" fill="#111" style="font-family:'Liberation Sans',sans-serif;" >250</text>
<line x1="406" y1="462.89" x2="408.3" y2="462.89" stroke="#8a8a8a" stroke-width="1" />
<line x1="609.5" y1="462.89" x2="607.2" y2="462.89" stroke="#222" stroke-width="1" />
<line x1="406" y1="450.4" x2="410" y2="450.4" stroke="#8a8a8a" stroke-width="1" />
<line x1="609.5" y1="450.4" x2="605.5" y2="450.4" stroke="#222" stroke-width="1" />
<text x="401.3" y="454.4" font-size="11.5" text-anchor="end" fill="#111" style="font-family:'Liberation Sans',sans-serif;" >300</text>
<text transform="translate(375.8,518.5) rotate(-90)" font-size="12.4" text-anchor="middle" fill="#111" style="font-family:'Liberation Sans',sans-serif">Agreement factors</text>
<text x="436" y="629.8" font-size="12.4" text-anchor="start" fill="#111" style="font-family:'Liberation Sans',sans-serif;" >Magnetic phase, <tspan font-family="Liberation Serif" font-size="13.5">φ</tspan>'<tspan font-size="8.6" dy="2.8">S</tspan><tspan dy="-2.8"> (deg)</tspan></text>
<text x="562.3" y="482.3" font-size="14" text-anchor="start" fill="#111" style="font-family:'Liberation Sans',sans-serif;" ><tspan font-family="Liberation Serif" font-size="16.5">χ</tspan><tspan font-size="9" dx="1.2" dy="-6.5">2</tspan></text>
<text x="557.4" y="553.2" font-size="11.2" text-anchor="start" fill="#111" style="font-family:'Liberation Sans',sans-serif;" >R<tspan font-size="7.6" dy="4">F</tspan><tspan font-size="6.8" dx="1" dy="-8.5">2</tspan></text>
<text x="557.4" y="587.6" font-size="11.2" text-anchor="start" fill="#111" style="font-family:'Liberation Sans',sans-serif;" >R<tspan font-size="7.6" dy="4">F</tspan></text>
<circle cx="196.9" cy="738.4" r="21.35" fill="none" stroke="#262626" stroke-width="0.9"/>
<circle cx="196.9" cy="738.4" r="42.7" fill="none" stroke="#262626" stroke-width="0.9"/>
<circle cx="196.9" cy="738.4" r="64.05" fill="none" stroke="#262626" stroke-width="0.9"/>
<circle cx="196.9" cy="738.4" r="85.4" fill="none" stroke="#262626" stroke-width="0.9"/>
<line x1="196.9" y1="727.2" x2="196.9" y2="653" stroke="#262626" stroke-width="1" />
<line x1="204.82" y1="730.48" x2="257.29" y2="678.01" stroke="#262626" stroke-width="1" />
<line x1="204.82" y1="746.32" x2="257.29" y2="798.79" stroke="#262626" stroke-width="1" />
<line x1="196.9" y1="749.6" x2="196.9" y2="823.8" stroke="#262626" stroke-width="1" />
<line x1="188.98" y1="746.32" x2="136.51" y2="798.79" stroke="#262626" stroke-width="1" />
<line x1="188.98" y1="730.48" x2="136.51" y2="678.01" stroke="#262626" stroke-width="1" />
<polygon points="196.9,672.64 197.47,673.05 198.03,673.45 198.59,673.86 199.14,674.27 199.68,674.68 200.22,675.08 200.75,675.49 201.27,675.9 201.79,676.31 202.3,676.72 202.8,677.13 203.3,677.54 203.79,677.96 204.27,678.38 204.75,678.8 205.22,679.23 205.68,679.66 206.13,680.1 206.58,680.54 207.02,681 207.45,681.46 207.88,681.94 208.29,682.41 208.7,682.9 209.1,683.38 209.49,683.87 209.87,684.36 210.25,684.85 210.62,685.33 210.99,685.81 211.35,686.29 211.71,686.76 212.06,687.23 212.4,687.69 212.74,688.15 213.08,688.62 213.4,689.07 213.73,689.53 214.04,689.99 214.35,690.45 214.66,690.91 214.95,691.37 215.24,691.84 215.53,692.3 215.8,692.76 216.08,693.22 216.34,693.68 216.6,694.14 216.86,694.6 217.11,695.06 217.36,695.51 217.6,695.96 217.83,696.41 218.06,696.86 218.29,697.31 218.51,697.76 218.72,698.21 218.93,698.66 219.13,699.12 219.32,699.57 219.5,700.03 219.68,700.49 219.85,700.95 220.02,701.41 220.18,701.86 220.33,702.32 220.48,702.78 220.62,703.23 220.76,703.68 220.9,704.12 221.04,704.56 221.17,705 221.29,705.43 221.42,705.86 221.53,706.3 221.65,706.73 221.75,707.16 221.85,707.59 221.94,708.03 222.01,708.47 222.08,708.91 222.14,709.36 222.19,709.81 222.24,710.26 222.28,710.71 222.31,711.15 222.34,711.59 222.36,712.03 222.39,712.46 222.41,712.89 222.44,713.3 222.46,713.71 222.49,714.12 222.5,714.52 222.52,714.93 222.52,715.33 222.51,715.74 222.5,716.15 222.46,716.57 222.41,716.99 222.35,717.42 222.26,717.86 222.16,718.31 222.05,718.75 221.92,719.2 221.79,719.64 221.65,720.09 221.5,720.52 221.36,720.95 221.21,721.38 221.06,721.79 220.92,722.2 220.77,722.6 220.63,722.99 220.48,723.38 220.32,723.76 220.17,724.14 220,724.52 219.83,724.9 219.64,725.27 219.45,725.64 219.24,726.01 219.03,726.38 218.81,726.75 218.59,727.11 218.35,727.47 218.12,727.82 217.88,728.17 217.65,728.5 217.41,728.84 217.18,729.16 216.94,729.48 216.71,729.79 216.47,730.09 216.24,730.39 215.99,730.69 215.75,730.98 215.49,731.26 215.23,731.55 214.96,731.83 214.67,732.11 214.38,732.38 214.08,732.65 213.78,732.92 213.47,733.18 213.16,733.43 212.85,733.67 212.55,733.91 212.25,734.14 211.95,734.37 211.67,734.58 211.39,734.79 211.13,734.98 210.87,735.17 210.62,735.36 210.38,735.53 210.15,735.7 209.93,735.87 209.72,736.02 209.52,736.18 209.32,736.32 209.13,736.46 208.95,736.6 208.78,736.73 208.62,736.86 208.47,736.98 208.33,737.1 208.2,737.21 208.07,737.32 207.96,737.43 207.86,737.54 207.76,737.64 207.68,737.74 207.61,737.84 207.55,737.94 207.5,738.03 207.47,738.12 207.45,738.22 207.45,738.31 207.47,738.4 207.5,738.49 207.55,738.59 207.61,738.68 207.69,738.78 207.78,738.87 207.88,738.98 207.99,739.08 208.11,739.18 208.25,739.29 208.39,739.4 208.53,739.52 208.69,739.64 208.85,739.76 209.02,739.89 209.21,740.02 209.41,740.16 209.62,740.3 209.85,740.45 210.09,740.61 210.36,740.77 210.64,740.95 210.94,741.13 211.26,741.32 211.6,741.53 211.97,741.74 212.37,741.97 212.79,742.21 213.24,742.47 213.72,742.75 214.22,743.04 214.76,743.35 215.33,743.68 215.91,744.03 216.51,744.4 217.12,744.78 217.74,745.17 218.36,745.58 218.98,746 219.58,746.43 220.17,746.87 220.75,747.32 221.3,747.77 221.85,748.23 222.39,748.7 222.91,749.18 223.44,749.66 223.96,750.17 224.48,750.68 225.01,751.21 225.54,751.75 226.08,752.32 226.62,752.9 227.18,753.5 227.73,754.11 228.29,754.74 228.86,755.39 229.42,756.06 229.98,756.74 230.55,757.44 231.11,758.15 231.66,758.88 232.21,759.62 232.75,760.37 233.29,761.14 233.81,761.92 234.33,762.71 234.83,763.51 235.32,764.31 235.79,765.13 236.25,765.95 236.69,766.78 237.11,767.62 237.52,768.46 237.91,769.3 238.28,770.15 238.64,771.01 238.98,771.87 239.31,772.74 239.62,773.61 239.91,774.49 240.19,775.38 240.46,776.27 240.71,777.16 240.94,778.05 241.15,778.95 241.34,779.84 241.51,780.73 241.66,781.62 241.78,782.51 241.89,783.39 241.97,784.26 242.02,785.13 242.06,785.98 242.06,786.83 242.05,787.67 242.01,788.5 241.95,789.32 241.87,790.13 241.77,790.93 241.64,791.72 241.49,792.49 241.32,793.25 241.13,794 240.92,794.74 240.69,795.47 240.44,796.18 240.17,796.88 239.89,797.57 239.59,798.25 239.27,798.91 238.94,799.56 238.59,800.21 238.22,800.83 237.84,801.45 237.45,802.04 237.03,802.63 236.6,803.19 236.16,803.74 235.7,804.27 235.22,804.78 234.73,805.27 234.23,805.74 233.71,806.19 233.17,806.62 232.63,807.03 232.07,807.42 231.5,807.8 230.92,808.16 230.34,808.51 229.74,808.83 229.14,809.15 228.53,809.44 227.91,809.72 227.29,809.99 226.66,810.24 226.02,810.47 225.37,810.68 224.72,810.88 224.07,811.06 223.41,811.23 222.74,811.37 222.07,811.5 221.39,811.61 220.72,811.7 220.03,811.77 219.35,811.82 218.66,811.85 217.96,811.86 217.27,811.85 216.57,811.82 215.87,811.76 215.17,811.69 214.47,811.6 213.77,811.49 213.08,811.36 212.38,811.22 211.68,811.06 210.99,810.89 210.3,810.71 209.62,810.52 208.93,810.31 208.26,810.1 207.58,809.88 206.91,809.64 206.25,809.39 205.58,809.13 204.93,808.86 204.28,808.57 203.63,808.27 202.98,807.95 202.35,807.62 201.72,807.27 201.09,806.91 200.47,806.54 199.86,806.15 199.25,805.76 198.65,805.37 198.06,804.97 197.48,804.56 196.9,804.16 196.33,803.75 195.77,803.35 195.21,802.94 194.66,802.53 194.12,802.12 193.58,801.72 193.05,801.31 192.53,800.9 192.01,800.49 191.5,800.08 191,799.67 190.5,799.26 190.01,798.84 189.53,798.42 189.05,798 188.58,797.57 188.12,797.14 187.67,796.7 187.22,796.26 186.78,795.8 186.35,795.34 185.92,794.86 185.51,794.39 185.1,793.9 184.7,793.42 184.31,792.93 183.93,792.44 183.55,791.95 183.18,791.47 182.81,790.99 182.45,790.51 182.09,790.04 181.74,789.57 181.4,789.11 181.06,788.65 180.72,788.18 180.4,787.73 180.07,787.27 179.76,786.81 179.45,786.35 179.14,785.89 178.85,785.43 178.56,784.96 178.27,784.5 178,784.04 177.72,783.58 177.46,783.12 177.2,782.66 176.94,782.2 176.69,781.74 176.44,781.29 176.2,780.84 175.97,780.39 175.74,779.94 175.51,779.49 175.29,779.04 175.08,778.59 174.87,778.14 174.67,777.68 174.48,777.23 174.3,776.77 174.12,776.31 173.95,775.85 173.78,775.39 173.62,774.94 173.47,774.48 173.32,774.02 173.18,773.57 173.04,773.12 172.9,772.68 172.76,772.24 172.63,771.8 172.51,771.37 172.38,770.94 172.27,770.5 172.15,770.07 172.05,769.64 171.95,769.21 171.86,768.77 171.79,768.33 171.72,767.89 171.66,767.44 171.61,766.99 171.56,766.54 171.52,766.09 171.49,765.65 171.46,765.21 171.44,764.77 171.41,764.34 171.39,763.91 171.36,763.5 171.34,763.09 171.31,762.68 171.3,762.28 171.28,761.87 171.28,761.47 171.29,761.06 171.3,760.65 171.34,760.23 171.39,759.81 171.45,759.38 171.54,758.94 171.64,758.49 171.75,758.05 171.88,757.6 172.01,757.16 172.15,756.71 172.3,756.28 172.44,755.85 172.59,755.42 172.74,755.01 172.88,754.6 173.03,754.2 173.17,753.81 173.32,753.42 173.48,753.04 173.63,752.66 173.8,752.28 173.97,751.9 174.16,751.53 174.35,751.16 174.56,750.79 174.77,750.42 174.99,750.05 175.21,749.69 175.45,749.33 175.68,748.98 175.92,748.63 176.15,748.3 176.39,747.96 176.62,747.64 176.86,747.32 177.09,747.01 177.33,746.71 177.56,746.41 177.81,746.11 178.05,745.82 178.31,745.54 178.57,745.25 178.84,744.97 179.13,744.69 179.42,744.42 179.72,744.15 180.02,743.88 180.33,743.62 180.64,743.37 180.95,743.13 181.25,742.89 181.55,742.66 181.85,742.43 182.13,742.22 182.41,742.01 182.67,741.82 182.93,741.63 183.18,741.44 183.42,741.27 183.65,741.1 183.87,740.93 184.08,740.78 184.28,740.62 184.48,740.48 184.67,740.34 184.85,740.2 185.02,740.07 185.18,739.94 185.33,739.82 185.47,739.7 185.6,739.59 185.73,739.48 185.84,739.37 185.94,739.26 186.04,739.16 186.12,739.06 186.19,738.96 186.25,738.86 186.3,738.77 186.33,738.68 186.35,738.58 186.35,738.49 186.33,738.4 186.3,738.31 186.25,738.21 186.19,738.12 186.11,738.02 186.02,737.93 185.92,737.82 185.81,737.72 185.69,737.62 185.55,737.51 185.41,737.4 185.27,737.28 185.11,737.16 184.95,737.04 184.78,736.91 184.59,736.78 184.39,736.64 184.18,736.5 183.95,736.35 183.71,736.19 183.44,736.03 183.16,735.85 182.86,735.67 182.54,735.48 182.2,735.27 181.83,735.06 181.43,734.83 181.01,734.59 180.56,734.33 180.08,734.05 179.58,733.76 179.04,733.45 178.47,733.12 177.89,732.77 177.29,732.4 176.68,732.02 176.06,731.63 175.44,731.22 174.82,730.8 174.22,730.37 173.63,729.93 173.05,729.48 172.5,729.03 171.95,728.57 171.41,728.1 170.89,727.62 170.36,727.14 169.84,726.63 169.32,726.12 168.79,725.59 168.26,725.05 167.72,724.48 167.18,723.9 166.62,723.3 166.07,722.69 165.51,722.06 164.94,721.41 164.38,720.74 163.82,720.06 163.25,719.36 162.69,718.65 162.14,717.92 161.59,717.18 161.05,716.43 160.51,715.66 159.99,714.88 159.47,714.09 158.97,713.29 158.48,712.49 158.01,711.67 157.55,710.85 157.11,710.02 156.69,709.18 156.28,708.34 155.89,707.5 155.52,706.65 155.16,705.79 154.82,704.93 154.49,704.06 154.18,703.19 153.89,702.31 153.61,701.42 153.34,700.53 153.09,699.64 152.86,698.75 152.65,697.85 152.46,696.96 152.29,696.07 152.14,695.18 152.02,694.29 151.91,693.41 151.83,692.54 151.78,691.67 151.74,690.82 151.74,689.97 151.75,689.13 151.79,688.3 151.85,687.48 151.93,686.67 152.03,685.87 152.16,685.08 152.31,684.31 152.48,683.55 152.67,682.8 152.88,682.06 153.11,681.33 153.36,680.62 153.63,679.92 153.91,679.23 154.21,678.55 154.53,677.89 154.86,677.24 155.21,676.59 155.58,675.97 155.96,675.35 156.35,674.76 156.77,674.17 157.2,673.61 157.64,673.06 158.1,672.53 158.58,672.02 159.07,671.53 159.57,671.06 160.09,670.61 160.63,670.18 161.17,669.77 161.73,669.38 162.3,669 162.88,668.64 163.46,668.29 164.06,667.97 164.66,667.65 165.27,667.36 165.89,667.08 166.51,666.81 167.14,666.56 167.78,666.33 168.43,666.12 169.08,665.92 169.73,665.74 170.39,665.57 171.06,665.43 171.73,665.3 172.41,665.19 173.08,665.1 173.77,665.03 174.45,664.98 175.14,664.95 175.84,664.94 176.53,664.95 177.23,664.98 177.93,665.04 178.63,665.11 179.33,665.2 180.03,665.31 180.72,665.44 181.42,665.58 182.12,665.74 182.81,665.91 183.5,666.09 184.18,666.28 184.87,666.49 185.54,666.7 186.22,666.92 186.89,667.16 187.55,667.41 188.22,667.67 188.87,667.94 189.52,668.23 190.17,668.53 190.82,668.85 191.45,669.18 192.08,669.53 192.71,669.89 193.33,670.26 193.94,670.65 194.55,671.04 195.15,671.43 195.74,671.83 196.32,672.24 196.9,672.64" fill="#e8404a" fill-opacity="0.55" stroke="#f01818" stroke-width="0.8"/>
<circle cx="196.9" cy="672.64" r="1.35" fill="#f01818"/>
<circle cx="202.3" cy="676.72" r="1.35" fill="#f01818"/>
<circle cx="207.02" cy="681" r="1.35" fill="#f01818"/>
<circle cx="210.99" cy="685.81" r="1.35" fill="#f01818"/>
<circle cx="214.35" cy="690.45" r="1.35" fill="#f01818"/>
<circle cx="217.11" cy="695.06" r="1.35" fill="#f01818"/>
<circle cx="219.32" cy="699.57" r="1.35" fill="#f01818"/>
<circle cx="220.9" cy="704.12" r="1.35" fill="#f01818"/>
<circle cx="222.01" cy="708.47" r="1.35" fill="#f01818"/>
<circle cx="222.41" cy="712.89" r="1.35" fill="#f01818"/>
<circle cx="222.41" cy="716.99" r="1.35" fill="#f01818"/>
<circle cx="221.21" cy="721.38" r="1.35" fill="#f01818"/>
<circle cx="219.64" cy="725.27" r="1.35" fill="#f01818"/>
<circle cx="217.41" cy="728.84" r="1.35" fill="#f01818"/>
<circle cx="214.96" cy="731.83" r="1.35" fill="#f01818"/>
<circle cx="211.95" cy="734.37" r="1.35" fill="#f01818"/>
<circle cx="209.52" cy="736.18" r="1.35" fill="#f01818"/>
<circle cx="207.96" cy="737.43" r="1.35" fill="#f01818"/>
<circle cx="207.47" cy="738.4" r="1.35" fill="#f01818"/>
<circle cx="208.39" cy="739.4" r="1.35" fill="#f01818"/>
<circle cx="210.36" cy="740.77" r="1.35" fill="#f01818"/>
<circle cx="214.22" cy="743.04" r="1.35" fill="#f01818"/>
<circle cx="220.17" cy="746.87" r="1.35" fill="#f01818"/>
<circle cx="225.54" cy="751.75" r="1.35" fill="#f01818"/>
<circle cx="231.11" cy="758.15" r="1.35" fill="#f01818"/>
<circle cx="236.25" cy="765.95" r="1.35" fill="#f01818"/>
<circle cx="239.91" cy="774.49" r="1.35" fill="#f01818"/>
<circle cx="241.89" cy="783.39" r="1.35" fill="#f01818"/>
<circle cx="241.64" cy="791.72" r="1.35" fill="#f01818"/>
<circle cx="239.27" cy="798.91" r="1.35" fill="#f01818"/>
<circle cx="235.22" cy="804.78" r="1.35" fill="#f01818"/>
<circle cx="229.74" cy="808.83" r="1.35" fill="#f01818"/>
<circle cx="223.41" cy="811.23" r="1.35" fill="#f01818"/>
<circle cx="216.57" cy="811.82" r="1.35" fill="#f01818"/>
<circle cx="209.62" cy="810.52" r="1.35" fill="#f01818"/>
<circle cx="202.98" cy="807.95" r="1.35" fill="#f01818"/>
<circle cx="196.9" cy="804.16" r="1.35" fill="#f01818"/>
<circle cx="191.5" cy="800.08" r="1.35" fill="#f01818"/>
<circle cx="186.78" cy="795.8" r="1.35" fill="#f01818"/>
<circle cx="182.81" cy="790.99" r="1.35" fill="#f01818"/>
<circle cx="179.45" cy="786.35" r="1.35" fill="#f01818"/>
<circle cx="176.69" cy="781.74" r="1.35" fill="#f01818"/>
<circle cx="174.48" cy="777.23" r="1.35" fill="#f01818"/>
<circle cx="172.9" cy="772.68" r="1.35" fill="#f01818"/>
<circle cx="171.79" cy="768.33" r="1.35" fill="#f01818"/>
<circle cx="171.39" cy="763.91" r="1.35" fill="#f01818"/>
<circle cx="171.39" cy="759.81" r="1.35" fill="#f01818"/>
<circle cx="172.59" cy="755.42" r="1.35" fill="#f01818"/>
<circle cx="174.16" cy="751.53" r="1.35" fill="#f01818"/>
<circle cx="176.39" cy="747.96" r="1.35" fill="#f01818"/>
<circle cx="178.84" cy="744.97" r="1.35" fill="#f01818"/>
<circle cx="181.85" cy="742.43" r="1.35" fill="#f01818"/>
<circle cx="184.28" cy="740.62" r="1.35" fill="#f01818"/>
<circle cx="185.84" cy="739.37" r="1.35" fill="#f01818"/>
<circle cx="186.33" cy="738.4" r="1.35" fill="#f01818"/>
<circle cx="185.41" cy="737.4" r="1.35" fill="#f01818"/>
<circle cx="183.44" cy="736.03" r="1.35" fill="#f01818"/>
<circle cx="179.58" cy="733.76" r="1.35" fill="#f01818"/>
<circle cx="173.63" cy="729.93" r="1.35" fill="#f01818"/>
<circle cx="168.26" cy="725.05" r="1.35" fill="#f01818"/>
<circle cx="162.69" cy="718.65" r="1.35" fill="#f01818"/>
<circle cx="157.55" cy="710.85" r="1.35" fill="#f01818"/>
<circle cx="153.89" cy="702.31" r="1.35" fill="#f01818"/>
<circle cx="151.91" cy="693.41" r="1.35" fill="#f01818"/>
<circle cx="152.16" cy="685.08" r="1.35" fill="#f01818"/>
<circle cx="154.53" cy="677.89" r="1.35" fill="#f01818"/>
<circle cx="158.58" cy="672.02" r="1.35" fill="#f01818"/>
<circle cx="164.06" cy="667.97" r="1.35" fill="#f01818"/>
<circle cx="170.39" cy="665.57" r="1.35" fill="#f01818"/>
<circle cx="177.23" cy="664.98" r="1.35" fill="#f01818"/>
<circle cx="184.18" cy="666.28" r="1.35" fill="#f01818"/>
<circle cx="190.82" cy="668.85" r="1.35" fill="#f01818"/>
<line x1="111.2" y1="738.4" x2="282.6" y2="738.4" stroke="#f02020" stroke-width="1" />
<text x="198.7" y="650.8" font-size="9.3" text-anchor="middle" fill="#222" style="font-family:'Liberation Sans',sans-serif;" >0º</text>
<text x="257.2" y="677.3" font-size="9.3" text-anchor="start" fill="#222" style="font-family:'Liberation Sans',sans-serif;" >45º</text>
<text x="137.6" y="677.3" font-size="9.3" text-anchor="end" fill="#222" style="font-family:'Liberation Sans',sans-serif;" >315º</text>
<text x="285.6" y="741.6" font-size="9.3" text-anchor="start" fill="#f02020" style="font-family:'Liberation Sans',sans-serif;" >90º</text>
<text x="110.2" y="741.6" font-size="9.3" text-anchor="end" fill="#f02020" style="font-family:'Liberation Sans',sans-serif;" >270º</text>
<text x="258" y="807.3" font-size="9.3" text-anchor="start" fill="#222" style="font-family:'Liberation Sans',sans-serif;" >135º</text>
<text x="137.6" y="807.3" font-size="9.3" text-anchor="end" fill="#222" style="font-family:'Liberation Sans',sans-serif;" >225º</text>
<text x="198.7" y="834.2" font-size="9.3" text-anchor="middle" fill="#222" style="font-family:'Liberation Sans',sans-serif;" >180º</text>
<line x1="86" y1="653" x2="86" y2="738.4" stroke="#222" stroke-width="1" />
<line x1="83.2" y1="738.4" x2="86" y2="738.4" stroke="#222" stroke-width="1" />
<line x1="84.4" y1="727.73" x2="86" y2="727.73" stroke="#222" stroke-width="1" />
<line x1="83.2" y1="717.05" x2="86" y2="717.05" stroke="#222" stroke-width="1" />
<line x1="84.4" y1="706.38" x2="86" y2="706.38" stroke="#222" stroke-width="1" />
<line x1="83.2" y1="695.7" x2="86" y2="695.7" stroke="#222" stroke-width="1" />
<line x1="84.4" y1="685.02" x2="86" y2="685.02" stroke="#222" stroke-width="1" />
<line x1="83.2" y1="674.35" x2="86" y2="674.35" stroke="#222" stroke-width="1" />
<line x1="84.4" y1="663.67" x2="86" y2="663.67" stroke="#222" stroke-width="1" />
<line x1="83.2" y1="653" x2="86" y2="653" stroke="#222" stroke-width="1" />
<text x="80.8" y="740.6" font-size="6.3" text-anchor="end" fill="#222" style="font-family:'Liberation Sans',sans-serif;" >0</text>
<text x="80.8" y="719.25" font-size="6.3" text-anchor="end" fill="#222" style="font-family:'Liberation Sans',sans-serif;" >10</text>
<text x="80.8" y="697.9" font-size="6.3" text-anchor="end" fill="#222" style="font-family:'Liberation Sans',sans-serif;" >20</text>
<text x="80.8" y="676.55" font-size="6.3" text-anchor="end" fill="#222" style="font-family:'Liberation Sans',sans-serif;" >30</text>
<text x="80.8" y="655.2" font-size="6.3" text-anchor="end" fill="#222" style="font-family:'Liberation Sans',sans-serif;" >40</text>
<text transform="translate(63.6,688.8) rotate(-90)" font-size="13" text-anchor="middle" fill="#111" style="font-family:'Liberation Sans',sans-serif"><tspan font-family="Liberation Serif" font-size="16">χ</tspan><tspan font-size="9" dx="0.8" dy="-6.5">2</tspan></text>
<circle cx="487.5" cy="739.8" r="21.4" fill="none" stroke="#262626" stroke-width="0.9"/>
<circle cx="487.5" cy="739.8" r="42.8" fill="none" stroke="#262626" stroke-width="0.9"/>
<circle cx="487.5" cy="739.8" r="64.2" fill="none" stroke="#262626" stroke-width="0.9"/>
<circle cx="487.5" cy="739.8" r="85.6" fill="none" stroke="#262626" stroke-width="0.9"/>
<line x1="498.7" y1="739.8" x2="573.1" y2="739.8" stroke="#7a7a7a" stroke-width="1" />
<line x1="476.3" y1="739.8" x2="401.9" y2="739.8" stroke="#7a7a7a" stroke-width="1" />
<line x1="487.5" y1="728.6" x2="487.5" y2="654.2" stroke="#262626" stroke-width="1" />
<line x1="479.58" y1="731.88" x2="426.97" y2="679.27" stroke="#262626" stroke-width="1" />
<line x1="479.58" y1="747.72" x2="426.97" y2="800.33" stroke="#262626" stroke-width="1" />
<line x1="487.5" y1="751" x2="487.5" y2="825.4" stroke="#262626" stroke-width="1" />
<line x1="495.42" y1="747.72" x2="548.03" y2="800.33" stroke="#262626" stroke-width="1" />
<polygon points="528.87,739.8 528.43,739.44 527.99,739.09 527.56,738.75 527.11,738.42 526.66,738.09 526.18,737.77 525.67,737.47 525.12,737.17 524.53,736.89 523.88,736.62 523.18,736.36 522.44,736.13 521.66,735.91 520.87,735.7 520.07,735.51 519.27,735.33 518.5,735.17 517.77,735.01 517.08,734.85 516.44,734.7 515.86,734.54 515.31,734.39 514.8,734.24 514.33,734.1 513.87,733.95 513.43,733.81 513.01,733.68 512.59,733.54 512.18,733.42 511.75,733.3 511.32,733.19 510.88,733.09 510.44,733 509.99,732.92 509.54,732.85 509.09,732.78 508.65,732.72 508.2,732.67 507.77,732.62 507.34,732.58 506.93,732.54 506.52,732.5 506.12,732.46 505.73,732.43 505.35,732.4 504.98,732.38 504.61,732.36 504.25,732.34 503.89,732.33 503.53,732.32 503.18,732.32 502.83,732.32 502.49,732.33 502.15,732.33 501.83,732.34 501.51,732.35 501.2,732.36 500.9,732.37 500.62,732.38 500.35,732.38 500.09,732.38 499.85,732.38 499.63,732.37 499.41,732.36 499.2,732.35 499,732.33 498.81,732.31 498.63,732.29 498.45,732.27 498.28,732.25 498.11,732.23 497.95,732.21 497.78,732.19 497.62,732.17 497.46,732.15 497.31,732.13 497.16,732.11 497.02,732.09 496.88,732.07 496.75,732.04 496.62,732.01 496.5,731.98 496.39,731.94 496.28,731.89 496.18,731.85 496.08,731.8 495.99,731.74 495.9,731.69 495.82,731.63 495.74,731.56 495.66,731.5 495.58,731.43 495.51,731.36 495.44,731.29 495.37,731.21 495.3,731.14 495.23,731.06 495.17,730.98 495.1,730.9 495.04,730.82 494.97,730.73 494.91,730.65 494.85,730.56 494.79,730.47 494.73,730.37 494.68,730.27 494.62,730.17 494.57,730.07 494.51,729.97 494.46,729.86 494.41,729.75 494.35,729.64 494.3,729.52 494.25,729.41 494.2,729.29 494.14,729.17 494.09,729.05 494.03,728.93 493.98,728.8 493.92,728.68 493.86,728.56 493.8,728.43 493.74,728.3 493.68,728.18 493.62,728.05 493.55,727.92 493.49,727.8 493.42,727.67 493.35,727.54 493.28,727.41 493.21,727.28 493.13,727.15 493.06,727.02 492.98,726.89 492.9,726.76 492.82,726.63 492.74,726.5 492.65,726.37 492.57,726.25 492.48,726.12 492.39,725.99 492.3,725.86 492.21,725.74 492.11,725.61 492.01,725.49 491.91,725.36 491.81,725.24 491.71,725.12 491.6,725.01 491.5,724.89 491.39,724.78 491.27,724.67 491.16,724.56 491.04,724.45 490.93,724.35 490.81,724.25 490.68,724.15 490.56,724.06 490.43,723.97 490.31,723.88 490.18,723.8 490.05,723.72 489.91,723.65 489.78,723.57 489.65,723.51 489.51,723.44 489.37,723.38 489.23,723.32 489.09,723.26 488.95,723.21 488.81,723.16 488.67,723.12 488.52,723.07 488.38,723.03 488.23,722.99 488.09,722.96 487.94,722.93 487.79,722.9 487.65,722.87 487.5,722.85 487.35,722.83 487.2,722.81 487.05,722.8 486.91,722.78 486.76,722.77 486.61,722.77 486.46,722.76 486.31,722.76 486.16,722.76 486.01,722.76 485.86,722.77 485.71,722.78 485.56,722.79 485.41,722.8 485.26,722.82 485.12,722.84 484.97,722.86 484.82,722.88 484.67,722.91 484.53,722.94 484.38,722.97 484.24,723.01 484.09,723.04 483.95,723.08 483.8,723.13 483.66,723.17 483.52,723.22 483.38,723.28 483.24,723.33 483.1,723.4 482.97,723.46 482.83,723.53 482.7,723.6 482.57,723.68 482.44,723.76 482.32,723.84 482.19,723.93 482.07,724.03 481.95,724.12 481.83,724.23 481.72,724.33 481.6,724.44 481.49,724.55 481.38,724.66 481.28,724.78 481.18,724.9 481.07,725.02 480.98,725.15 480.88,725.27 480.78,725.4 480.69,725.53 480.6,725.66 480.51,725.79 480.43,725.92 480.34,726.05 480.26,726.18 480.18,726.32 480.1,726.45 480.02,726.59 479.95,726.72 479.88,726.86 479.81,727 479.74,727.14 479.68,727.28 479.62,727.43 479.56,727.57 479.51,727.72 479.45,727.87 479.41,728.02 479.36,728.18 479.32,728.33 479.28,728.49 479.25,728.65 479.22,728.81 479.19,728.97 479.17,729.14 479.15,729.31 479.14,729.48 479.13,729.65 479.13,729.83 479.13,730 479.14,730.18 479.15,730.36 479.16,730.54 479.18,730.72 479.21,730.91 479.24,731.1 479.28,731.29 479.32,731.48 479.37,731.67 479.42,731.86 479.47,732.05 479.54,732.24 479.6,732.44 479.68,732.63 479.75,732.82 479.83,733.02 479.92,733.21 480.01,733.4 480.11,733.6 480.2,733.79 480.3,733.97 480.41,734.16 480.51,734.34 480.62,734.52 480.73,734.7 480.83,734.87 480.94,735.03 481.04,735.19 481.14,735.35 481.24,735.5 481.34,735.64 481.43,735.78 481.52,735.92 481.61,736.05 481.7,736.17 481.78,736.3 481.87,736.42 481.96,736.54 482.05,736.65 482.13,736.76 482.22,736.88 482.32,736.99 482.41,737.09 482.51,737.2 482.61,737.31 482.71,737.41 482.82,737.52 482.92,737.62 483.03,737.72 483.14,737.82 483.26,737.91 483.37,738.01 483.49,738.1 483.6,738.19 483.72,738.27 483.84,738.36 483.96,738.44 484.08,738.52 484.2,738.6 484.32,738.67 484.44,738.74 484.55,738.81 484.67,738.88 484.78,738.94 484.9,739 485.01,739.06 485.12,739.12 485.23,739.17 485.33,739.22 485.43,739.27 485.53,739.31 485.63,739.35 485.72,739.39 485.81,739.42 485.89,739.46 485.97,739.49 486.04,739.52 486.1,739.54 486.15,739.56 486.19,739.58 486.23,739.6 486.25,739.61 486.25,739.62 486.25,739.64 486.23,739.64 486.19,739.65 486.14,739.66 486.07,739.66 485.99,739.67 485.89,739.67 485.78,739.68 485.66,739.69 485.52,739.7 485.37,739.71 485.22,739.72 485.05,739.74 484.87,739.75 484.68,739.78 484.48,739.8 484.28,739.83 484.06,739.86 483.84,739.9 483.62,739.94 483.39,739.98 483.16,740.03 482.92,740.08 482.68,740.14 482.44,740.2 482.2,740.26 481.96,740.33 481.72,740.41 481.48,740.49 481.24,740.57 481,740.66 480.75,740.75 480.49,740.85 480.23,740.95 479.97,741.06 479.69,741.18 479.4,741.3 479.1,741.43 478.8,741.57 478.48,741.72 478.15,741.87 477.81,742.04 477.47,742.21 477.11,742.39 476.74,742.58 476.37,742.78 475.98,743 475.58,743.22 475.18,743.45 474.76,743.69 474.34,743.95 473.9,744.22 473.45,744.5 473,744.79 472.53,745.1 472.06,745.42 471.57,745.76 471.08,746.1 470.58,746.47 470.08,746.84 469.57,747.23 469.07,747.62 468.57,748.03 468.08,748.45 467.6,748.87 467.12,749.3 466.66,749.74 466.21,750.18 465.77,750.64 465.34,751.09 464.91,751.56 464.49,752.03 464.08,752.52 463.67,753.01 463.27,753.51 462.86,754.02 462.46,754.55 462.06,755.08 461.67,755.63 461.27,756.19 460.88,756.76 460.49,757.34 460.11,757.93 459.73,758.53 459.35,759.14 458.98,759.77 458.62,760.4 458.26,761.04 457.91,761.69 457.58,762.35 457.25,763.01 456.93,763.68 456.63,764.36 456.34,765.04 456.06,765.71 455.81,766.39 455.57,767.07 455.34,767.75 455.13,768.43 454.94,769.12 454.76,769.8 454.59,770.49 454.43,771.18 454.28,771.88 454.14,772.58 454.01,773.29 453.88,774.01 453.76,774.73 453.66,775.46 453.56,776.2 453.47,776.94 453.39,777.68 453.32,778.43 453.27,779.18 453.23,779.93 453.2,780.67 453.19,781.42 453.19,782.16 453.21,782.91 453.25,783.64 453.3,784.38 453.36,785.1 453.44,785.83 453.54,786.54 453.65,787.25 453.79,787.95 453.93,788.64 454.1,789.32 454.28,789.99 454.47,790.66 454.68,791.32 454.9,791.97 455.13,792.62 455.38,793.26 455.63,793.9 455.9,794.53 456.18,795.17 456.46,795.79 456.76,796.42 457.06,797.04 457.38,797.67 457.7,798.29 458.03,798.9 458.37,799.52 458.72,800.14 459.08,800.75 459.44,801.37 459.82,801.98 460.2,802.58 460.59,803.19 461,803.78 461.42,804.36 461.84,804.93 462.28,805.49 462.74,806.04 463.2,806.56 463.68,807.07 464.17,807.56 464.67,808.04 465.18,808.5 465.7,808.95 466.23,809.39 466.76,809.82 467.3,810.24 467.85,810.66 468.4,811.07 468.96,811.49 469.52,811.9 470.09,812.31 470.67,812.71 471.25,813.11 471.84,813.49 472.43,813.87 473.03,814.24 473.64,814.6 474.25,814.94 474.87,815.27 475.5,815.58 476.13,815.88 476.77,816.17 477.41,816.44 478.06,816.71 478.71,816.96 479.36,817.21 480.02,817.45 480.69,817.68 481.35,817.91 482.02,818.13 482.7,818.35 483.37,818.55 484.05,818.75 484.74,818.94 485.42,819.12 486.11,819.28 486.81,819.44 487.5,819.58 488.2,819.71 488.9,819.83 489.6,819.93 490.3,820.02 491.01,820.1 491.71,820.17 492.42,820.23 493.13,820.28 493.84,820.32 494.55,820.36 495.26,820.38 495.97,820.39 496.68,820.4 497.4,820.4 498.11,820.39 498.82,820.36 499.54,820.33 500.25,820.29 500.96,820.24 501.67,820.18 502.38,820.1 503.09,820.02 503.8,819.92 504.51,819.82 505.21,819.7 505.92,819.57 506.62,819.43 507.32,819.29 508.02,819.13 508.71,818.96 509.41,818.79 510.1,818.6 510.79,818.41 511.47,818.21 512.16,818.01 512.84,817.79 513.52,817.57 514.2,817.34 514.87,817.1 515.55,816.86 516.22,816.6 516.88,816.34 517.54,816.07 518.2,815.79 518.85,815.49 519.5,815.19 520.14,814.88 520.78,814.55 521.41,814.21 522.04,813.86 522.65,813.5 523.26,813.13 523.87,812.74 524.47,812.35 525.06,811.95 525.64,811.54 526.22,811.12 526.8,810.7 527.37,810.27 527.93,809.83 528.49,809.39 529.05,808.95 529.6,808.5 530.14,808.04 530.68,807.58 531.21,807.11 531.74,806.63 532.25,806.15 532.76,805.65 533.26,805.15 533.75,804.64 534.23,804.12 534.7,803.59 535.16,803.05 535.62,802.51 536.06,801.96 536.5,801.4 536.92,800.83 537.34,800.26 537.75,799.69 538.16,799.11 538.55,798.53 538.94,797.94 539.32,797.35 539.7,796.76 540.06,796.17 540.43,795.57 540.79,794.98 541.14,794.38 541.49,793.79 541.84,793.2 542.18,792.6 542.52,792.01 542.86,791.42 543.19,790.83 543.51,790.24 543.83,789.64 544.14,789.04 544.44,788.43 544.72,787.81 544.99,787.19 545.24,786.56 545.48,785.92 545.7,785.27 545.9,784.61 546.08,783.94 546.25,783.27 546.4,782.59 546.53,781.91 546.65,781.22 546.76,780.53 546.85,779.83 546.92,779.13 546.99,778.43 547.04,777.73 547.08,777.03 547.12,776.33 547.14,775.64 547.16,774.94 547.18,774.25 547.19,773.57 547.19,772.89 547.19,772.21 547.19,771.54 547.18,770.87 547.16,770.2 547.13,769.53 547.09,768.86 547.04,768.2 546.98,767.54 546.9,766.87 546.82,766.21 546.72,765.55 546.6,764.89 546.47,764.23 546.32,763.57 546.16,762.91 545.97,762.25 545.77,761.59 545.55,760.93 545.31,760.27 545.05,759.61 544.77,758.96 544.48,758.31 544.17,757.67 543.85,757.03 543.52,756.39 543.18,755.77 542.83,755.15 542.48,754.53 542.13,753.93 541.77,753.33 541.41,752.74 541.04,752.16 540.66,751.59 540.28,751.02 539.89,750.46 539.48,749.9 539.07,749.36 538.64,748.82 538.2,748.28 537.75,747.76 537.29,747.24 536.82,746.73 536.34,746.23 535.85,745.74 535.35,745.25 534.85,744.78 534.34,744.31 533.83,743.85 533.32,743.41 532.81,742.97 532.29,742.54 531.78,742.12 531.28,741.71 530.78,741.31 530.28,740.92 529.8,740.54 529.33,740.17 528.87,739.8" fill="#e8404a" fill-opacity="0.55" stroke="#f01818" stroke-width="0.8"/>
<circle cx="528.87" cy="739.8" r="1.35" fill="#f01818"/>
<circle cx="523.88" cy="736.62" r="1.35" fill="#f01818"/>
<circle cx="516.44" cy="734.7" r="1.35" fill="#f01818"/>
<circle cx="511.75" cy="733.3" r="1.35" fill="#f01818"/>
<circle cx="507.34" cy="732.58" r="1.35" fill="#f01818"/>
<circle cx="503.53" cy="732.32" r="1.35" fill="#f01818"/>
<circle cx="500.35" cy="732.38" r="1.35" fill="#f01818"/>
<circle cx="498.28" cy="732.25" r="1.35" fill="#f01818"/>
<circle cx="496.75" cy="732.04" r="1.35" fill="#f01818"/>
<circle cx="495.74" cy="731.56" r="1.35" fill="#f01818"/>
<circle cx="495.04" cy="730.82" r="1.35" fill="#f01818"/>
<circle cx="494.46" cy="729.86" r="1.35" fill="#f01818"/>
<circle cx="493.92" cy="728.68" r="1.35" fill="#f01818"/>
<circle cx="493.28" cy="727.41" r="1.35" fill="#f01818"/>
<circle cx="492.48" cy="726.12" r="1.35" fill="#f01818"/>
<circle cx="491.5" cy="724.89" r="1.35" fill="#f01818"/>
<circle cx="490.31" cy="723.88" r="1.35" fill="#f01818"/>
<circle cx="488.95" cy="723.21" r="1.35" fill="#f01818"/>
<circle cx="487.5" cy="722.85" r="1.35" fill="#f01818"/>
<circle cx="486.01" cy="722.76" r="1.35" fill="#f01818"/>
<circle cx="484.53" cy="722.94" r="1.35" fill="#f01818"/>
<circle cx="483.1" cy="723.4" r="1.35" fill="#f01818"/>
<circle cx="481.83" cy="724.23" r="1.35" fill="#f01818"/>
<circle cx="480.78" cy="725.4" r="1.35" fill="#f01818"/>
<circle cx="479.95" cy="726.72" r="1.35" fill="#f01818"/>
<circle cx="479.36" cy="728.18" r="1.35" fill="#f01818"/>
<circle cx="479.13" cy="729.83" r="1.35" fill="#f01818"/>
<circle cx="479.37" cy="731.67" r="1.35" fill="#f01818"/>
<circle cx="480.11" cy="733.6" r="1.35" fill="#f01818"/>
<circle cx="481.14" cy="735.35" r="1.35" fill="#f01818"/>
<circle cx="482.05" cy="736.65" r="1.35" fill="#f01818"/>
<circle cx="483.03" cy="737.72" r="1.35" fill="#f01818"/>
<circle cx="484.2" cy="738.6" r="1.35" fill="#f01818"/>
<circle cx="485.33" cy="739.22" r="1.35" fill="#f01818"/>
<circle cx="486.15" cy="739.56" r="1.35" fill="#f01818"/>
<circle cx="485.99" cy="739.67" r="1.35" fill="#f01818"/>
<circle cx="484.48" cy="739.8" r="1.35" fill="#f01818"/>
<circle cx="482.2" cy="740.26" r="1.35" fill="#f01818"/>
<circle cx="479.69" cy="741.18" r="1.35" fill="#f01818"/>
<circle cx="476.37" cy="742.78" r="1.35" fill="#f01818"/>
<circle cx="472.06" cy="745.42" r="1.35" fill="#f01818"/>
<circle cx="467.12" cy="749.3" r="1.35" fill="#f01818"/>
<circle cx="462.86" cy="754.02" r="1.35" fill="#f01818"/>
<circle cx="458.98" cy="759.77" r="1.35" fill="#f01818"/>
<circle cx="455.81" cy="766.39" r="1.35" fill="#f01818"/>
<circle cx="454.01" cy="773.29" r="1.35" fill="#f01818"/>
<circle cx="453.2" cy="780.67" r="1.35" fill="#f01818"/>
<circle cx="453.79" cy="787.95" r="1.35" fill="#f01818"/>
<circle cx="455.9" cy="794.53" r="1.35" fill="#f01818"/>
<circle cx="459.08" cy="800.75" r="1.35" fill="#f01818"/>
<circle cx="463.2" cy="806.56" r="1.35" fill="#f01818"/>
<circle cx="468.4" cy="811.07" r="1.35" fill="#f01818"/>
<circle cx="474.25" cy="814.94" r="1.35" fill="#f01818"/>
<circle cx="480.69" cy="817.68" r="1.35" fill="#f01818"/>
<circle cx="487.5" cy="819.58" r="1.35" fill="#f01818"/>
<circle cx="494.55" cy="820.36" r="1.35" fill="#f01818"/>
<circle cx="501.67" cy="820.18" r="1.35" fill="#f01818"/>
<circle cx="508.71" cy="818.96" r="1.35" fill="#f01818"/>
<circle cx="515.55" cy="816.86" r="1.35" fill="#f01818"/>
<circle cx="522.04" cy="813.86" r="1.35" fill="#f01818"/>
<circle cx="527.93" cy="809.83" r="1.35" fill="#f01818"/>
<circle cx="533.26" cy="805.15" r="1.35" fill="#f01818"/>
<circle cx="537.75" cy="799.69" r="1.35" fill="#f01818"/>
<circle cx="541.49" cy="793.79" r="1.35" fill="#f01818"/>
<circle cx="544.72" cy="787.81" r="1.35" fill="#f01818"/>
<circle cx="546.65" cy="781.22" r="1.35" fill="#f01818"/>
<circle cx="547.18" cy="774.25" r="1.35" fill="#f01818"/>
<circle cx="546.98" cy="767.54" r="1.35" fill="#f01818"/>
<circle cx="545.55" cy="760.93" r="1.35" fill="#f01818"/>
<circle cx="542.48" cy="754.53" r="1.35" fill="#f01818"/>
<circle cx="538.64" cy="748.82" r="1.35" fill="#f01818"/>
<circle cx="533.83" cy="743.85" r="1.35" fill="#f01818"/>
<line x1="487.5" y1="739.8" x2="548.03" y2="679.27" stroke="#f02020" stroke-width="1" />
<line x1="487.5" y1="739.8" x2="403" y2="728" stroke="#f02020" stroke-width="1" />
<text x="489.5" y="651.8" font-size="9.3" text-anchor="middle" fill="#222" style="font-family:'Liberation Sans',sans-serif;" >90º</text>
<text x="418.5" y="678.8" font-size="9.3" text-anchor="middle" fill="#222" style="font-family:'Liberation Sans',sans-serif;" >135º</text>
<text x="548" y="677" font-size="9.3" text-anchor="start" fill="#f02020" style="font-family:'Liberation Sans',sans-serif;" >45º</text>
<text x="576.4" y="743" font-size="9.3" text-anchor="start" fill="#222" style="font-family:'Liberation Sans',sans-serif;" >0º</text>
<text x="401.4" y="743" font-size="9.3" text-anchor="end" fill="#222" style="font-family:'Liberation Sans',sans-serif;" >180º</text>
<text x="401.8" y="730.8" font-size="10.2" text-anchor="end" fill="#f02020" style="font-family:'Liberation Sans',sans-serif;" >171º</text>
<text x="418" y="808" font-size="9.3" text-anchor="middle" fill="#222" style="font-family:'Liberation Sans',sans-serif;" >225º</text>
<text x="557" y="808" font-size="9.3" text-anchor="middle" fill="#222" style="font-family:'Liberation Sans',sans-serif;" >315º</text>
<text x="489.5" y="834.2" font-size="9.3" text-anchor="middle" fill="#222" style="font-family:'Liberation Sans',sans-serif;" >270º</text>
<line x1="376.2" y1="654.2" x2="376.2" y2="739.8" stroke="#222" stroke-width="1" />
<line x1="373.4" y1="739.8" x2="376.2" y2="739.8" stroke="#222" stroke-width="1" />
<line x1="374.6" y1="729.1" x2="376.2" y2="729.1" stroke="#222" stroke-width="1" />
<line x1="373.4" y1="718.4" x2="376.2" y2="718.4" stroke="#222" stroke-width="1" />
<line x1="374.6" y1="707.7" x2="376.2" y2="707.7" stroke="#222" stroke-width="1" />
<line x1="373.4" y1="697" x2="376.2" y2="697" stroke="#222" stroke-width="1" />
<line x1="374.6" y1="686.3" x2="376.2" y2="686.3" stroke="#222" stroke-width="1" />
<line x1="373.4" y1="675.6" x2="376.2" y2="675.6" stroke="#222" stroke-width="1" />
<line x1="374.6" y1="664.9" x2="376.2" y2="664.9" stroke="#222" stroke-width="1" />
<line x1="373.4" y1="654.2" x2="376.2" y2="654.2" stroke="#222" stroke-width="1" />
<text x="371" y="742" font-size="6.3" text-anchor="end" fill="#222" style="font-family:'Liberation Sans',sans-serif;" >0</text>
<text x="371" y="720.6" font-size="6.3" text-anchor="end" fill="#222" style="font-family:'Liberation Sans',sans-serif;" >75</text>
<text x="371" y="699.2" font-size="6.3" text-anchor="end" fill="#222" style="font-family:'Liberation Sans',sans-serif;" >150</text>
<text x="371" y="677.8" font-size="6.3" text-anchor="end" fill="#222" style="font-family:'Liberation Sans',sans-serif;" >225</text>
<text x="371" y="656.4" font-size="6.3" text-anchor="end" fill="#222" style="font-family:'Liberation Sans',sans-serif;" >300</text>
<text transform="translate(353.4,684.2) rotate(-90)" font-size="13" text-anchor="middle" fill="#111" style="font-family:'Liberation Sans',sans-serif"><tspan font-family="Liberation Serif" font-size="16">χ</tspan><tspan font-size="9" dx="0.8" dy="-6.5">2</tspan></text>
</svg></body></html>
